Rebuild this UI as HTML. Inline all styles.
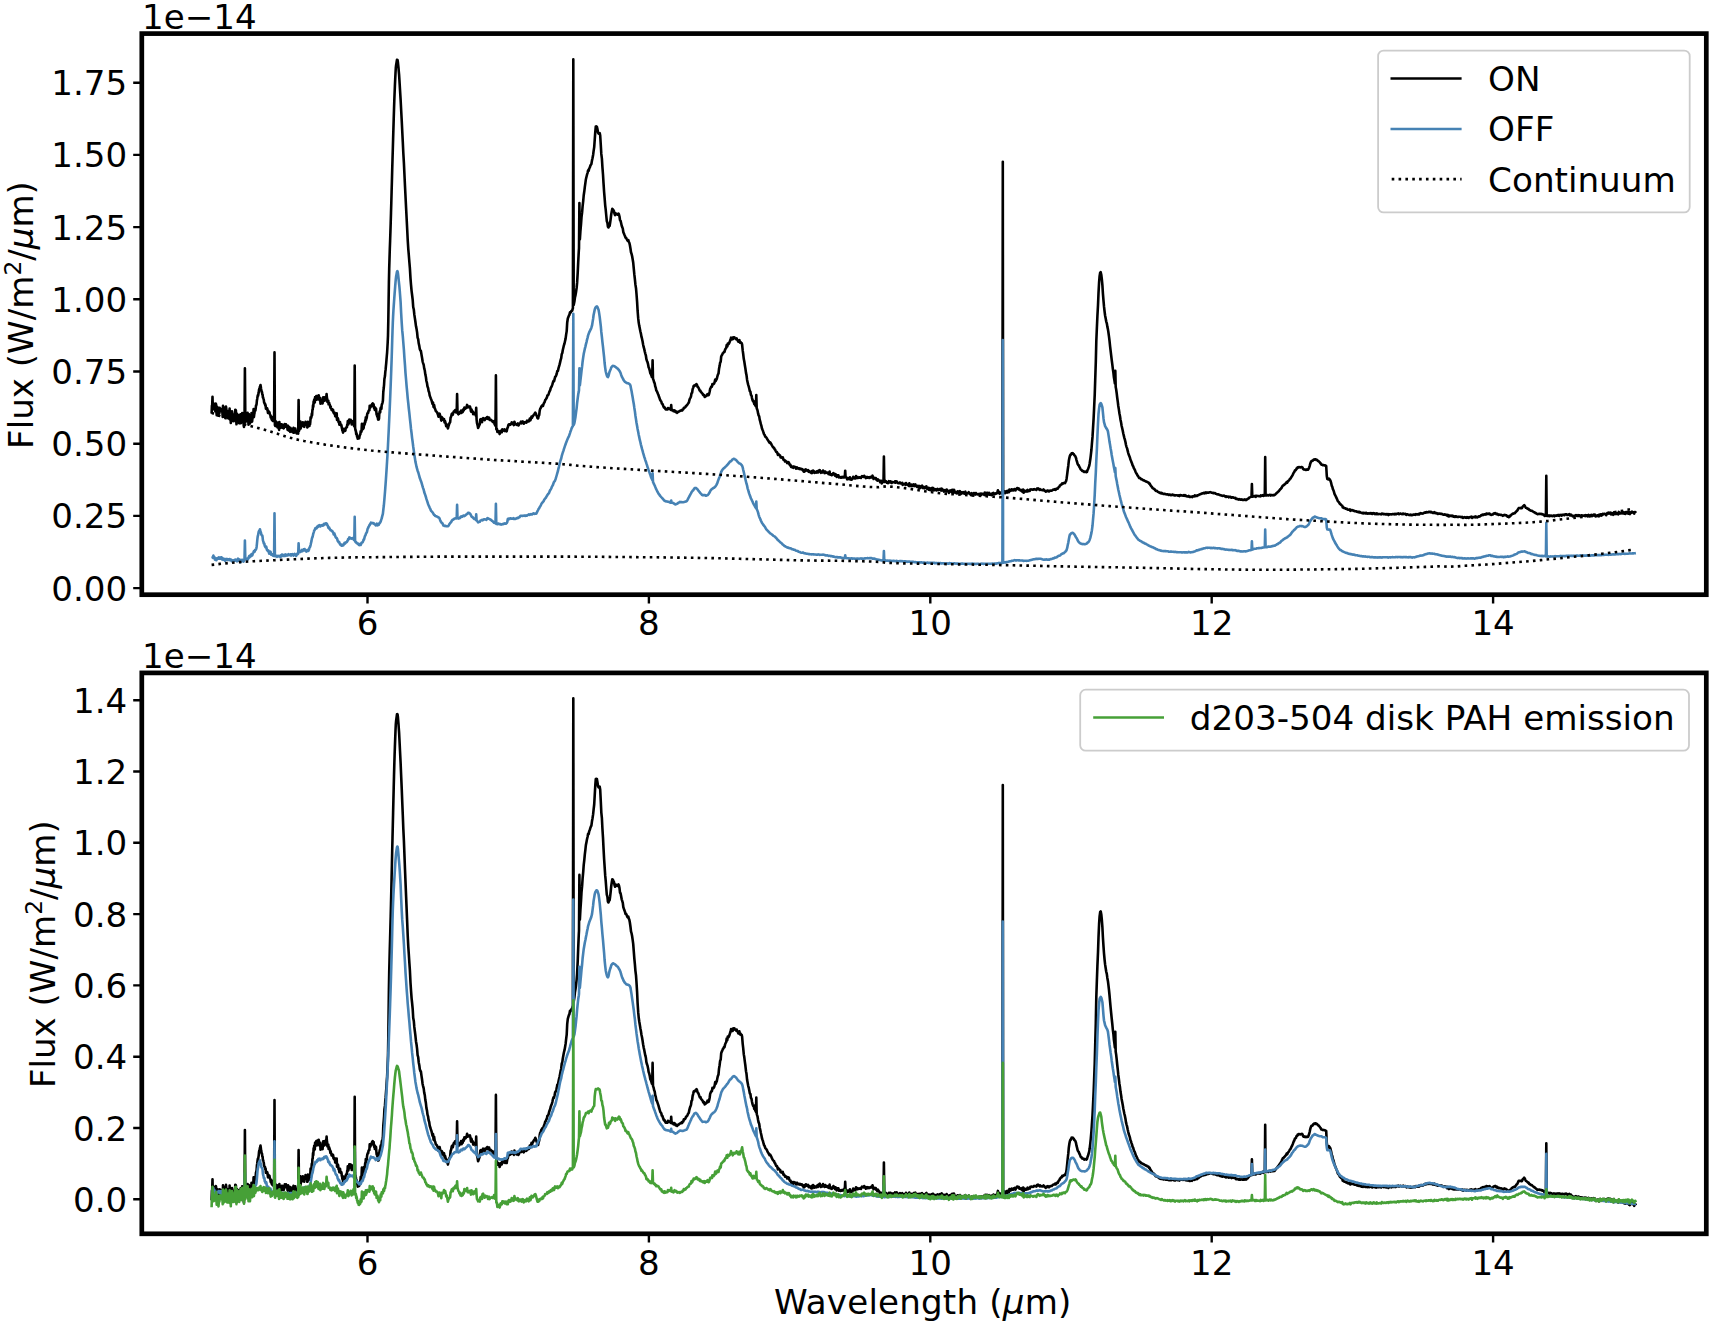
<!DOCTYPE html>
<html lang="en"><head><meta charset="utf-8"><title>Spectra</title>
<style>html,body{margin:0;padding:0;background:#fff}svg{display:block}text{font-family:"DejaVu Sans","Liberation Sans",sans-serif;fill:#000}</style></head><body>
<svg width="1713" height="1323" viewBox="0 0 1713 1323">
<rect width="1713" height="1323" fill="#fff"/>
<defs><clipPath id="c1"><rect x="141.8" y="33.6" width="1564.5" height="561.1"/></clipPath><clipPath id="c2"><rect x="141.8" y="672.9" width="1564.5" height="560.9"/></clipPath></defs>
<g clip-path="url(#c1)"><polyline fill="none" stroke="#000" stroke-width="2.6" stroke-linejoin="round"  points="211.6,413.6 211.9,405.8 212.2,405.1 212.5,396.8 212.8,407.3 213.1,406.2 213.4,405.5 213.7,408.9 214.0,409.5 214.3,403.9 214.6,404.7 214.9,406.4 215.2,411.1 215.5,410.7 215.8,403.6 216.1,404.5 216.4,411.8 216.7,415.2 217.0,409.1 217.3,406.7 217.6,413.7 217.9,408.4 218.2,412.5 218.5,415.8 218.8,412.4 219.1,410.4 219.4,413.1 219.7,407.9 220.0,409.8 220.3,408.4 220.6,410.0 220.9,409.0 221.2,410.3 221.5,409.7 221.8,411.6 222.1,411.6 222.4,412.7 222.7,417.0 223.0,405.9 223.3,416.8 223.6,411.1 223.9,407.4 224.2,411.6 224.5,412.7 224.8,416.6 225.1,408.6 225.4,413.6 225.7,413.3 226.0,406.6 226.3,408.6 226.6,415.5 226.9,416.0 227.2,417.6 227.5,415.6 227.8,415.2 228.1,414.3 228.4,418.5 228.7,410.9 229.0,413.6 229.3,415.8 229.6,408.5 229.9,419.5 230.2,411.7 230.5,414.5 230.8,423.0 231.1,411.9 231.4,413.1 231.7,421.1 232.0,411.3 232.3,413.8 232.6,417.5 232.9,417.4 233.2,418.1 233.5,417.4 233.8,421.2 234.1,420.1 234.4,418.6 234.7,414.0 235.0,414.0 235.3,409.7 235.6,419.5 235.9,410.3 236.2,420.5 236.5,424.3 236.8,413.6 237.1,415.1 237.4,416.0 237.7,421.0 238.0,414.9 238.3,417.7 238.6,416.3 238.9,417.5 239.2,423.3 239.5,415.0 239.8,418.9 240.1,419.8 240.4,422.0 240.7,414.2 241.0,423.1 241.3,420.6 241.6,422.2 241.9,419.3 242.2,413.0 242.5,416.7 242.8,422.0 243.1,419.2 243.4,418.8 243.7,425.6 244.0,427.0 244.3,418.8 244.5,423.6 244.9,368.3 245.3,414.9 245.5,422.0 245.8,417.8 246.1,420.8 246.4,420.5 246.7,418.3 247.0,421.0 247.3,419.0 247.6,412.8 247.9,419.1 248.2,418.9 248.5,424.8 248.8,414.0 249.1,418.0 249.4,416.3 249.7,417.2 250.0,423.5 250.3,418.7 250.6,415.5 250.9,417.5 251.2,419.5 251.5,413.0 251.8,415.4 252.1,421.7 252.4,418.9 252.7,415.4 253.0,413.5 253.3,414.3 253.6,409.0 253.9,417.1 254.2,414.5 254.5,413.3 254.8,409.0 255.1,409.5 255.4,410.5 255.7,408.4 256.0,405.6 256.3,405.2 256.6,403.9 256.9,400.5 257.2,398.9 257.5,396.9 257.8,395.2 258.1,395.7 258.4,394.1 258.7,392.6 259.0,389.9 259.3,388.8 259.6,388.4 259.9,386.8 260.2,386.4 260.5,385.1 260.8,386.8 261.1,389.0 261.4,390.3 261.7,392.0 262.0,392.0 262.3,394.3 262.6,394.6 262.9,397.5 263.2,397.7 263.5,398.9 263.8,399.9 264.1,402.4 264.4,403.0 264.7,403.9 265.0,403.5 265.3,405.7 265.6,405.0 265.9,408.7 266.2,407.8 266.5,408.8 266.8,409.2 267.1,408.3 267.4,409.1 267.7,411.0 268.0,413.0 268.3,410.9 268.6,411.8 268.9,413.0 269.2,411.8 269.5,412.3 269.8,414.1 270.1,414.9 270.4,415.1 270.7,417.5 271.0,416.3 271.3,417.4 271.6,419.2 271.9,419.8 272.2,417.1 272.5,418.9 272.8,421.0 273.1,419.0 273.4,419.9 273.7,420.0 274.0,420.3 274.1,420.5 274.5,352.4 274.9,425.0 275.2,425.9 275.5,424.1 275.8,421.3 276.1,424.8 276.4,424.8 276.7,426.4 277.0,425.8 277.3,422.9 277.6,427.5 277.9,422.7 278.2,425.5 278.5,427.5 278.8,427.6 279.1,429.9 279.4,422.1 279.7,427.4 280.0,428.1 280.3,426.0 280.6,427.8 280.9,424.3 281.2,427.7 281.5,427.4 281.8,424.4 282.1,424.9 282.4,425.8 282.7,424.8 283.0,428.0 283.3,426.3 283.6,428.4 283.9,428.1 284.2,426.0 284.5,425.5 284.8,424.0 285.1,424.3 285.4,424.4 285.7,426.6 286.0,424.4 286.3,426.3 286.6,426.7 286.9,425.5 287.2,426.3 287.5,429.5 287.8,430.0 288.1,425.7 288.4,427.0 288.7,426.9 289.0,427.3 289.3,430.8 289.6,429.4 289.9,430.7 290.2,431.8 290.5,427.9 290.8,428.5 291.1,429.1 291.4,431.1 291.7,429.2 292.0,430.7 292.3,431.9 292.6,432.1 292.9,431.0 293.2,428.9 293.5,427.7 293.8,432.8 294.1,431.8 294.4,429.4 294.7,430.4 295.0,430.7 295.3,428.6 295.6,432.2 295.9,430.5 296.2,431.5 296.5,433.4 296.8,432.0 297.1,433.1 297.4,432.9 297.7,432.1 298.0,431.8 298.2,433.6 298.6,400.0 299.0,431.0 299.2,427.6 299.5,429.7 299.8,427.9 300.1,425.6 300.4,421.6 300.7,428.4 301.0,423.2 301.3,423.2 301.6,425.0 301.9,424.9 302.2,425.2 302.5,424.3 302.8,422.2 303.1,426.2 303.4,423.2 303.7,425.1 304.0,425.7 304.3,426.8 304.6,424.4 304.9,424.3 305.2,424.4 305.5,421.7 305.8,423.5 306.1,423.1 306.4,422.9 306.7,425.0 307.0,424.2 307.3,427.4 307.6,427.2 307.9,421.7 308.2,425.0 308.5,423.1 308.8,425.7 309.1,425.0 309.4,426.0 309.7,424.5 310.0,424.5 310.3,421.9 310.6,417.3 310.9,418.3 311.2,417.7 311.5,416.6 311.8,413.6 312.1,415.2 312.4,409.8 312.7,409.7 313.0,405.2 313.3,407.0 313.6,401.5 313.9,403.4 314.2,399.5 314.5,401.4 314.8,402.5 315.1,397.0 315.4,397.6 315.7,398.9 316.0,398.0 316.3,396.0 316.6,399.6 316.9,397.8 317.2,399.5 317.5,397.9 317.8,395.7 318.1,396.6 318.4,399.3 318.7,395.3 319.0,396.9 319.3,398.9 319.6,400.1 319.9,400.6 320.2,398.1 320.5,403.8 320.8,401.3 321.1,402.1 321.4,402.4 321.7,402.2 322.0,401.1 322.3,401.7 322.6,403.5 322.9,399.3 323.2,397.3 323.5,400.7 323.8,399.9 324.1,399.9 324.4,400.8 324.7,397.4 325.0,398.5 325.3,399.1 325.6,400.2 325.9,400.1 326.2,398.0 326.6,394.0 327.0,398.5 327.1,398.1 327.4,402.0 327.7,400.5 328.0,401.0 328.3,400.7 328.6,404.3 328.9,403.3 329.2,403.0 329.5,404.9 329.8,404.7 330.1,406.2 330.4,407.8 330.7,406.5 331.0,408.1 331.3,408.6 331.6,410.0 331.9,409.8 332.2,409.6 332.5,409.3 332.8,411.0 333.1,409.8 333.4,412.5 333.7,412.2 334.0,413.4 334.3,412.5 334.6,412.7 334.9,413.1 335.2,416.2 335.5,415.1 335.8,415.6 336.1,414.2 336.4,417.0 336.7,413.3 337.0,420.0 337.3,418.6 337.6,419.5 337.9,418.3 338.2,419.3 338.5,422.1 338.8,421.7 339.1,423.1 339.4,424.7 339.7,424.6 340.0,422.0 340.3,423.9 340.6,424.4 340.9,425.5 341.2,424.8 341.5,425.6 341.8,427.9 342.1,428.8 342.4,430.7 342.7,430.1 343.0,432.6 343.3,428.8 343.6,429.4 343.9,431.3 344.2,430.4 344.5,429.2 344.8,430.9 345.1,430.8 345.4,430.6 345.7,428.0 346.0,428.0 346.3,427.7 346.6,426.9 346.9,427.3 347.2,424.7 347.5,424.9 347.8,421.0 348.1,423.9 348.4,424.4 348.7,421.9 349.0,422.9 349.3,419.6 349.6,421.2 349.9,419.7 350.2,422.0 350.5,422.2 350.8,419.9 351.1,420.6 351.4,420.9 351.7,424.5 352.0,421.5 352.3,421.7 352.6,422.0 352.9,422.0 353.2,421.6 353.5,420.8 353.8,422.4 354.1,426.2 354.3,425.9 354.7,365.5 355.1,427.3 355.3,429.3 355.6,430.7 355.9,431.1 356.2,434.1 356.5,433.3 356.8,434.6 357.1,436.7 357.4,436.8 357.7,438.7 358.0,437.6 358.3,437.6 358.6,438.5 358.9,437.8 359.2,438.2 359.5,436.5 359.8,435.1 360.1,434.7 360.4,434.1 360.7,431.2 361.0,431.7 361.3,430.8 361.5,431.7 361.9,423.7 362.3,429.7 362.5,427.5 362.8,428.4 363.1,429.1 363.4,426.9 363.7,427.9 364.0,423.5 364.3,425.1 364.6,424.4 364.9,423.1 365.2,420.4 365.5,421.9 365.8,417.3 366.1,420.0 366.4,418.2 366.7,418.0 367.0,415.5 367.3,413.6 367.6,413.4 367.9,412.5 368.2,412.8 368.5,410.9 368.8,410.8 369.1,410.1 369.4,410.3 369.7,405.7 370.0,406.9 370.3,407.7 370.6,407.2 370.9,405.4 371.2,405.3 371.5,405.2 371.8,405.1 372.1,404.1 372.4,403.9 372.7,403.4 373.0,404.4 373.3,406.6 373.6,404.3 373.9,406.8 374.2,408.4 374.5,406.9 374.8,409.9 375.1,407.6 375.4,410.3 375.7,408.9 376.0,408.5 376.3,411.5 376.6,414.7 376.9,413.5 377.2,416.3 377.5,416.1 377.8,417.4 378.1,419.7 378.4,419.3 378.7,419.5 379.0,418.6 379.3,413.7 379.6,412.0 379.9,411.1 380.2,412.4 380.5,408.6 380.8,407.6 381.1,407.8 381.4,408.8 381.7,405.0 382.0,404.3 382.3,403.3 382.6,402.3 382.9,400.8 383.3,392.0 383.7,388.3 383.8,387.5 384.1,384.3 384.4,379.0 384.7,377.4 385.0,375.8 385.3,371.9 385.6,369.7 385.9,366.4 386.2,363.3 386.5,359.6 386.8,356.0 387.1,352.7 387.4,347.5 387.7,342.3 388.0,335.6 388.3,320.9 388.6,301.7 388.9,282.5 389.2,268.6 389.5,258.9 389.8,249.2 390.1,241.0 390.4,232.2 390.7,223.0 391.0,212.9 391.3,202.7 391.6,191.9 391.9,181.4 392.2,170.1 392.5,159.8 392.8,149.7 393.1,139.4 393.4,129.2 393.7,119.4 394.0,109.7 394.3,100.7 394.6,93.0 394.9,85.9 395.2,79.4 395.5,73.2 395.8,68.0 396.1,65.2 396.4,63.4 396.7,61.5 397.0,59.8 397.3,59.7 397.6,60.2 397.9,62.1 398.2,65.1 398.5,67.9 398.8,71.6 399.1,74.9 399.4,79.7 399.7,84.7 400.0,89.7 400.6,99.3 401.1,109.0 401.7,120.1 402.2,130.3 402.8,142.1 403.3,152.8 403.9,162.9 404.4,173.5 405.0,186.2 405.5,196.3 406.1,208.1 406.6,217.9 407.2,229.5 407.7,239.7 408.3,249.2 408.8,255.0 409.4,262.5 409.9,268.4 410.5,278.4 411.0,284.6 411.6,291.1 412.1,295.0 412.7,299.9 413.2,307.0 413.8,309.5 414.3,314.4 414.9,318.4 415.4,321.7 416.0,326.3 416.5,328.6 417.1,332.4 417.6,337.6 418.2,339.2 418.7,343.3 419.3,345.9 419.8,349.1 420.4,350.6 420.9,351.0 421.5,354.6 422.0,357.4 422.6,361.3 423.1,363.1 423.7,364.9 424.2,368.4 424.8,370.5 425.3,374.3 425.9,377.0 426.4,381.0 427.0,383.2 427.5,386.5 428.1,388.0 428.6,391.1 429.2,392.6 429.7,395.5 430.3,397.1 430.8,398.5 431.4,399.9 431.9,401.6 432.5,403.8 433.0,402.5 433.6,407.2 434.1,404.9 434.7,408.2 435.2,409.1 435.8,411.1 436.3,411.5 436.9,412.1 437.4,413.0 438.0,414.7 438.5,416.8 439.1,415.5 439.6,413.7 440.2,415.9 440.7,417.2 441.3,420.6 441.8,417.1 442.4,418.0 442.9,419.5 443.5,419.9 444.0,419.1 444.6,422.4 445.1,421.3 445.7,423.5 446.2,426.2 446.8,424.5 447.3,426.2 447.9,428.5 448.4,426.4 449.0,424.5 449.5,423.1 450.1,422.3 450.6,417.7 451.2,416.5 451.7,414.1 452.3,413.4 452.8,414.7 453.4,412.5 453.9,411.3 454.5,411.6 455.0,410.3 455.6,409.9 456.1,412.5 456.7,412.4 457.1,394.1 457.5,412.3 457.8,413.2 458.3,414.3 458.9,413.5 459.4,413.6 460.0,411.8 460.5,412.6 461.1,410.5 461.6,412.9 462.2,411.1 462.7,412.0 463.3,409.3 463.8,410.4 464.4,407.5 464.9,408.2 465.5,408.6 466.0,407.9 466.6,406.9 467.1,404.9 467.7,407.4 468.2,406.5 468.8,406.8 469.3,407.1 469.9,406.4 470.4,408.2 471.0,411.6 471.5,409.4 472.1,411.5 472.6,411.3 473.2,414.2 473.7,413.3 474.3,412.8 474.8,414.0 475.4,414.4 475.8,415.5 476.2,407.8 476.6,419.6 477.0,423.2 477.6,425.3 478.1,427.9 478.7,426.6 479.2,425.4 479.8,424.2 480.3,419.5 480.9,419.2 481.4,421.1 482.0,422.2 482.5,419.0 483.1,418.1 483.6,419.4 484.2,419.2 484.7,420.1 485.3,418.3 485.8,418.9 486.4,418.6 486.9,417.3 487.5,417.1 488.0,418.9 488.6,418.9 489.1,417.7 489.7,420.0 490.2,419.7 490.8,419.7 491.3,420.3 491.9,420.6 492.4,421.5 493.0,422.2 493.5,422.2 494.1,421.2 494.6,424.3 495.2,425.1 495.5,425.8 495.9,375.4 496.3,429.3 496.8,428.5 497.4,432.0 497.9,431.3 498.5,431.0 499.0,431.3 499.6,434.1 500.1,432.9 500.7,430.9 501.2,431.8 501.8,432.2 502.3,429.4 502.9,429.7 503.4,430.7 504.0,430.1 504.5,429.3 505.1,431.1 505.6,430.0 506.2,430.1 506.7,431.3 507.3,428.2 507.8,427.5 508.4,424.9 508.9,424.2 509.5,424.3 510.0,424.8 510.6,424.5 511.1,424.2 511.7,422.4 512.2,422.7 512.8,423.5 513.3,424.4 513.9,425.1 514.4,421.7 515.0,423.9 515.5,423.9 516.1,424.4 516.6,424.8 517.2,423.9 517.7,423.5 518.3,425.5 518.8,425.0 519.4,423.6 519.9,423.5 520.5,422.6 521.0,421.6 521.6,423.3 522.1,421.9 522.7,421.4 523.2,421.8 523.8,423.7 524.3,422.6 524.9,422.3 525.4,422.1 526.0,422.7 526.5,422.5 527.1,420.7 527.6,421.5 528.2,421.0 528.7,421.4 529.3,420.7 529.8,418.6 530.4,420.3 530.9,418.9 531.5,416.5 532.0,417.9 532.6,416.3 533.1,415.8 533.7,414.8 534.2,414.4 534.8,413.6 535.3,412.6 535.9,413.6 536.4,415.2 537.0,416.5 537.5,418.2 538.1,418.5 538.6,416.3 539.2,415.0 539.7,410.6 540.3,408.5 540.8,407.9 541.4,406.3 541.9,406.5 542.5,405.1 543.0,405.9 543.6,403.9 544.1,402.9 544.7,401.8 545.2,400.0 545.8,399.5 546.3,398.5 546.9,397.5 547.4,395.4 548.0,395.2 548.5,394.5 549.1,392.5 549.6,391.3 550.2,390.1 550.7,388.2 551.3,387.0 551.8,386.1 552.4,384.4 552.9,382.5 553.5,380.9 554.0,381.3 554.6,379.2 555.1,377.0 555.7,376.4 556.2,375.2 556.8,373.5 557.3,371.0 557.9,371.0 558.4,368.7 559.0,366.5 559.5,364.9 560.1,362.4 560.6,360.1 561.2,358.2 561.7,354.3 562.3,353.0 562.8,350.0 563.4,347.5 563.9,345.3 564.5,343.5 565.0,341.3 565.6,338.6 566.1,334.9 566.7,331.1 567.2,322.7 567.8,318.5 568.3,317.2 568.9,315.6 569.4,314.9 570.0,312.2 570.5,312.6 571.1,311.7 571.6,310.7 572.2,310.8 572.7,308.6 572.9,308.2 573.3,59.4 573.7,305.1 573.8,304.6 574.4,301.6 574.9,297.8 575.5,295.1 576.0,292.2 576.6,288.0 577.1,282.9 577.7,272.9 578.2,262.3 578.8,251.0 579.0,248.1 579.4,203.0 579.8,239.5 579.9,239.0 580.4,231.4 581.0,224.3 581.5,217.4 582.1,212.4 582.6,206.3 583.2,201.1 583.7,195.5 584.3,191.3 584.8,187.1 585.4,182.9 585.9,179.2 586.5,176.8 587.0,174.7 587.6,172.8 588.1,170.3 588.7,170.7 589.2,168.4 589.8,167.5 590.3,165.9 590.9,164.7 591.4,164.0 592.0,160.4 592.5,158.3 593.1,155.0 593.6,151.2 594.2,147.1 594.7,140.1 595.3,131.6 595.8,126.5 596.4,126.4 596.9,126.8 597.5,129.4 598.0,132.6 598.6,133.6 599.1,133.4 599.7,133.1 600.2,135.5 600.8,145.1 601.3,153.9 601.9,158.7 602.4,166.9 603.0,174.5 603.5,182.9 604.1,191.9 604.6,197.9 605.2,205.3 605.7,209.7 606.3,216.0 606.8,221.0 607.4,222.7 607.9,226.7 608.5,227.5 609.0,225.9 609.6,225.9 610.1,223.1 610.7,218.7 611.2,214.5 611.8,211.2 612.3,208.8 612.9,209.4 613.4,210.3 614.0,211.2 614.5,213.8 615.1,215.1 615.6,213.3 616.2,213.6 616.7,214.1 617.3,214.6 617.8,214.3 618.4,213.5 618.9,214.3 619.5,216.5 620.0,220.2 620.6,220.9 621.1,223.0 621.7,225.7 622.2,227.0 622.8,228.6 623.3,232.0 623.9,233.6 624.4,234.8 625.0,236.1 625.5,237.7 626.1,237.7 626.6,238.8 627.2,240.0 627.7,240.8 628.3,240.1 628.8,241.7 629.4,243.0 629.9,245.2 630.5,248.8 631.0,252.3 631.6,254.0 632.1,256.1 632.7,259.5 633.2,262.5 633.8,268.9 634.3,274.2 634.9,279.3 635.4,284.4 636.0,288.2 636.5,294.0 637.1,301.9 637.6,310.7 638.2,318.2 638.7,322.6 639.3,326.1 639.8,328.5 640.4,331.5 640.9,333.6 641.5,336.9 642.0,338.7 642.6,341.6 643.1,344.4 643.7,347.2 644.2,348.9 644.8,351.6 645.3,353.6 645.9,355.7 646.4,359.2 647.0,361.0 647.5,362.1 648.1,364.4 648.6,367.2 649.2,368.6 649.7,370.3 650.3,373.3 650.8,374.0 651.4,375.4 651.9,377.0 652.2,377.2 652.6,360.2 653.0,378.8 653.6,380.2 654.1,382.2 654.7,383.4 655.2,386.3 655.8,387.9 656.3,390.5 656.9,391.3 657.4,392.5 658.0,394.0 658.5,395.1 659.1,397.1 659.6,398.3 660.2,400.1 660.7,400.8 661.3,401.5 661.8,403.5 662.4,403.8 662.9,405.0 663.5,406.6 664.0,407.5 664.6,407.3 665.1,408.3 665.7,409.5 666.2,409.5 666.8,409.3 667.3,409.5 667.9,408.0 668.4,409.0 669.0,408.4 669.5,408.9 670.1,409.1 670.6,409.6 670.8,409.8 671.2,405.0 671.6,410.1 671.7,410.1 672.3,410.1 672.8,410.0 673.4,411.2 673.9,411.0 674.5,410.3 675.0,411.5 675.6,412.1 676.1,411.5 676.7,412.2 677.2,412.8 677.8,411.8 678.3,411.8 678.9,411.6 679.4,411.0 680.0,411.0 680.5,410.6 681.1,410.7 681.6,410.1 682.2,410.5 682.7,409.5 683.3,409.4 683.8,407.8 684.4,407.8 684.9,407.5 685.5,407.0 686.0,405.8 686.6,405.5 687.1,405.0 687.7,404.1 688.2,403.3 688.8,402.7 689.3,400.5 689.9,398.7 690.4,397.8 691.0,396.4 691.5,393.3 692.1,392.7 692.6,389.4 693.2,387.6 693.7,385.8 694.3,385.5 694.8,385.8 695.4,385.3 695.9,384.5 696.5,384.1 697.0,384.9 697.6,386.8 698.1,387.1 698.7,388.1 699.2,389.4 699.8,390.7 700.3,390.5 700.9,391.9 701.4,392.6 702.0,393.1 702.5,393.6 703.1,394.9 703.6,395.4 704.2,395.0 704.7,396.9 705.3,396.4 705.8,396.2 706.4,395.8 706.9,395.6 707.5,394.1 708.0,395.1 708.6,395.1 709.1,394.0 709.7,391.5 710.2,388.6 710.8,387.6 711.3,386.6 711.9,386.7 712.4,384.1 713.0,384.5 713.5,384.2 714.1,383.6 714.6,382.3 715.2,379.5 715.7,381.0 716.3,379.7 716.8,378.9 717.4,376.3 717.9,374.7 718.5,373.5 719.0,369.1 719.6,366.1 720.1,362.8 720.7,361.6 721.2,356.5 721.8,355.2 722.3,354.5 722.9,353.1 723.4,352.9 724.0,351.8 724.5,351.8 725.1,349.6 725.6,348.7 726.2,347.9 726.7,345.0 727.3,346.5 727.8,343.5 728.4,344.2 728.9,343.6 729.5,342.4 730.0,341.0 730.6,339.6 731.1,337.7 731.7,339.4 732.2,338.1 732.8,339.2 733.3,337.2 733.9,337.9 734.4,337.3 735.0,338.5 735.5,338.5 736.1,339.2 736.6,338.4 737.2,339.7 737.7,340.4 738.3,341.7 738.8,341.1 739.4,340.1 739.9,342.6 740.5,341.9 741.0,343.0 741.6,343.0 742.1,344.5 742.7,350.4 743.2,354.0 743.8,359.1 744.3,361.5 744.9,365.5 745.4,368.5 746.0,372.9 746.5,375.1 747.1,379.9 747.6,382.3 748.2,384.9 748.7,386.4 749.3,388.8 749.8,391.1 750.4,391.7 750.9,394.9 751.5,395.6 752.0,398.1 752.6,400.3 753.1,401.4 753.7,401.1 754.2,404.0 754.8,404.3 755.3,405.4 755.9,406.5 756.3,395.1 756.7,408.1 757.0,409.1 757.5,410.3 758.1,413.4 758.6,415.3 759.2,416.4 759.7,419.6 760.3,421.7 760.8,423.9 761.4,425.9 761.9,428.2 762.5,429.8 763.0,431.0 763.6,433.0 764.1,434.3 764.7,435.0 765.2,436.5 765.8,437.1 766.3,437.5 766.9,438.4 767.4,439.4 768.0,440.4 768.5,441.0 769.1,442.0 769.6,442.8 770.2,442.4 770.7,443.0 771.3,444.2 771.8,445.2 772.4,446.2 772.9,446.9 773.5,447.7 774.0,447.8 774.6,449.3 775.1,449.6 775.7,451.0 776.2,452.0 776.8,451.9 777.3,452.8 777.9,454.9 778.4,454.0 779.0,454.8 779.5,455.1 780.1,455.5 780.6,457.4 781.2,457.1 781.7,457.6 782.3,458.0 782.8,457.3 783.4,459.8 783.9,459.5 784.5,460.2 785.0,461.4 785.6,460.9 786.1,461.5 786.7,462.0 787.2,463.1 787.8,462.0 788.3,463.0 788.9,462.5 789.4,464.3 790.0,465.1 790.5,464.9 791.1,466.8 791.6,466.5 792.2,467.4 792.7,466.5 793.3,467.8 793.8,466.5 794.4,467.3 794.9,467.3 795.5,467.1 796.0,468.6 796.6,468.5 797.1,467.4 797.7,468.4 798.2,468.2 798.8,468.5 799.3,469.0 799.9,468.4 800.4,469.1 801.0,469.3 801.5,468.9 802.1,469.2 802.6,470.3 803.2,469.9 803.7,471.6 804.3,471.7 804.8,469.9 805.4,470.8 805.9,469.4 806.5,470.5 807.0,470.5 807.6,470.8 808.1,470.0 808.7,471.8 809.2,471.9 809.8,471.3 810.3,471.9 810.9,472.6 811.4,473.1 812.0,471.0 812.5,473.0 813.1,470.6 813.6,471.2 814.2,471.5 814.7,472.8 815.3,472.1 815.8,472.0 816.4,472.6 816.9,471.6 817.5,471.1 818.0,472.5 818.6,471.2 819.1,470.4 819.7,470.0 820.2,471.5 820.8,472.8 821.3,472.0 821.9,471.5 822.4,472.5 823.0,470.5 823.5,472.1 824.1,471.5 824.6,473.1 825.2,471.5 825.7,472.9 826.3,472.6 826.8,472.6 827.4,473.2 827.9,472.7 828.5,474.1 829.0,472.9 829.6,471.5 830.1,474.6 830.7,474.7 831.2,474.3 831.8,475.2 832.3,474.8 832.9,473.8 833.4,473.0 834.0,474.0 834.5,474.8 835.1,475.6 835.6,474.2 836.2,474.8 836.7,476.9 837.3,475.2 837.8,475.3 838.4,475.2 838.9,477.4 839.5,476.8 840.0,476.9 840.6,477.6 841.1,477.2 841.7,477.6 842.2,476.9 842.8,477.4 843.3,477.3 843.9,477.5 844.4,476.1 844.8,476.8 845.2,470.7 845.6,477.2 846.1,477.1 846.6,477.7 847.2,479.3 847.7,478.7 848.3,478.1 848.8,478.3 849.4,479.2 849.9,477.2 850.5,478.5 851.0,479.6 851.6,479.7 852.1,479.0 852.7,478.7 853.2,476.8 853.8,477.7 854.3,478.2 854.9,478.5 855.4,478.4 856.0,476.1 856.5,477.4 857.1,478.0 857.6,477.0 858.2,477.3 858.7,477.8 859.3,477.5 859.8,477.3 860.4,477.7 860.9,478.0 861.5,476.8 862.0,476.2 862.6,476.5 863.1,476.6 863.7,477.0 864.2,475.8 864.8,476.4 865.3,476.8 865.9,478.1 866.4,477.4 867.0,476.9 867.5,477.7 868.1,477.2 868.6,477.2 869.2,477.9 869.7,477.3 870.3,477.1 870.8,477.6 871.4,476.7 871.9,477.3 872.5,475.7 873.0,477.3 873.6,479.0 874.1,477.8 874.7,478.3 875.2,478.2 875.8,478.0 876.3,479.6 876.9,479.5 877.4,480.6 878.0,479.4 878.5,480.4 879.1,480.4 879.6,480.6 880.2,482.2 880.7,480.8 881.3,480.8 881.8,483.5 882.4,481.4 882.9,481.4 883.5,481.8 883.9,456.5 884.3,481.4 884.6,481.9 885.1,480.7 885.7,481.3 886.2,481.2 886.8,482.7 887.3,482.2 887.9,483.2 888.4,483.1 889.0,481.2 889.5,482.2 890.1,481.4 890.6,481.3 891.2,482.8 891.7,483.0 892.3,482.0 892.8,482.2 893.4,482.2 893.9,482.3 894.5,482.4 895.0,481.3 895.6,482.7 896.1,481.8 896.7,481.4 897.2,482.4 897.8,482.8 898.3,483.3 898.9,483.1 899.4,483.1 900.0,482.4 900.5,483.4 901.1,483.4 901.6,483.5 902.2,482.8 902.7,484.9 903.3,484.2 903.8,484.3 904.4,483.9 904.9,483.7 905.5,484.8 906.0,483.1 906.6,483.9 907.1,484.1 907.7,484.9 908.2,484.3 908.8,485.8 909.3,483.3 909.9,486.1 910.4,485.2 911.0,485.8 911.5,484.7 912.1,486.1 912.6,485.1 913.2,485.7 913.7,484.4 914.3,486.1 914.8,485.9 915.4,484.4 915.9,485.9 916.5,485.9 917.0,486.9 917.6,485.8 918.1,486.6 918.7,487.6 919.2,485.9 919.8,488.2 920.3,487.0 920.9,486.8 921.4,485.9 922.0,485.7 922.5,488.0 923.1,486.9 923.6,486.9 924.2,488.3 924.7,488.1 925.3,487.8 925.8,486.6 926.4,486.3 926.9,488.7 927.5,488.0 928.0,487.9 928.6,489.7 929.1,487.9 929.7,488.6 930.2,490.2 930.8,489.0 931.3,488.2 931.9,488.0 932.4,489.8 933.0,487.9 933.5,489.6 934.1,490.3 934.6,489.0 935.2,489.9 935.7,489.3 936.3,490.5 936.8,489.7 937.4,488.9 937.9,489.9 938.5,489.8 939.0,489.3 939.6,489.6 940.1,488.9 940.7,489.3 941.2,490.6 941.8,488.7 942.3,490.4 942.9,490.3 943.4,489.9 944.0,491.6 944.5,491.1 945.1,490.1 945.6,490.8 946.2,491.5 946.7,489.6 947.3,491.1 947.8,490.8 948.4,491.4 948.9,492.9 949.5,490.7 950.0,491.0 950.6,490.4 951.1,491.7 951.7,492.1 952.2,489.7 952.8,492.9 953.3,493.1 953.9,489.7 954.4,490.7 955.0,492.4 955.5,492.2 956.1,493.1 956.6,492.0 957.2,493.4 957.7,491.3 958.3,492.8 958.8,492.2 959.4,492.2 959.9,491.2 960.5,492.4 961.0,493.9 961.6,492.3 962.1,492.7 962.7,493.1 963.2,492.2 963.8,493.3 964.3,493.6 964.9,493.0 965.4,491.7 966.0,494.5 966.5,493.4 967.1,493.3 967.6,493.2 968.2,493.0 968.7,492.2 969.3,493.5 969.8,493.7 970.4,494.4 970.9,495.0 971.5,493.2 972.0,495.1 972.6,493.9 973.1,494.3 973.7,493.1 974.2,494.2 974.8,493.2 975.3,494.6 975.9,493.0 976.4,494.1 977.0,493.8 977.5,494.4 978.1,494.4 978.6,494.3 979.2,493.8 979.7,494.9 980.3,494.7 980.8,493.6 981.4,494.8 981.9,493.7 982.5,494.3 983.0,494.1 983.6,494.1 984.1,494.8 984.7,492.7 985.2,495.2 985.8,492.7 986.3,495.1 986.9,494.5 987.4,492.8 988.0,494.3 988.5,493.7 989.1,492.9 989.6,494.8 990.2,494.7 990.7,494.1 991.3,495.1 991.8,493.8 992.4,493.4 992.9,494.6 993.5,492.9 994.0,494.1 994.6,494.3 995.1,493.5 995.7,493.4 996.2,493.6 996.8,493.4 997.3,492.6 997.9,490.2 998.4,492.6 999.0,491.8 999.5,493.7 1000.1,492.5 1000.6,493.0 1001.2,493.3 1001.7,493.4 1002.3,491.7 1002.4,492.2 1002.8,161.7 1003.1,493.4 1003.4,492.9 1003.9,492.6 1004.5,491.1 1005.0,493.3 1005.6,492.0 1006.1,492.3 1006.7,491.0 1007.2,492.6 1007.8,492.1 1008.3,490.7 1008.9,492.2 1009.4,489.6 1010.0,491.0 1010.5,490.7 1011.1,490.6 1011.6,489.3 1012.2,489.5 1012.7,490.5 1013.3,490.4 1013.8,489.5 1014.4,489.2 1014.9,489.0 1015.5,490.4 1016.0,489.3 1016.6,489.0 1017.1,488.1 1017.7,488.3 1018.2,489.0 1018.8,488.5 1019.3,489.9 1019.9,490.2 1020.4,489.9 1021.0,490.5 1021.5,491.0 1022.1,489.9 1022.6,491.8 1023.2,489.5 1023.7,492.8 1024.3,490.4 1024.8,491.4 1025.4,491.1 1025.9,491.5 1026.5,490.7 1027.0,491.4 1027.6,489.9 1028.1,491.3 1028.7,490.5 1029.2,490.7 1029.8,490.9 1030.3,489.4 1030.9,489.6 1031.4,489.4 1032.0,489.6 1032.5,489.6 1033.1,489.8 1033.6,489.4 1034.2,489.1 1034.7,489.3 1035.3,489.5 1035.8,489.4 1036.4,489.9 1036.9,488.6 1037.5,489.0 1038.0,488.3 1038.6,488.8 1039.1,489.5 1039.7,489.9 1040.2,489.2 1040.8,489.8 1041.3,489.8 1041.9,490.1 1042.4,490.2 1043.0,490.1 1043.5,489.5 1044.1,490.0 1044.6,490.8 1045.2,490.8 1045.7,491.7 1046.3,491.0 1046.8,491.3 1047.4,490.6 1047.9,490.5 1048.5,491.0 1049.0,491.5 1049.6,491.0 1050.1,490.6 1050.7,490.8 1051.2,490.8 1051.8,490.6 1052.3,490.3 1052.9,489.8 1053.4,489.6 1054.0,489.7 1054.5,489.6 1055.1,489.1 1055.6,489.9 1056.2,489.3 1056.7,488.6 1057.3,488.6 1057.8,488.7 1058.4,487.5 1058.9,486.9 1059.5,486.6 1060.0,485.3 1060.6,485.0 1061.1,484.5 1061.7,484.5 1062.2,483.4 1062.8,483.7 1063.3,483.3 1063.9,483.1 1064.4,482.8 1065.0,483.1 1065.5,482.0 1066.1,481.1 1066.6,478.7 1067.2,474.2 1067.7,470.0 1068.3,465.7 1068.8,461.1 1069.4,457.8 1069.9,455.9 1070.5,454.6 1071.0,454.7 1071.6,453.3 1072.1,453.5 1072.7,453.2 1073.2,453.8 1073.8,454.2 1074.3,455.3 1074.9,455.6 1075.4,456.4 1076.0,457.9 1076.5,460.1 1077.1,462.0 1077.6,463.8 1078.2,465.0 1078.7,465.2 1079.3,466.7 1079.8,467.4 1080.4,468.8 1080.9,469.7 1081.5,469.7 1082.0,470.8 1082.6,471.1 1083.1,471.1 1083.7,471.2 1084.2,472.0 1084.8,471.7 1085.3,471.6 1085.9,472.0 1086.4,472.2 1087.0,471.8 1087.5,470.2 1088.1,469.0 1088.6,467.6 1089.2,465.9 1089.7,463.3 1090.3,459.3 1090.8,455.3 1091.4,450.0 1091.9,443.8 1092.5,436.9 1093.0,428.6 1093.6,418.7 1094.1,408.3 1094.7,395.4 1095.2,380.3 1095.8,362.0 1096.3,341.5 1096.9,327.2 1097.4,316.3 1098.0,305.3 1098.5,293.2 1099.1,282.0 1099.6,276.2 1100.2,272.5 1100.7,272.2 1101.3,274.8 1101.8,278.9 1102.4,285.1 1102.9,293.3 1103.5,300.7 1104.0,306.4 1104.6,311.7 1105.1,315.5 1105.7,318.6 1106.2,321.3 1106.8,323.3 1107.3,326.4 1107.9,329.1 1108.4,332.3 1109.0,336.6 1109.5,340.6 1110.1,346.3 1110.6,350.7 1111.2,355.7 1111.7,359.8 1112.3,364.3 1112.8,368.6 1113.4,372.5 1113.9,377.3 1114.5,380.8 1114.9,383.6 1115.3,370.8 1115.7,387.1 1116.1,389.0 1116.7,393.3 1117.2,397.5 1117.8,401.9 1118.3,406.0 1118.9,409.6 1119.4,413.2 1120.0,416.2 1120.5,419.8 1121.1,422.6 1121.6,425.8 1122.2,428.3 1122.7,430.5 1123.3,433.5 1123.8,435.6 1124.4,438.1 1124.9,439.7 1125.5,442.2 1126.0,445.0 1126.6,447.1 1127.1,448.4 1127.7,450.9 1128.2,452.8 1128.8,454.8 1129.3,456.0 1129.9,457.5 1130.4,459.5 1131.0,460.8 1131.5,462.3 1132.1,463.6 1132.6,465.4 1133.2,466.2 1133.7,467.8 1134.3,468.9 1134.8,469.8 1135.4,471.4 1135.9,472.6 1136.5,473.5 1137.0,474.4 1137.6,475.6 1138.1,476.1 1138.7,477.2 1139.2,478.0 1139.8,477.8 1140.3,478.1 1140.9,479.1 1141.4,479.0 1142.0,479.4 1142.5,479.9 1143.1,480.0 1143.6,480.4 1144.2,480.4 1144.7,480.8 1145.3,481.1 1145.8,481.5 1146.4,481.5 1146.9,481.9 1147.5,482.2 1148.0,482.5 1148.6,482.6 1149.1,483.5 1149.7,483.6 1150.2,484.8 1150.8,485.6 1151.3,486.4 1151.9,486.8 1152.4,487.9 1153.0,488.3 1153.5,488.4 1154.1,489.1 1154.6,489.3 1155.2,490.1 1155.7,490.8 1156.3,491.0 1156.8,490.9 1157.4,491.3 1157.9,491.8 1158.5,492.1 1159.0,492.5 1159.6,492.5 1160.1,493.0 1160.7,492.8 1161.2,493.4 1161.8,492.9 1162.3,493.3 1162.9,493.6 1163.4,494.0 1164.0,494.0 1164.5,493.8 1165.1,493.8 1165.6,494.3 1166.2,494.3 1166.7,494.4 1167.3,494.5 1167.8,494.3 1168.4,494.8 1168.9,495.0 1169.5,494.6 1170.0,494.6 1170.6,495.2 1171.1,495.2 1171.7,494.8 1172.2,494.8 1172.8,494.6 1173.3,495.2 1173.9,495.2 1174.4,495.1 1175.0,495.7 1175.5,495.2 1176.1,495.2 1176.6,495.3 1177.2,495.2 1177.7,495.6 1178.3,495.3 1178.8,495.4 1179.4,496.0 1179.9,495.3 1180.5,495.1 1181.0,495.5 1181.6,495.3 1182.1,495.4 1182.7,495.6 1183.2,495.8 1183.8,495.2 1184.3,495.6 1184.9,495.2 1185.4,496.0 1186.0,495.6 1186.5,496.1 1187.1,496.5 1187.6,496.5 1188.2,496.4 1188.7,495.9 1189.3,497.0 1189.8,496.5 1190.4,496.9 1190.9,496.6 1191.5,496.7 1192.0,497.1 1192.6,496.2 1193.1,496.2 1193.7,496.3 1194.2,496.5 1194.8,495.4 1195.3,496.2 1195.9,495.6 1196.4,495.7 1197.0,496.0 1197.5,495.4 1198.1,495.3 1198.6,495.2 1199.2,494.6 1199.7,494.5 1200.3,494.2 1200.8,494.1 1201.4,493.7 1201.9,493.5 1202.5,493.3 1203.0,493.5 1203.6,492.8 1204.1,493.1 1204.7,493.4 1205.2,492.6 1205.8,492.4 1206.3,493.0 1206.9,492.5 1207.4,492.5 1208.0,492.8 1208.5,492.7 1209.1,492.4 1209.6,492.4 1210.2,492.1 1210.7,492.3 1211.3,492.5 1211.8,492.7 1212.4,492.7 1212.9,493.1 1213.5,492.8 1214.0,493.2 1214.6,493.2 1215.1,493.1 1215.7,493.7 1216.2,493.9 1216.8,494.2 1217.3,494.3 1217.9,494.4 1218.4,494.3 1219.0,494.6 1219.5,494.9 1220.1,495.1 1220.6,495.3 1221.2,495.4 1221.7,495.6 1222.3,495.9 1222.8,495.8 1223.4,495.7 1223.9,495.6 1224.5,496.1 1225.0,496.4 1225.6,496.3 1226.1,496.9 1226.7,496.4 1227.2,496.6 1227.8,496.8 1228.3,496.6 1228.9,497.3 1229.4,496.9 1230.0,496.9 1230.5,496.8 1231.1,497.6 1231.6,497.7 1232.2,497.2 1232.7,497.2 1233.3,497.6 1233.8,497.8 1234.4,497.8 1234.9,498.1 1235.5,497.9 1236.0,498.9 1236.6,498.7 1237.1,499.1 1237.7,498.9 1238.2,499.3 1238.8,499.6 1239.3,499.1 1239.9,499.4 1240.4,499.7 1241.0,499.7 1241.5,499.4 1242.1,499.6 1242.6,499.9 1243.2,499.9 1243.7,499.7 1244.3,499.9 1244.8,499.3 1245.4,499.9 1245.9,500.1 1246.5,499.9 1247.0,499.3 1247.6,499.1 1248.1,498.7 1248.7,498.3 1249.2,497.7 1249.8,497.2 1250.3,497.2 1250.9,496.9 1251.4,496.5 1251.5,496.7 1251.9,484.0 1252.3,496.7 1252.5,496.5 1253.1,496.6 1253.6,496.5 1254.2,496.1 1254.7,496.5 1255.3,495.9 1255.8,496.8 1256.4,495.9 1256.9,495.9 1257.5,496.0 1258.0,496.0 1258.6,496.0 1259.1,496.2 1259.7,496.2 1260.2,496.4 1260.8,495.4 1261.3,495.9 1261.9,495.8 1262.4,495.4 1263.0,495.0 1263.5,495.9 1264.1,495.6 1264.6,494.8 1264.8,495.1 1265.2,457.1 1265.6,495.4 1265.7,495.4 1266.3,495.3 1266.8,495.5 1267.4,495.1 1267.9,495.2 1268.5,495.5 1269.0,495.0 1269.6,494.9 1270.1,494.8 1270.7,495.5 1271.2,495.0 1271.8,495.2 1272.3,495.1 1272.9,495.4 1273.4,495.3 1274.0,494.9 1274.5,495.2 1275.1,494.6 1275.6,494.2 1276.2,493.5 1276.7,493.0 1277.3,492.5 1277.8,492.0 1278.4,491.5 1278.9,491.0 1279.5,490.2 1280.0,489.6 1280.6,489.1 1281.1,488.4 1281.7,487.6 1282.2,486.5 1282.8,485.6 1283.3,485.5 1283.9,485.0 1284.4,484.5 1285.0,484.2 1285.5,483.5 1286.1,483.2 1286.6,482.1 1287.2,482.6 1287.7,481.6 1288.3,480.9 1288.8,480.6 1289.4,479.7 1289.9,478.9 1290.5,478.6 1291.0,477.7 1291.6,476.7 1292.1,476.0 1292.7,474.9 1293.2,473.8 1293.8,472.5 1294.3,471.9 1294.9,470.5 1295.4,470.3 1296.0,469.9 1296.5,468.6 1297.1,468.4 1297.6,467.4 1298.2,467.6 1298.7,467.0 1299.3,467.0 1299.8,467.3 1300.4,467.5 1300.9,467.2 1301.5,467.0 1302.0,467.0 1302.6,467.7 1303.1,469.0 1303.7,469.4 1304.2,469.3 1304.8,469.6 1305.3,469.5 1305.9,470.0 1306.4,469.8 1307.0,469.4 1307.5,469.8 1308.1,469.7 1308.6,468.8 1309.2,467.4 1309.7,465.8 1310.3,463.5 1310.8,462.2 1311.4,461.2 1311.9,460.9 1312.5,460.9 1313.0,460.3 1313.6,459.6 1314.1,459.4 1314.7,459.7 1315.2,459.2 1315.8,459.2 1316.3,459.9 1316.9,459.9 1317.4,460.2 1318.0,461.0 1318.5,461.0 1319.1,461.7 1319.6,462.1 1320.2,463.0 1320.7,463.5 1321.3,464.5 1321.8,464.7 1322.4,464.8 1322.9,465.2 1323.5,465.1 1324.0,465.3 1324.6,465.4 1325.1,465.4 1325.7,465.8 1326.2,466.0 1326.8,476.1 1327.3,478.9 1327.9,478.7 1328.4,479.5 1329.0,478.5 1329.5,479.1 1330.1,480.0 1330.6,481.1 1331.2,483.2 1331.7,485.6 1332.3,486.8 1332.8,488.9 1333.4,490.2 1333.9,491.7 1334.5,493.8 1335.0,494.8 1335.6,496.0 1336.1,497.1 1336.7,498.4 1337.2,499.5 1337.8,501.1 1338.3,501.6 1338.9,502.2 1339.4,503.0 1340.0,504.0 1340.5,504.2 1341.1,504.9 1341.6,505.3 1342.2,505.6 1342.7,507.3 1343.3,507.0 1343.8,508.0 1344.4,508.1 1344.9,508.3 1345.5,508.2 1346.0,508.8 1346.6,509.0 1347.1,508.9 1347.7,509.6 1348.2,509.8 1348.8,509.8 1349.3,509.8 1349.9,509.4 1350.4,510.8 1351.0,510.4 1351.5,510.0 1352.1,510.1 1352.6,510.4 1353.2,510.4 1353.7,510.9 1354.3,510.8 1354.8,511.2 1355.4,511.2 1355.9,511.4 1356.5,511.3 1357.0,511.8 1357.6,512.0 1358.1,511.8 1358.7,511.7 1359.2,512.3 1359.8,511.9 1360.3,512.3 1360.9,512.7 1361.4,513.0 1362.0,512.7 1362.5,512.9 1363.1,513.3 1363.6,512.7 1364.2,512.9 1364.7,513.2 1365.3,513.5 1365.8,512.9 1366.4,512.9 1366.9,513.6 1367.5,513.7 1368.0,513.2 1368.6,513.4 1369.1,513.7 1369.7,513.4 1370.2,513.0 1370.8,513.6 1371.3,513.8 1371.9,513.2 1372.4,514.0 1373.0,513.5 1373.5,513.1 1374.1,513.7 1374.6,513.3 1375.2,514.1 1375.7,513.9 1376.3,514.2 1376.8,513.3 1377.4,513.8 1377.9,514.2 1378.5,514.1 1379.0,514.0 1379.6,514.0 1380.1,514.1 1380.7,514.2 1381.2,514.4 1381.8,513.5 1382.3,513.7 1382.9,513.8 1383.4,514.1 1384.0,514.2 1384.5,514.0 1385.1,514.1 1385.6,514.4 1386.2,514.5 1386.7,514.0 1387.3,514.1 1387.8,514.3 1388.4,515.0 1388.9,514.1 1389.5,514.4 1390.0,514.3 1390.6,514.2 1391.1,514.5 1391.7,514.3 1392.2,514.1 1392.8,514.3 1393.3,514.3 1393.9,514.0 1394.4,513.9 1395.0,514.4 1395.5,513.9 1396.1,514.3 1396.6,514.0 1397.2,513.7 1397.7,513.6 1398.3,513.4 1398.8,514.1 1399.4,514.1 1399.9,513.7 1400.5,513.5 1401.0,513.7 1401.6,513.9 1402.1,514.2 1402.7,513.7 1403.2,513.5 1403.8,514.1 1404.3,514.0 1404.9,514.0 1405.4,513.8 1406.0,514.6 1406.5,514.9 1407.1,514.3 1407.6,514.3 1408.2,514.6 1408.7,514.8 1409.3,515.1 1409.8,515.0 1410.4,514.6 1410.9,515.1 1411.5,515.2 1412.0,514.9 1412.6,515.1 1413.1,514.6 1413.7,514.8 1414.2,514.5 1414.8,514.7 1415.3,514.9 1415.9,514.0 1416.4,514.4 1417.0,514.5 1417.5,514.2 1418.1,514.5 1418.6,513.9 1419.2,514.4 1419.7,513.7 1420.3,513.2 1420.8,513.5 1421.4,513.2 1421.9,513.6 1422.5,513.6 1423.0,513.5 1423.6,513.2 1424.1,512.8 1424.7,512.6 1425.2,512.3 1425.8,512.7 1426.3,512.1 1426.9,512.3 1427.4,512.3 1428.0,512.4 1428.5,511.8 1429.1,511.8 1429.6,511.8 1430.2,512.4 1430.7,511.8 1431.3,512.0 1431.8,512.4 1432.4,512.6 1432.9,513.0 1433.5,512.5 1434.0,512.9 1434.6,512.2 1435.1,513.0 1435.7,513.2 1436.2,513.3 1436.8,513.0 1437.3,513.7 1437.9,513.9 1438.4,513.5 1439.0,513.6 1439.5,513.6 1440.1,513.7 1440.6,513.9 1441.2,513.7 1441.7,513.8 1442.3,514.2 1442.8,514.2 1443.4,514.8 1443.9,514.6 1444.5,514.5 1445.0,514.3 1445.6,514.9 1446.1,514.8 1446.7,514.7 1447.2,515.8 1447.8,514.8 1448.3,515.9 1448.9,516.4 1449.4,515.6 1450.0,515.5 1450.5,515.9 1451.1,515.6 1451.6,516.0 1452.2,516.2 1452.7,515.7 1453.3,516.7 1453.8,516.3 1454.4,516.5 1454.9,516.9 1455.5,516.2 1456.0,516.3 1456.6,516.8 1457.1,516.9 1457.7,516.8 1458.2,516.9 1458.8,516.9 1459.3,516.7 1459.9,516.7 1460.4,516.9 1461.0,517.2 1461.5,517.3 1462.1,516.9 1462.6,517.8 1463.2,518.0 1463.7,517.4 1464.3,517.1 1464.8,517.3 1465.4,517.6 1465.9,517.3 1466.5,517.9 1467.0,517.2 1467.6,517.6 1468.1,517.4 1468.7,517.9 1469.2,517.3 1469.8,517.3 1470.3,516.9 1470.9,517.1 1471.4,516.7 1472.0,518.0 1472.5,517.1 1473.1,517.0 1473.6,517.0 1474.2,517.1 1474.7,517.1 1475.3,516.4 1475.8,517.3 1476.4,516.9 1476.9,516.9 1477.5,517.4 1478.0,516.9 1478.6,516.5 1479.1,516.3 1479.7,516.6 1480.2,516.1 1480.8,515.8 1481.3,515.1 1481.9,515.3 1482.4,514.8 1483.0,514.5 1483.5,515.0 1484.1,514.5 1484.6,514.2 1485.2,514.5 1485.7,514.6 1486.3,513.5 1486.8,514.1 1487.4,513.8 1487.9,513.6 1488.5,514.0 1489.0,513.8 1489.6,513.5 1490.1,514.5 1490.7,514.6 1491.2,514.9 1491.8,514.5 1492.3,514.6 1492.9,514.4 1493.4,513.7 1494.0,513.4 1494.5,513.6 1495.1,513.1 1495.6,513.2 1496.2,514.2 1496.7,513.9 1497.3,513.8 1497.8,514.5 1498.4,514.9 1498.9,514.6 1499.5,514.6 1500.0,514.8 1500.6,514.9 1501.1,514.9 1501.7,515.0 1502.2,515.3 1502.8,515.9 1503.3,515.3 1503.9,515.2 1504.4,514.8 1505.0,515.1 1505.5,515.0 1506.1,515.5 1506.6,515.4 1507.2,516.3 1507.7,516.8 1508.3,516.6 1508.8,517.2 1509.4,515.9 1509.9,516.3 1510.5,515.6 1511.0,515.3 1511.6,514.4 1512.1,514.2 1512.7,513.8 1513.2,513.3 1513.8,513.6 1514.3,513.2 1514.9,513.1 1515.4,512.3 1516.0,511.9 1516.5,511.1 1517.1,510.9 1517.6,510.0 1518.2,508.9 1518.7,508.1 1519.3,508.0 1519.8,508.1 1520.4,508.1 1520.9,507.9 1521.5,508.3 1522.0,508.1 1522.6,506.7 1523.1,506.3 1523.7,505.7 1524.2,505.2 1524.8,505.9 1525.3,506.8 1525.9,507.8 1526.4,507.8 1527.0,508.3 1527.5,508.7 1528.1,508.9 1528.6,508.9 1529.2,509.9 1529.7,509.9 1530.3,510.4 1530.8,510.7 1531.4,510.7 1531.9,510.8 1532.5,511.2 1533.0,511.6 1533.6,511.9 1534.1,512.3 1534.7,512.3 1535.2,512.9 1535.8,513.1 1536.3,513.5 1536.9,513.7 1537.4,514.2 1538.0,514.1 1538.5,514.0 1539.1,513.8 1539.6,513.8 1540.2,514.0 1540.7,513.9 1541.3,514.0 1541.8,513.9 1542.4,514.5 1542.9,514.3 1543.5,514.7 1544.0,514.8 1544.6,516.0 1545.1,515.3 1545.7,515.7 1545.9,515.4 1546.3,475.7 1546.7,515.7 1546.8,515.8 1547.3,515.5 1547.9,516.0 1548.4,515.6 1549.0,515.4 1549.5,516.2 1550.1,515.9 1550.6,515.5 1551.2,515.9 1551.7,515.6 1552.3,516.2 1552.8,515.9 1553.4,516.0 1553.9,515.5 1554.5,516.3 1555.0,515.6 1555.6,515.8 1556.1,515.6 1556.7,515.7 1557.2,515.1 1557.8,515.6 1558.3,515.6 1558.9,515.0 1559.4,515.8 1560.0,515.0 1560.5,515.0 1561.1,514.9 1561.6,515.6 1562.2,514.8 1562.7,514.8 1563.3,515.0 1563.8,514.8 1564.4,515.2 1564.9,514.5 1565.5,514.3 1566.0,514.2 1566.6,514.2 1567.1,514.9 1567.7,514.9 1568.2,514.6 1568.8,514.8 1569.3,514.1 1569.9,515.5 1570.4,515.5 1571.0,514.5 1571.5,515.3 1572.1,515.6 1572.6,516.3 1573.2,515.8 1573.7,516.2 1574.3,516.4 1574.8,516.0 1575.4,515.3 1575.9,515.1 1576.5,515.6 1577.0,516.0 1577.6,515.9 1578.1,515.1 1578.7,516.0 1579.2,515.3 1579.8,515.5 1580.3,516.2 1580.9,515.8 1581.4,515.4 1582.0,515.3 1582.5,515.7 1583.1,515.8 1583.6,515.6 1584.2,515.3 1584.7,515.9 1585.3,516.1 1585.8,515.1 1586.4,516.0 1586.9,515.3 1587.5,515.5 1588.0,516.1 1588.6,514.9 1589.1,515.5 1589.7,516.4 1590.2,516.3 1590.8,515.2 1591.3,514.9 1591.9,516.2 1592.4,515.6 1593.0,515.6 1593.5,514.6 1594.1,515.4 1594.6,514.5 1595.2,515.2 1595.7,516.4 1596.3,516.0 1596.8,516.2 1597.4,515.3 1597.9,515.5 1598.5,515.0 1599.0,516.4 1599.6,514.8 1600.1,514.3 1600.7,514.8 1601.2,515.7 1601.8,514.6 1602.3,515.0 1602.9,513.9 1603.4,514.3 1604.0,513.7 1604.5,513.7 1605.1,514.1 1605.6,514.5 1606.2,515.2 1606.7,514.2 1607.3,513.0 1607.8,512.9 1608.4,512.6 1608.9,513.5 1609.5,512.8 1610.0,513.3 1610.6,512.6 1611.1,514.4 1611.7,513.1 1612.2,513.8 1612.8,513.1 1613.3,514.8 1613.9,512.3 1614.4,513.6 1615.0,514.2 1615.5,513.2 1616.1,513.8 1616.6,513.1 1617.2,513.9 1617.7,513.1 1618.3,514.3 1618.8,511.9 1619.4,513.6 1619.9,512.7 1620.5,512.7 1621.0,513.4 1621.6,512.5 1622.1,512.5 1622.7,513.4 1623.2,512.1 1623.8,512.8 1624.3,513.7 1624.9,512.3 1625.4,513.9 1626.0,512.1 1626.5,513.1 1627.1,513.0 1627.6,511.9 1628.2,513.6 1628.7,511.8 1629.3,514.0 1629.8,514.1 1630.4,512.4 1630.9,512.9 1631.5,512.7 1632.0,511.7 1632.6,512.1 1633.1,512.7 1633.7,512.6 1634.2,513.6 1634.8,512.1 1635.3,512.0 1635.9,513.0"/>
<polyline fill="none" stroke="#4682b4" stroke-width="2.6" stroke-linejoin="round"  points="211.6,558.0 211.9,557.9 212.2,557.6 212.5,557.5 212.8,557.3 213.1,556.5 213.4,555.6 213.7,557.3 214.0,558.0 214.3,556.9 214.6,557.6 214.9,559.5 215.2,559.8 215.5,558.9 215.8,558.4 216.1,559.2 216.4,560.2 216.7,559.4 217.0,558.3 217.3,558.2 217.6,558.8 217.9,558.7 218.2,558.1 218.5,557.9 218.8,557.4 219.1,557.6 219.4,558.6 219.7,558.1 220.0,557.5 220.3,558.8 220.6,558.8 220.9,558.5 221.2,558.4 221.5,557.2 221.8,558.0 222.1,559.5 222.4,559.4 222.7,559.1 223.0,559.8 223.3,559.7 223.6,558.5 223.9,558.9 224.2,559.9 224.5,560.0 224.8,560.1 225.1,560.8 225.4,559.8 225.7,559.0 226.0,559.3 226.3,559.7 226.6,559.0 226.9,559.3 227.2,559.5 227.5,559.2 227.8,559.8 228.1,559.4 228.4,559.9 228.7,559.5 229.0,559.6 229.3,560.1 229.6,559.1 229.9,559.8 230.2,559.9 230.5,559.8 230.8,560.2 231.1,559.7 231.4,560.7 231.7,561.1 232.0,560.2 232.3,560.6 232.6,560.5 232.9,560.9 233.2,560.8 233.5,560.3 233.8,560.3 234.1,560.4 234.4,560.3 234.7,559.9 235.0,560.7 235.3,560.1 235.6,559.6 235.9,560.5 236.2,560.4 236.5,560.0 236.8,560.6 237.1,561.3 237.4,560.1 237.7,559.2 238.0,558.7 238.3,559.1 238.6,560.8 238.9,560.4 239.2,559.4 239.5,560.1 239.8,560.5 240.1,561.3 240.4,562.3 240.7,560.3 241.0,559.9 241.3,561.2 241.6,561.2 241.9,560.9 242.2,559.8 242.5,559.8 242.8,560.3 243.1,561.1 243.4,561.7 243.7,561.3 244.0,560.4 244.3,559.7 244.5,559.9 244.9,540.5 245.3,559.1 245.5,558.8 245.8,559.0 246.1,559.2 246.4,559.1 246.7,559.6 247.0,559.3 247.3,558.5 247.6,558.8 247.9,559.4 248.2,558.5 248.5,558.3 248.8,556.9 249.1,556.2 249.4,557.5 249.7,557.1 250.0,555.7 250.3,555.4 250.6,556.4 250.9,556.2 251.2,554.7 251.5,554.2 251.8,555.3 252.1,555.5 252.4,555.0 252.7,553.9 253.0,553.2 253.3,552.8 253.6,552.0 253.9,551.2 254.2,550.9 254.5,551.7 254.8,551.6 255.1,549.9 255.4,549.9 255.7,549.9 256.0,549.4 256.3,548.6 256.6,546.9 256.9,544.2 257.2,541.0 257.5,538.1 257.8,536.0 258.1,535.3 258.4,533.4 258.7,531.8 259.0,531.1 259.3,530.6 259.6,530.4 259.9,529.3 260.2,530.1 260.5,531.9 260.8,532.1 261.1,533.4 261.4,534.8 261.7,535.1 262.0,535.5 262.3,535.5 262.6,537.3 262.9,540.1 263.2,541.2 263.5,542.0 263.8,543.5 264.1,543.4 264.4,543.6 264.7,545.9 265.0,546.2 265.3,546.8 265.6,547.4 265.9,546.8 266.2,546.7 266.5,547.8 266.8,549.6 267.1,550.1 267.4,550.3 267.7,550.9 268.0,551.1 268.3,550.4 268.6,550.9 268.9,552.3 269.2,553.7 269.5,553.6 269.8,552.6 270.1,552.3 270.4,551.7 270.7,552.2 271.0,553.9 271.3,554.7 271.6,554.2 271.9,554.1 272.2,554.4 272.5,555.2 272.8,555.5 273.1,555.2 273.4,555.2 273.7,555.6 274.0,556.0 274.1,556.0 274.5,513.2 274.9,555.2 275.2,555.5 275.5,556.3 275.8,556.3 276.1,556.2 276.4,555.8 276.7,556.5 277.0,556.8 277.3,556.3 277.6,556.4 277.9,555.8 278.2,556.3 278.5,556.1 278.8,555.8 279.1,556.2 279.4,556.2 279.7,555.9 280.0,556.3 280.3,557.2 280.6,557.0 280.9,556.2 281.2,555.2 281.5,556.2 281.8,555.9 282.1,554.5 282.4,555.4 282.7,556.0 283.0,555.3 283.3,555.2 283.6,555.1 283.9,555.1 284.2,555.8 284.5,555.5 284.8,555.7 285.1,555.8 285.4,554.4 285.7,554.5 286.0,555.6 286.3,555.6 286.6,555.3 286.9,555.2 287.2,555.1 287.5,554.9 287.8,555.4 288.1,554.9 288.4,554.2 288.7,554.5 289.0,555.0 289.3,555.1 289.6,554.8 289.9,554.9 290.2,555.0 290.5,554.3 290.8,554.7 291.1,555.6 291.4,555.5 291.7,554.3 292.0,554.3 292.3,554.6 292.6,554.1 292.9,554.5 293.2,555.1 293.5,555.6 293.8,554.9 294.1,554.7 294.4,554.5 294.7,553.9 295.0,554.4 295.3,555.1 295.6,554.8 295.9,555.2 296.2,555.9 296.5,555.0 296.8,554.3 297.1,554.5 297.4,553.4 297.7,553.3 298.0,554.0 298.2,553.6 298.6,543.3 299.0,551.9 299.2,552.0 299.5,551.6 299.8,551.0 300.1,551.0 300.4,551.2 300.7,551.8 301.0,551.4 301.3,550.8 301.6,550.3 301.9,549.9 302.2,550.5 302.5,551.1 302.8,550.9 303.1,550.3 303.4,549.9 303.7,549.3 304.0,549.6 304.3,549.7 304.6,549.0 304.9,549.6 305.2,550.6 305.5,550.5 305.8,550.4 306.1,551.5 306.4,551.6 306.7,551.1 307.0,550.4 307.3,550.0 307.6,549.9 307.9,550.2 308.2,550.9 308.5,550.8 308.8,550.1 309.1,549.1 309.4,548.0 309.7,547.2 310.0,547.1 310.3,546.2 310.6,545.0 310.9,543.6 311.2,542.2 311.5,540.9 311.8,539.1 312.1,537.9 312.4,537.4 312.7,536.4 313.0,535.0 313.3,533.5 313.6,532.7 313.9,531.8 314.2,530.6 314.5,530.2 314.8,529.9 315.1,528.9 315.4,528.1 315.7,528.2 316.0,528.0 316.3,528.1 316.6,528.3 316.9,527.5 317.2,526.6 317.5,526.7 317.8,527.0 318.1,526.1 318.4,525.6 318.7,525.9 319.0,526.3 319.3,525.5 319.6,525.2 319.9,525.8 320.2,526.5 320.5,526.4 320.8,525.6 321.1,525.4 321.4,525.4 321.7,525.5 322.0,525.2 322.3,525.1 322.6,525.7 322.9,525.3 323.2,524.7 323.5,525.3 323.8,524.7 324.1,523.9 324.4,523.7 324.7,523.8 325.0,524.3 325.3,524.0 325.6,523.5 325.9,523.2 326.2,523.2 326.6,523.6 327.0,524.1 327.1,524.3 327.4,525.4 327.7,525.6 328.0,526.3 328.3,527.7 328.6,527.9 328.9,527.3 329.2,527.5 329.5,528.9 329.8,528.9 330.1,529.5 330.4,530.1 330.7,530.0 331.0,530.3 331.3,530.3 331.6,530.9 331.9,530.9 332.2,531.0 332.5,531.5 332.8,532.1 333.1,532.3 333.4,533.1 333.7,534.4 334.0,533.8 334.3,533.3 334.6,534.1 334.9,535.1 335.2,536.1 335.5,536.8 335.8,537.4 336.1,537.8 336.4,537.7 336.7,538.0 337.0,538.7 337.3,539.3 337.6,540.6 337.9,541.2 338.2,541.3 338.5,542.2 338.8,542.1 339.1,541.9 339.4,542.6 339.7,543.6 340.0,544.0 340.3,544.6 340.6,544.8 340.9,544.4 341.2,544.8 341.5,545.7 341.8,545.8 342.1,545.7 342.4,545.2 342.7,544.9 343.0,545.0 343.3,545.3 343.6,544.8 343.9,543.9 344.2,543.6 344.5,542.9 344.8,543.2 345.1,543.5 345.4,542.7 345.7,542.6 346.0,542.6 346.3,542.0 346.6,542.2 346.9,542.0 347.2,541.2 347.5,541.0 347.8,540.2 348.1,539.1 348.4,539.1 348.7,539.4 349.0,538.2 349.3,537.4 349.6,537.6 349.9,537.6 350.2,538.3 350.5,538.5 350.8,538.1 351.1,538.3 351.4,538.6 351.7,538.6 352.0,538.5 352.3,538.2 352.6,538.1 352.9,538.4 353.2,538.5 353.5,539.3 353.8,539.7 354.1,539.6 354.3,540.1 354.7,516.8 355.1,541.4 355.3,541.1 355.6,541.9 355.9,542.5 356.2,542.2 356.5,542.8 356.8,543.2 357.1,543.2 357.4,543.3 357.7,543.3 358.0,544.0 358.3,543.7 358.6,543.8 358.9,545.0 359.2,545.1 359.5,544.9 359.8,544.4 360.1,544.3 360.4,544.7 360.7,544.9 361.0,544.5 361.3,543.2 361.5,542.8 361.9,542.5 362.3,542.5 362.5,542.5 362.8,541.9 363.1,541.2 363.4,540.1 363.7,539.4 364.0,539.5 364.3,538.6 364.6,537.2 364.9,536.3 365.2,535.6 365.5,535.3 365.8,534.1 366.1,533.3 366.4,532.8 366.7,532.5 367.0,531.8 367.3,530.3 367.6,529.0 367.9,528.3 368.2,527.9 368.5,526.8 368.8,526.5 369.1,526.0 369.4,525.0 369.7,525.0 370.0,524.5 370.3,523.9 370.6,523.5 370.9,522.7 371.2,523.1 371.5,523.3 371.8,523.1 372.1,523.3 372.4,523.1 372.7,523.2 373.0,523.2 373.3,523.1 373.6,523.6 373.9,523.4 374.2,523.5 374.5,524.1 374.8,524.3 375.1,524.4 375.4,524.9 375.7,525.4 376.0,524.8 376.3,524.8 376.6,524.4 376.9,523.7 377.2,524.4 377.5,525.3 377.8,525.0 378.1,524.7 378.4,524.6 378.7,524.8 379.0,524.5 379.3,523.3 379.6,522.8 379.9,522.8 380.2,522.6 380.5,521.8 380.8,521.2 381.1,520.2 381.4,519.1 381.7,518.4 382.0,517.1 382.3,515.9 382.6,514.8 382.9,513.6 383.3,510.0 383.7,506.7 383.8,506.0 384.1,502.7 384.4,499.1 384.7,495.5 385.0,491.8 385.3,487.8 385.6,483.8 385.9,479.7 386.2,475.2 386.5,470.6 386.8,465.8 387.1,461.0 387.4,456.2 387.7,450.9 388.0,445.0 388.3,439.0 388.6,432.8 388.9,426.6 389.2,420.0 389.5,413.2 389.8,406.6 390.1,399.5 390.4,392.0 390.7,384.8 391.0,377.0 391.3,368.6 391.6,360.3 391.9,350.8 392.2,340.8 392.5,331.2 392.8,322.9 393.1,316.4 393.4,311.0 393.7,306.3 394.0,302.1 394.3,298.0 394.6,293.9 394.9,290.0 395.2,286.0 395.5,282.3 395.8,279.1 396.1,276.6 396.4,275.0 396.7,273.3 397.0,271.7 397.3,271.2 397.6,271.5 397.9,272.9 398.2,275.4 398.5,278.2 398.8,281.1 399.1,283.8 399.4,286.7 399.7,290.1 400.0,294.0 400.6,301.9 401.1,312.3 401.7,322.6 402.2,330.2 402.8,336.2 403.3,342.5 403.9,349.9 404.4,357.6 405.0,365.4 405.5,373.1 406.1,380.0 406.6,386.2 407.2,392.3 407.7,398.1 408.3,403.5 408.8,408.5 409.4,413.6 409.9,418.7 410.5,423.9 411.0,428.9 411.6,433.5 412.1,438.1 412.7,442.3 413.2,446.5 413.8,450.6 414.3,454.5 414.9,458.3 415.4,461.6 416.0,464.3 416.5,466.7 417.1,468.9 417.6,470.7 418.2,472.2 418.7,474.0 419.3,476.1 419.8,478.1 420.4,479.6 420.9,481.1 421.5,482.6 422.0,484.3 422.6,486.5 423.1,488.1 423.7,489.7 424.2,492.0 424.8,493.8 425.3,495.1 425.9,497.0 426.4,498.9 427.0,500.6 427.5,502.2 428.1,504.0 428.6,505.3 429.2,506.6 429.7,507.8 430.3,508.9 430.8,510.3 431.4,511.2 431.9,511.7 432.5,512.3 433.0,513.0 433.6,514.2 434.1,514.8 434.7,515.2 435.2,515.8 435.8,516.2 436.3,516.3 436.9,516.5 437.4,516.8 438.0,517.2 438.5,517.6 439.1,517.8 439.6,518.6 440.2,520.2 440.7,521.4 441.3,522.2 441.8,523.0 442.4,523.2 442.9,524.4 443.5,525.6 444.0,525.7 444.6,525.9 445.1,525.7 445.7,525.8 446.2,526.3 446.8,526.3 447.3,526.3 447.9,526.3 448.4,525.9 449.0,524.9 449.5,524.0 450.1,523.2 450.6,522.6 451.2,522.0 451.7,520.9 452.3,520.2 452.8,519.6 453.4,519.6 453.9,519.1 454.5,518.5 455.0,518.4 455.6,518.4 456.1,518.4 456.7,518.2 457.1,504.8 457.5,518.2 457.8,518.2 458.3,518.6 458.9,518.4 459.4,518.2 460.0,518.0 460.5,516.9 461.1,516.3 461.6,516.9 462.2,516.8 462.7,516.2 463.3,515.5 463.8,515.5 464.4,516.1 464.9,515.7 465.5,515.2 466.0,514.8 466.6,514.2 467.1,514.1 467.7,513.3 468.2,512.7 468.8,512.7 469.3,513.2 469.9,513.6 470.4,514.2 471.0,515.3 471.5,516.5 472.1,517.0 472.6,517.1 473.2,517.8 473.7,518.4 474.3,518.9 474.8,518.5 475.4,519.2 475.8,519.9 476.2,514.3 476.6,520.6 477.0,520.7 477.6,521.5 478.1,522.4 478.7,522.1 479.2,521.8 479.8,521.8 480.3,520.9 480.9,520.2 481.4,520.2 482.0,519.9 482.5,520.3 483.1,519.9 483.6,519.4 484.2,519.2 484.7,519.3 485.3,519.5 485.8,519.5 486.4,519.8 486.9,518.9 487.5,518.0 488.0,518.3 488.6,518.8 489.1,518.8 489.7,519.1 490.2,519.6 490.8,519.6 491.3,520.1 491.9,520.8 492.4,521.0 493.0,521.6 493.5,522.2 494.1,522.8 494.6,522.9 495.2,522.7 495.5,523.2 495.9,503.7 496.3,524.0 496.8,524.0 497.4,524.1 497.9,523.8 498.5,523.5 499.0,524.0 499.6,524.3 500.1,524.1 500.7,524.3 501.2,524.6 501.8,524.4 502.3,524.1 502.9,524.3 503.4,524.1 504.0,523.7 504.5,523.4 505.1,523.6 505.6,523.8 506.2,523.5 506.7,523.1 507.3,522.0 507.8,519.0 508.4,518.7 508.9,519.2 509.5,519.0 510.0,518.5 510.6,518.2 511.1,518.6 511.7,518.8 512.2,518.8 512.8,518.7 513.3,518.2 513.9,519.0 514.4,519.0 515.0,518.5 515.5,518.9 516.1,518.6 516.6,518.3 517.2,518.1 517.7,518.2 518.3,517.8 518.8,517.2 519.4,517.3 519.9,516.7 520.5,515.8 521.0,515.8 521.6,515.8 522.1,515.9 522.7,516.0 523.2,515.7 523.8,515.6 524.3,515.5 524.9,515.8 525.4,516.0 526.0,515.3 526.5,515.6 527.1,515.6 527.6,515.1 528.2,514.8 528.7,514.3 529.3,514.8 529.8,514.9 530.4,514.3 530.9,514.1 531.5,514.5 532.0,514.5 532.6,514.0 533.1,513.5 533.7,513.4 534.2,513.9 534.8,513.8 535.3,513.5 535.9,513.8 536.4,513.6 537.0,512.2 537.5,511.2 538.1,510.0 538.6,508.9 539.2,508.3 539.7,507.1 540.3,506.2 540.8,505.3 541.4,503.9 541.9,503.1 542.5,502.5 543.0,501.9 543.6,501.2 544.1,500.0 544.7,499.1 545.2,498.4 545.8,497.8 546.3,496.8 546.9,495.8 547.4,495.2 548.0,494.2 548.5,493.6 549.1,492.8 549.6,491.3 550.2,490.1 550.7,489.4 551.3,488.4 551.8,486.8 552.4,485.8 552.9,485.0 553.5,483.3 554.0,481.9 554.6,481.3 555.1,480.3 555.7,478.7 556.2,477.0 556.8,475.0 557.3,473.2 557.9,471.2 558.4,468.8 559.0,466.6 559.5,464.2 560.1,461.9 560.6,460.2 561.2,458.5 561.7,456.2 562.3,454.2 562.8,452.5 563.4,450.9 563.9,449.2 564.5,447.4 565.0,445.8 565.6,444.3 566.1,442.7 566.7,441.2 567.2,439.9 567.8,438.5 568.3,437.4 568.9,436.3 569.4,434.8 570.0,433.1 570.5,431.4 571.1,429.9 571.6,428.4 572.2,427.1 572.7,426.4 572.9,426.1 573.3,313.8 573.7,424.9 573.8,424.8 574.4,423.1 574.9,420.3 575.5,416.7 576.0,412.9 576.6,408.3 577.1,403.1 577.7,398.3 578.2,394.6 578.8,391.6 579.0,390.2 579.4,368.3 579.8,385.5 579.9,385.1 580.4,380.6 581.0,375.6 581.5,371.0 582.1,366.4 582.6,361.7 583.2,357.4 583.7,354.1 584.3,351.3 584.8,348.9 585.4,346.6 585.9,344.4 586.5,342.1 587.0,339.8 587.6,337.6 588.1,335.4 588.7,333.8 589.2,332.4 589.8,331.1 590.3,330.1 590.9,328.9 591.4,327.7 592.0,325.7 592.5,322.6 593.1,318.9 593.6,315.0 594.2,312.2 594.7,309.7 595.3,308.0 595.8,307.2 596.4,306.5 596.9,306.4 597.5,307.1 598.0,308.4 598.6,310.0 599.1,312.9 599.7,316.9 600.2,321.1 600.8,326.1 601.3,331.9 601.9,337.0 602.4,341.9 603.0,346.9 603.5,351.7 604.1,357.2 604.6,363.0 605.2,367.8 605.7,371.3 606.3,373.7 606.8,375.4 607.4,376.7 607.9,377.1 608.5,376.0 609.0,373.9 609.6,371.7 610.1,370.5 610.7,369.2 611.2,367.6 611.8,366.7 612.3,366.3 612.9,365.8 613.4,365.9 614.0,366.1 614.5,366.3 615.1,366.7 615.6,367.1 616.2,367.6 616.7,368.0 617.3,368.3 617.8,368.7 618.4,369.4 618.9,370.2 619.5,370.9 620.0,371.7 620.6,373.0 621.1,374.7 621.7,376.2 622.2,377.4 622.8,378.4 623.3,379.5 623.9,380.5 624.4,381.1 625.0,381.8 625.5,382.1 626.1,382.7 626.6,383.0 627.2,383.1 627.7,383.2 628.3,383.3 628.8,383.6 629.4,384.0 629.9,384.4 630.5,385.7 631.0,388.4 631.6,391.3 632.1,394.3 632.7,397.6 633.2,400.7 633.8,404.0 634.3,407.7 634.9,411.4 635.4,415.5 636.0,419.4 636.5,422.7 637.1,426.1 637.6,429.0 638.2,431.9 638.7,434.8 639.3,437.4 639.8,439.9 640.4,442.3 640.9,444.6 641.5,446.9 642.0,448.9 642.6,450.9 643.1,452.9 643.7,454.9 644.2,456.7 644.8,458.4 645.3,460.1 645.9,461.7 646.4,463.4 647.0,465.2 647.5,466.8 648.1,468.6 648.6,470.2 649.2,471.7 649.7,473.2 650.3,474.7 650.8,476.4 651.4,477.9 651.9,479.1 652.2,479.9 652.6,473.4 653.0,481.9 653.6,483.2 654.1,484.4 654.7,485.5 655.2,486.8 655.8,488.2 656.3,489.4 656.9,490.5 657.4,491.7 658.0,492.7 658.5,493.6 659.1,494.3 659.6,495.1 660.2,495.9 660.7,496.5 661.3,497.2 661.8,497.7 662.4,498.2 662.9,498.9 663.5,499.7 664.0,500.2 664.6,500.9 665.1,501.1 665.7,501.1 666.2,501.5 666.8,501.5 667.3,501.6 667.9,501.8 668.4,501.7 669.0,501.9 669.5,502.2 670.1,502.5 670.6,502.7 670.8,502.6 671.2,500.5 671.6,502.6 671.7,502.6 672.3,502.8 672.8,502.9 673.4,503.1 673.9,503.5 674.5,504.0 675.0,504.3 675.6,504.4 676.1,504.1 676.7,503.9 677.2,503.7 677.8,503.3 678.3,502.8 678.9,502.6 679.4,502.3 680.0,501.9 680.5,502.1 681.1,502.2 681.6,502.1 682.2,502.3 682.7,502.3 683.3,502.2 683.8,502.1 684.4,501.9 684.9,501.8 685.5,501.5 686.0,501.4 686.6,501.2 687.1,500.6 687.7,499.6 688.2,498.4 688.8,497.5 689.3,496.4 689.9,495.3 690.4,494.4 691.0,493.4 691.5,492.3 692.1,491.4 692.6,490.7 693.2,490.3 693.7,489.5 694.3,488.5 694.8,488.1 695.4,488.0 695.9,487.9 696.5,488.4 697.0,488.8 697.6,489.4 698.1,490.3 698.7,490.9 699.2,491.6 699.8,492.3 700.3,493.1 700.9,493.7 701.4,494.2 702.0,494.9 702.5,495.2 703.1,495.2 703.6,495.1 704.2,495.1 704.7,495.1 705.3,495.3 705.8,495.7 706.4,495.6 706.9,495.2 707.5,495.2 708.0,494.8 708.6,494.0 709.1,493.2 709.7,492.3 710.2,491.2 710.8,490.2 711.3,489.6 711.9,489.0 712.4,488.7 713.0,488.3 713.5,487.8 714.1,487.7 714.6,487.3 715.2,486.7 715.7,486.0 716.3,485.1 716.8,484.1 717.4,482.9 717.9,481.2 718.5,479.6 719.0,478.3 719.6,476.9 720.1,475.3 720.7,473.6 721.2,471.9 721.8,470.8 722.3,470.0 722.9,469.1 723.4,468.6 724.0,468.2 724.5,467.8 725.1,467.2 725.6,466.7 726.2,466.1 726.7,465.5 727.3,465.0 727.8,464.4 728.4,463.7 728.9,463.1 729.5,462.2 730.0,461.6 730.6,461.4 731.1,461.0 731.7,460.5 732.2,459.8 732.8,459.3 733.3,459.0 733.9,458.8 734.4,458.9 735.0,459.3 735.5,459.6 736.1,460.0 736.6,460.7 737.2,461.3 737.7,462.0 738.3,462.5 738.8,462.9 739.4,463.4 739.9,463.5 740.5,463.9 741.0,464.5 741.6,465.0 742.1,465.8 742.7,467.4 743.2,469.8 743.8,472.1 744.3,474.5 744.9,477.1 745.4,479.2 746.0,481.7 746.5,483.7 747.1,485.7 747.6,488.3 748.2,490.2 748.7,492.0 749.3,493.9 749.8,495.2 750.4,496.8 750.9,498.4 751.5,499.4 752.0,500.6 752.6,501.7 753.1,503.1 753.7,504.2 754.2,505.0 754.8,506.1 755.3,507.1 755.9,508.0 756.3,501.6 756.7,509.1 757.0,509.6 757.5,510.9 758.1,512.6 758.6,514.6 759.2,516.6 759.7,517.9 760.3,519.0 760.8,520.5 761.4,521.6 761.9,522.7 762.5,523.6 763.0,524.4 763.6,525.2 764.1,525.8 764.7,526.5 765.2,527.5 765.8,528.4 766.3,529.3 766.9,529.9 767.4,530.5 768.0,531.0 768.5,531.7 769.1,532.3 769.6,532.7 770.2,533.3 770.7,533.6 771.3,533.9 771.8,534.5 772.4,534.9 772.9,535.4 773.5,535.8 774.0,536.1 774.6,536.4 775.1,537.0 775.7,537.5 776.2,538.0 776.8,538.7 777.3,539.4 777.9,540.1 778.4,540.5 779.0,540.8 779.5,541.5 780.1,542.2 780.6,542.5 781.2,542.9 781.7,543.4 782.3,544.0 782.8,544.6 783.4,544.9 783.9,545.5 784.5,546.0 785.0,546.2 785.6,546.5 786.1,546.8 786.7,547.1 787.2,547.5 787.8,547.6 788.3,547.6 788.9,548.0 789.4,548.2 790.0,548.3 790.5,548.3 791.1,548.5 791.6,549.0 792.2,549.2 792.7,549.2 793.3,549.5 793.8,549.7 794.4,549.7 794.9,549.9 795.5,550.3 796.0,550.6 796.6,550.7 797.1,550.9 797.7,551.1 798.2,551.5 798.8,551.8 799.3,551.9 799.9,552.1 800.4,552.4 801.0,552.7 801.5,552.8 802.1,552.7 802.6,552.5 803.2,552.6 803.7,553.0 804.3,553.2 804.8,553.4 805.4,553.4 805.9,553.6 806.5,553.8 807.0,553.7 807.6,553.7 808.1,553.9 808.7,554.1 809.2,554.1 809.8,554.3 810.3,554.3 810.9,554.3 811.4,554.4 812.0,554.3 812.5,554.3 813.1,554.4 813.6,554.4 814.2,554.4 814.7,554.5 815.3,554.5 815.8,554.5 816.4,554.7 816.9,554.7 817.5,554.5 818.0,554.6 818.6,554.4 819.1,554.6 819.7,554.9 820.2,554.8 820.8,554.8 821.3,554.8 821.9,554.7 822.4,554.7 823.0,554.6 823.5,554.7 824.1,554.8 824.6,554.9 825.2,555.3 825.7,555.4 826.3,555.5 826.8,555.4 827.4,555.3 827.9,555.6 828.5,555.9 829.0,555.8 829.6,555.7 830.1,556.0 830.7,556.1 831.2,556.0 831.8,556.2 832.3,556.2 832.9,556.5 833.4,556.8 834.0,556.6 834.5,556.8 835.1,557.1 835.6,557.2 836.2,557.2 836.7,557.0 837.3,557.0 837.8,557.4 838.4,557.5 838.9,557.3 839.5,557.4 840.0,557.4 840.6,557.4 841.1,557.7 841.7,557.7 842.2,558.0 842.8,558.0 843.3,558.0 843.9,558.2 844.4,558.3 844.8,558.3 845.2,555.3 845.6,558.0 846.1,557.9 846.6,558.1 847.2,558.2 847.7,558.3 848.3,558.3 848.8,558.3 849.4,558.5 849.9,558.5 850.5,558.6 851.0,558.4 851.6,558.3 852.1,558.6 852.7,558.7 853.2,558.5 853.8,558.5 854.3,558.6 854.9,558.6 855.4,558.7 856.0,558.9 856.5,558.9 857.1,558.6 857.6,558.5 858.2,558.7 858.7,558.9 859.3,558.7 859.8,558.6 860.4,558.4 860.9,558.5 861.5,558.7 862.0,558.5 862.6,558.6 863.1,558.7 863.7,558.7 864.2,558.5 864.8,558.4 865.3,558.4 865.9,558.3 866.4,558.3 867.0,558.2 867.5,558.1 868.1,558.3 868.6,558.3 869.2,558.2 869.7,558.1 870.3,558.1 870.8,558.1 871.4,558.0 871.9,558.4 872.5,558.7 873.0,558.8 873.6,558.6 874.1,558.6 874.7,558.8 875.2,559.0 875.8,559.1 876.3,559.3 876.9,559.5 877.4,559.5 878.0,559.6 878.5,559.8 879.1,559.8 879.6,559.9 880.2,560.2 880.7,560.3 881.3,560.4 881.8,560.5 882.4,560.4 882.9,560.5 883.5,560.6 883.9,551.1 884.3,560.8 884.6,561.0 885.1,560.9 885.7,560.4 886.2,560.6 886.8,560.8 887.3,560.6 887.9,560.8 888.4,560.9 889.0,560.6 889.5,560.7 890.1,561.0 890.6,560.8 891.2,560.9 891.7,561.0 892.3,560.9 892.8,561.0 893.4,560.9 893.9,560.9 894.5,561.0 895.0,561.1 895.6,561.2 896.1,561.0 896.7,560.9 897.2,561.2 897.8,561.4 898.3,561.3 898.9,561.3 899.4,561.3 900.0,561.1 900.5,561.0 901.1,561.2 901.6,561.3 902.2,561.1 902.7,561.3 903.3,561.5 903.8,561.4 904.4,561.3 904.9,561.3 905.5,561.4 906.0,561.6 906.6,561.6 907.1,561.6 907.7,561.9 908.2,561.7 908.8,561.5 909.3,561.5 909.9,561.7 910.4,561.8 911.0,561.7 911.5,561.7 912.1,561.8 912.6,562.0 913.2,561.9 913.7,561.9 914.3,562.1 914.8,562.2 915.4,562.1 915.9,562.2 916.5,562.4 917.0,562.4 917.6,562.3 918.1,562.3 918.7,562.3 919.2,562.3 919.8,562.4 920.3,562.5 920.9,562.4 921.4,562.4 922.0,562.5 922.5,562.6 923.1,562.7 923.6,562.5 924.2,562.5 924.7,562.6 925.3,562.7 925.8,562.9 926.4,562.8 926.9,562.7 927.5,562.6 928.0,562.7 928.6,563.0 929.1,562.9 929.7,562.8 930.2,562.8 930.8,562.9 931.3,562.9 931.9,562.9 932.4,562.9 933.0,562.8 933.5,562.7 934.1,562.8 934.6,563.3 935.2,563.1 935.7,563.0 936.3,563.2 936.8,563.1 937.4,563.3 937.9,563.2 938.5,563.1 939.0,563.2 939.6,563.2 940.1,563.1 940.7,563.1 941.2,563.4 941.8,563.4 942.3,563.2 942.9,563.3 943.4,563.5 944.0,563.4 944.5,563.5 945.1,563.4 945.6,563.5 946.2,563.6 946.7,563.4 947.3,563.4 947.8,563.5 948.4,563.8 948.9,563.6 949.5,563.1 950.0,563.2 950.6,563.4 951.1,563.4 951.7,563.4 952.2,563.5 952.8,563.6 953.3,563.5 953.9,563.4 954.4,563.4 955.0,563.4 955.5,563.5 956.1,563.6 956.6,563.5 957.2,563.6 957.7,563.6 958.3,563.5 958.8,563.9 959.4,563.8 959.9,563.7 960.5,563.8 961.0,563.6 961.6,563.7 962.1,563.6 962.7,563.6 963.2,563.7 963.8,563.7 964.3,563.9 964.9,563.8 965.4,563.7 966.0,563.8 966.5,563.7 967.1,563.7 967.6,563.9 968.2,563.8 968.7,563.7 969.3,563.8 969.8,563.9 970.4,563.9 970.9,563.8 971.5,563.7 972.0,563.6 972.6,563.5 973.1,563.7 973.7,564.0 974.2,564.0 974.8,563.8 975.3,563.9 975.9,564.0 976.4,563.9 977.0,563.8 977.5,563.7 978.1,563.7 978.6,564.0 979.2,564.1 979.7,564.0 980.3,564.0 980.8,563.8 981.4,563.7 981.9,563.6 982.5,563.7 983.0,563.8 983.6,563.9 984.1,563.8 984.7,563.8 985.2,563.7 985.8,563.7 986.3,563.8 986.9,563.9 987.4,563.9 988.0,563.7 988.5,563.8 989.1,563.7 989.6,563.8 990.2,563.8 990.7,563.7 991.3,563.8 991.8,563.8 992.4,563.6 992.9,563.7 993.5,563.7 994.0,563.6 994.6,563.6 995.1,563.6 995.7,563.5 996.2,563.7 996.8,563.5 997.3,563.3 997.9,563.3 998.4,563.1 999.0,562.9 999.5,563.1 1000.1,563.2 1000.6,563.1 1001.2,563.2 1001.7,563.0 1002.3,562.9 1002.4,562.9 1002.8,340.1 1003.1,562.7 1003.4,562.6 1003.9,562.7 1004.5,562.4 1005.0,562.4 1005.6,562.4 1006.1,562.0 1006.7,562.1 1007.2,562.0 1007.8,561.9 1008.3,561.8 1008.9,561.6 1009.4,561.5 1010.0,561.3 1010.5,561.3 1011.1,561.2 1011.6,560.9 1012.2,560.8 1012.7,560.7 1013.3,560.6 1013.8,560.4 1014.4,560.1 1014.9,560.3 1015.5,560.4 1016.0,560.3 1016.6,560.4 1017.1,560.3 1017.7,560.2 1018.2,560.2 1018.8,560.4 1019.3,560.4 1019.9,560.4 1020.4,560.5 1021.0,560.5 1021.5,560.5 1022.1,560.5 1022.6,560.6 1023.2,560.9 1023.7,560.9 1024.3,560.8 1024.8,560.7 1025.4,560.7 1025.9,560.8 1026.5,560.9 1027.0,560.7 1027.6,560.7 1028.1,560.7 1028.7,560.6 1029.2,560.5 1029.8,560.3 1030.3,560.3 1030.9,560.1 1031.4,559.8 1032.0,559.8 1032.5,559.6 1033.1,559.4 1033.6,559.2 1034.2,559.2 1034.7,559.3 1035.3,559.1 1035.8,559.0 1036.4,558.7 1036.9,558.8 1037.5,559.0 1038.0,558.9 1038.6,558.8 1039.1,558.8 1039.7,558.7 1040.2,558.7 1040.8,558.8 1041.3,558.9 1041.9,559.2 1042.4,559.3 1043.0,559.6 1043.5,559.7 1044.1,559.6 1044.6,559.5 1045.2,559.7 1045.7,559.6 1046.3,559.3 1046.8,559.4 1047.4,559.8 1047.9,559.7 1048.5,559.5 1049.0,559.7 1049.6,559.6 1050.1,559.2 1050.7,559.1 1051.2,559.1 1051.8,558.9 1052.3,558.7 1052.9,558.4 1053.4,558.4 1054.0,558.2 1054.5,557.8 1055.1,557.6 1055.6,557.6 1056.2,557.4 1056.7,557.3 1057.3,556.7 1057.8,556.3 1058.4,556.0 1058.9,555.7 1059.5,555.8 1060.0,555.4 1060.6,554.9 1061.1,554.4 1061.7,554.0 1062.2,553.8 1062.8,553.5 1063.3,553.2 1063.9,553.1 1064.4,552.5 1065.0,552.0 1065.5,551.5 1066.1,550.9 1066.6,550.0 1067.2,547.9 1067.7,545.3 1068.3,542.6 1068.8,539.8 1069.4,536.4 1069.9,534.6 1070.5,534.2 1071.0,533.5 1071.6,533.0 1072.1,532.9 1072.7,532.9 1073.2,533.2 1073.8,533.7 1074.3,534.3 1074.9,535.2 1075.4,536.3 1076.0,537.2 1076.5,537.9 1077.1,539.0 1077.6,540.2 1078.2,541.3 1078.7,541.9 1079.3,542.5 1079.8,543.1 1080.4,543.4 1080.9,543.7 1081.5,543.8 1082.0,544.0 1082.6,544.1 1083.1,544.0 1083.7,544.0 1084.2,544.2 1084.8,544.3 1085.3,544.0 1085.9,543.9 1086.4,543.7 1087.0,543.3 1087.5,542.7 1088.1,542.3 1088.6,541.8 1089.2,540.8 1089.7,539.7 1090.3,537.9 1090.8,535.6 1091.4,533.1 1091.9,530.2 1092.5,525.8 1093.0,519.9 1093.6,513.2 1094.1,505.5 1094.7,495.2 1095.2,483.8 1095.8,472.6 1096.3,460.8 1096.9,448.8 1097.4,436.1 1098.0,423.2 1098.5,414.2 1099.1,408.4 1099.6,404.9 1100.2,403.7 1100.7,403.1 1101.3,403.8 1101.8,405.3 1102.4,407.4 1102.9,412.3 1103.5,418.4 1104.0,422.2 1104.6,424.2 1105.1,426.1 1105.7,427.2 1106.2,428.1 1106.8,428.9 1107.3,429.7 1107.9,431.3 1108.4,434.4 1109.0,438.1 1109.5,441.8 1110.1,445.1 1110.6,448.3 1111.2,451.5 1111.7,455.0 1112.3,458.2 1112.8,461.1 1113.4,464.0 1113.9,467.1 1114.5,469.9 1114.9,472.3 1115.3,468.1 1115.7,476.3 1116.1,478.1 1116.7,480.9 1117.2,484.0 1117.8,486.9 1118.3,489.7 1118.9,492.2 1119.4,494.8 1120.0,497.2 1120.5,499.4 1121.1,501.6 1121.6,503.6 1122.2,505.6 1122.7,507.4 1123.3,509.2 1123.8,511.2 1124.4,512.7 1124.9,514.0 1125.5,515.6 1126.0,517.0 1126.6,518.3 1127.1,519.4 1127.7,520.7 1128.2,521.9 1128.8,523.0 1129.3,524.3 1129.9,525.7 1130.4,526.9 1131.0,528.1 1131.5,529.0 1132.1,530.0 1132.6,531.2 1133.2,532.2 1133.7,533.1 1134.3,534.2 1134.8,535.0 1135.4,535.7 1135.9,536.4 1136.5,537.3 1137.0,538.0 1137.6,538.6 1138.1,539.4 1138.7,539.8 1139.2,540.1 1139.8,540.7 1140.3,540.9 1140.9,541.2 1141.4,541.6 1142.0,541.8 1142.5,542.3 1143.1,542.6 1143.6,542.6 1144.2,543.0 1144.7,543.5 1145.3,543.6 1145.8,543.8 1146.4,544.2 1146.9,544.5 1147.5,544.7 1148.0,545.2 1148.6,545.5 1149.1,545.7 1149.7,546.0 1150.2,546.2 1150.8,546.4 1151.3,546.8 1151.9,547.0 1152.4,547.2 1153.0,547.3 1153.5,547.6 1154.1,548.0 1154.6,548.2 1155.2,548.3 1155.7,548.8 1156.3,549.2 1156.8,549.2 1157.4,549.5 1157.9,549.7 1158.5,549.9 1159.0,550.1 1159.6,550.2 1160.1,550.5 1160.7,550.6 1161.2,550.6 1161.8,550.9 1162.3,551.0 1162.9,551.0 1163.4,551.1 1164.0,551.0 1164.5,551.1 1165.1,551.0 1165.6,551.0 1166.2,551.3 1166.7,551.2 1167.3,551.2 1167.8,551.3 1168.4,551.5 1168.9,551.7 1169.5,551.8 1170.0,551.7 1170.6,551.5 1171.1,551.5 1171.7,551.8 1172.2,551.7 1172.8,551.8 1173.3,551.8 1173.9,551.9 1174.4,552.0 1175.0,551.9 1175.5,551.9 1176.1,552.1 1176.6,552.2 1177.2,552.1 1177.7,552.3 1178.3,552.3 1178.8,552.2 1179.4,552.3 1179.9,552.3 1180.5,552.3 1181.0,552.3 1181.6,552.4 1182.1,552.5 1182.7,552.4 1183.2,552.3 1183.8,552.3 1184.3,552.4 1184.9,552.5 1185.4,552.3 1186.0,552.3 1186.5,552.5 1187.1,552.4 1187.6,552.5 1188.2,552.2 1188.7,551.9 1189.3,552.1 1189.8,552.3 1190.4,552.4 1190.9,552.3 1191.5,552.3 1192.0,552.1 1192.6,552.0 1193.1,551.9 1193.7,551.7 1194.2,551.5 1194.8,551.4 1195.3,551.2 1195.9,550.8 1196.4,550.4 1197.0,550.3 1197.5,550.4 1198.1,550.2 1198.6,549.9 1199.2,549.9 1199.7,549.6 1200.3,549.4 1200.8,549.3 1201.4,549.1 1201.9,549.1 1202.5,548.8 1203.0,548.6 1203.6,548.5 1204.1,548.3 1204.7,548.3 1205.2,548.2 1205.8,547.9 1206.3,547.7 1206.9,547.8 1207.4,547.9 1208.0,547.8 1208.5,547.8 1209.1,547.7 1209.6,547.8 1210.2,547.9 1210.7,548.1 1211.3,548.1 1211.8,547.9 1212.4,548.1 1212.9,547.9 1213.5,547.7 1214.0,548.0 1214.6,548.1 1215.1,548.1 1215.7,548.1 1216.2,548.3 1216.8,548.3 1217.3,548.4 1217.9,548.4 1218.4,548.2 1219.0,548.3 1219.5,548.4 1220.1,548.4 1220.6,548.5 1221.2,548.9 1221.7,548.9 1222.3,548.8 1222.8,548.9 1223.4,549.1 1223.9,549.1 1224.5,549.2 1225.0,549.6 1225.6,549.6 1226.1,549.5 1226.7,549.5 1227.2,549.7 1227.8,549.8 1228.3,549.7 1228.9,550.0 1229.4,550.0 1230.0,549.9 1230.5,550.0 1231.1,549.9 1231.6,549.8 1232.2,550.0 1232.7,550.3 1233.3,550.1 1233.8,550.3 1234.4,550.3 1234.9,550.1 1235.5,550.2 1236.0,550.4 1236.6,550.8 1237.1,550.9 1237.7,550.9 1238.2,550.9 1238.8,550.9 1239.3,551.0 1239.9,551.3 1240.4,551.4 1241.0,551.3 1241.5,551.5 1242.1,551.5 1242.6,551.5 1243.2,551.4 1243.7,551.3 1244.3,551.2 1244.8,551.3 1245.4,551.5 1245.9,551.3 1246.5,551.2 1247.0,551.1 1247.6,550.9 1248.1,550.7 1248.7,550.5 1249.2,550.3 1249.8,550.3 1250.3,550.2 1250.9,550.0 1251.4,550.0 1251.5,550.0 1251.9,541.2 1252.3,549.5 1252.5,549.4 1253.1,549.2 1253.6,549.2 1254.2,548.9 1254.7,548.7 1255.3,548.7 1255.8,548.7 1256.4,548.5 1256.9,548.3 1257.5,548.2 1258.0,548.2 1258.6,548.1 1259.1,548.1 1259.7,548.0 1260.2,548.0 1260.8,548.0 1261.3,547.9 1261.9,547.7 1262.4,547.6 1263.0,547.5 1263.5,547.5 1264.1,547.4 1264.6,547.2 1264.8,547.2 1265.2,529.5 1265.6,547.1 1265.7,547.1 1266.3,547.2 1266.8,547.2 1267.4,547.0 1267.9,546.8 1268.5,546.6 1269.0,546.6 1269.6,546.7 1270.1,546.7 1270.7,546.5 1271.2,546.5 1271.8,546.4 1272.3,546.1 1272.9,545.9 1273.4,545.9 1274.0,545.8 1274.5,545.8 1275.1,545.5 1275.6,545.1 1276.2,544.8 1276.7,544.3 1277.3,544.2 1277.8,544.0 1278.4,543.4 1278.9,543.1 1279.5,542.9 1280.0,542.6 1280.6,542.0 1281.1,541.3 1281.7,540.8 1282.2,540.4 1282.8,539.9 1283.3,539.5 1283.9,539.2 1284.4,538.8 1285.0,538.4 1285.5,538.1 1286.1,537.9 1286.6,537.6 1287.2,537.3 1287.7,536.7 1288.3,536.3 1288.8,535.9 1289.4,535.5 1289.9,535.0 1290.5,534.5 1291.0,533.7 1291.6,532.9 1292.1,532.1 1292.7,531.6 1293.2,531.1 1293.8,530.2 1294.3,529.8 1294.9,529.4 1295.4,528.8 1296.0,528.1 1296.5,527.6 1297.1,527.1 1297.6,526.8 1298.2,526.5 1298.7,526.4 1299.3,526.2 1299.8,526.0 1300.4,526.0 1300.9,526.1 1301.5,526.1 1302.0,526.1 1302.6,526.2 1303.1,526.4 1303.7,526.7 1304.2,526.9 1304.8,527.0 1305.3,527.0 1305.9,526.8 1306.4,526.4 1307.0,526.1 1307.5,525.6 1308.1,525.1 1308.6,524.5 1309.2,523.4 1309.7,522.1 1310.3,521.0 1310.8,520.2 1311.4,519.4 1311.9,518.8 1312.5,518.0 1313.0,517.5 1313.6,517.4 1314.1,517.0 1314.7,516.6 1315.2,516.7 1315.8,517.1 1316.3,517.2 1316.9,517.4 1317.4,517.7 1318.0,517.8 1318.5,517.9 1319.1,518.2 1319.6,518.3 1320.2,518.3 1320.7,518.2 1321.3,518.3 1321.8,518.5 1322.4,518.9 1322.9,519.1 1323.5,519.0 1324.0,519.1 1324.6,519.1 1325.1,519.1 1325.7,519.3 1326.2,519.5 1326.8,527.6 1327.3,529.4 1327.9,529.5 1328.4,529.6 1329.0,529.5 1329.5,529.5 1330.1,529.7 1330.6,531.1 1331.2,533.1 1331.7,534.9 1332.3,536.7 1332.8,538.1 1333.4,539.3 1333.9,540.4 1334.5,541.4 1335.0,542.5 1335.6,543.5 1336.1,544.3 1336.7,545.2 1337.2,546.1 1337.8,547.1 1338.3,547.9 1338.9,548.4 1339.4,549.2 1340.0,549.8 1340.5,550.1 1341.1,550.3 1341.6,550.7 1342.2,551.2 1342.7,551.5 1343.3,551.5 1343.8,551.8 1344.4,552.1 1344.9,552.4 1345.5,552.7 1346.0,552.9 1346.6,552.9 1347.1,553.0 1347.7,553.3 1348.2,553.6 1348.8,553.8 1349.3,553.9 1349.9,553.9 1350.4,554.1 1351.0,554.1 1351.5,554.2 1352.1,554.4 1352.6,554.6 1353.2,554.6 1353.7,554.6 1354.3,554.8 1354.8,555.0 1355.4,555.1 1355.9,555.2 1356.5,555.3 1357.0,555.3 1357.6,555.4 1358.1,555.7 1358.7,555.8 1359.2,555.8 1359.8,555.9 1360.3,556.0 1360.9,556.1 1361.4,556.0 1362.0,556.2 1362.5,556.5 1363.1,556.5 1363.6,556.3 1364.2,556.5 1364.7,556.6 1365.3,556.4 1365.8,556.7 1366.4,556.8 1366.9,556.8 1367.5,556.9 1368.0,556.8 1368.6,556.8 1369.1,556.8 1369.7,557.0 1370.2,557.2 1370.8,557.2 1371.3,557.1 1371.9,557.2 1372.4,557.1 1373.0,557.2 1373.5,557.4 1374.1,557.4 1374.6,557.4 1375.2,557.4 1375.7,557.3 1376.3,557.5 1376.8,557.5 1377.4,557.4 1377.9,557.6 1378.5,557.4 1379.0,557.4 1379.6,557.4 1380.1,557.4 1380.7,557.4 1381.2,557.4 1381.8,557.6 1382.3,557.3 1382.9,557.2 1383.4,557.3 1384.0,557.3 1384.5,557.3 1385.1,557.3 1385.6,557.3 1386.2,557.3 1386.7,557.2 1387.3,557.3 1387.8,557.5 1388.4,557.6 1388.9,557.2 1389.5,557.2 1390.0,557.4 1390.6,557.4 1391.1,557.3 1391.7,557.3 1392.2,557.1 1392.8,557.1 1393.3,557.3 1393.9,557.2 1394.4,557.2 1395.0,557.2 1395.5,557.1 1396.1,557.0 1396.6,557.0 1397.2,557.1 1397.7,557.1 1398.3,557.0 1398.8,557.0 1399.4,557.0 1399.9,557.1 1400.5,557.1 1401.0,557.0 1401.6,557.2 1402.1,557.4 1402.7,557.1 1403.2,557.1 1403.8,557.1 1404.3,557.0 1404.9,557.1 1405.4,557.1 1406.0,557.1 1406.5,557.1 1407.1,557.2 1407.6,557.3 1408.2,557.4 1408.7,557.1 1409.3,557.1 1409.8,557.3 1410.4,557.1 1410.9,557.1 1411.5,557.4 1412.0,557.6 1412.6,557.5 1413.1,557.2 1413.7,557.2 1414.2,557.4 1414.8,557.3 1415.3,557.1 1415.9,556.9 1416.4,556.6 1417.0,556.5 1417.5,556.4 1418.1,556.3 1418.6,556.2 1419.2,556.0 1419.7,555.7 1420.3,555.6 1420.8,555.6 1421.4,555.5 1421.9,555.6 1422.5,555.4 1423.0,555.2 1423.6,555.1 1424.1,554.8 1424.7,554.6 1425.2,554.3 1425.8,554.2 1426.3,554.0 1426.9,553.9 1427.4,553.8 1428.0,553.6 1428.5,553.5 1429.1,553.4 1429.6,553.3 1430.2,553.5 1430.7,553.6 1431.3,553.6 1431.8,553.5 1432.4,553.6 1432.9,553.7 1433.5,553.7 1434.0,553.8 1434.6,553.9 1435.1,554.2 1435.7,554.3 1436.2,554.3 1436.8,554.3 1437.3,554.5 1437.9,554.6 1438.4,554.7 1439.0,555.0 1439.5,555.1 1440.1,555.2 1440.6,555.4 1441.2,555.5 1441.7,555.7 1442.3,555.7 1442.8,555.9 1443.4,556.0 1443.9,556.0 1444.5,556.1 1445.0,556.3 1445.6,556.4 1446.1,556.6 1446.7,556.6 1447.2,556.5 1447.8,556.6 1448.3,556.6 1448.9,556.8 1449.4,556.7 1450.0,556.5 1450.5,556.6 1451.1,556.9 1451.6,557.0 1452.2,556.9 1452.7,556.9 1453.3,557.1 1453.8,557.2 1454.4,557.1 1454.9,557.2 1455.5,557.5 1456.0,557.6 1456.6,557.7 1457.1,557.9 1457.7,558.1 1458.2,558.0 1458.8,557.9 1459.3,558.1 1459.9,558.1 1460.4,558.0 1461.0,558.1 1461.5,558.1 1462.1,558.1 1462.6,558.5 1463.2,558.5 1463.7,558.4 1464.3,558.4 1464.8,558.3 1465.4,558.5 1465.9,558.6 1466.5,558.5 1467.0,558.4 1467.6,558.4 1468.1,558.5 1468.7,558.4 1469.2,558.5 1469.8,558.5 1470.3,558.4 1470.9,558.4 1471.4,558.3 1472.0,558.4 1472.5,558.4 1473.1,558.4 1473.6,558.4 1474.2,558.6 1474.7,558.6 1475.3,558.5 1475.8,558.2 1476.4,558.0 1476.9,558.2 1477.5,558.0 1478.0,557.9 1478.6,557.8 1479.1,557.8 1479.7,557.7 1480.2,557.5 1480.8,557.6 1481.3,557.5 1481.9,557.1 1482.4,557.0 1483.0,556.9 1483.5,556.6 1484.1,556.5 1484.6,556.5 1485.2,556.2 1485.7,556.1 1486.3,556.0 1486.8,555.8 1487.4,555.8 1487.9,555.8 1488.5,555.5 1489.0,555.3 1489.6,555.3 1490.1,555.3 1490.7,555.5 1491.2,556.0 1491.8,556.0 1492.3,555.8 1492.9,556.0 1493.4,556.3 1494.0,556.4 1494.5,556.4 1495.1,556.6 1495.6,556.6 1496.2,556.6 1496.7,556.9 1497.3,557.0 1497.8,556.9 1498.4,557.0 1498.9,557.0 1499.5,557.0 1500.0,556.9 1500.6,556.8 1501.1,556.8 1501.7,556.9 1502.2,556.9 1502.8,556.9 1503.3,557.1 1503.9,557.2 1504.4,556.9 1505.0,556.8 1505.5,557.0 1506.1,556.8 1506.6,556.8 1507.2,556.7 1507.7,556.4 1508.3,556.6 1508.8,556.6 1509.4,556.5 1509.9,556.5 1510.5,556.3 1511.0,556.1 1511.6,555.9 1512.1,555.8 1512.7,555.6 1513.2,555.4 1513.8,555.1 1514.3,554.6 1514.9,554.5 1515.4,554.4 1516.0,554.1 1516.5,553.9 1517.1,553.6 1517.6,553.1 1518.2,552.6 1518.7,552.4 1519.3,552.3 1519.8,552.1 1520.4,552.0 1520.9,551.7 1521.5,551.6 1522.0,551.7 1522.6,551.5 1523.1,551.5 1523.7,551.5 1524.2,551.4 1524.8,551.4 1525.3,551.7 1525.9,551.9 1526.4,552.0 1527.0,552.3 1527.5,552.6 1528.1,553.0 1528.6,553.0 1529.2,553.0 1529.7,553.2 1530.3,553.3 1530.8,553.7 1531.4,554.1 1531.9,554.0 1532.5,554.0 1533.0,554.3 1533.6,554.6 1534.1,554.7 1534.7,554.8 1535.2,555.0 1535.8,555.0 1536.3,555.1 1536.9,555.3 1537.4,555.4 1538.0,555.6 1538.5,555.7 1539.1,555.7 1539.6,555.8 1540.2,556.0 1540.7,556.0 1541.3,555.9 1541.8,556.1 1542.4,556.1 1542.9,555.9 1543.5,556.1 1544.0,556.1 1544.6,555.9 1545.1,556.1 1545.7,556.3 1545.9,556.4 1546.3,522.7 1546.7,556.5 1546.8,556.5 1547.3,556.6 1547.9,556.6 1548.4,556.4 1549.0,556.6 1549.5,556.7 1550.1,556.6 1550.6,556.4 1551.2,556.5 1551.7,556.5 1552.3,556.5 1552.8,556.4 1553.4,556.5 1553.9,556.5 1554.5,556.3 1555.0,556.1 1555.6,556.2 1556.1,556.3 1556.7,556.4 1557.2,556.2 1557.8,556.2 1558.3,556.3 1558.9,556.2 1559.4,556.2 1560.0,556.1 1560.5,555.9 1561.1,556.1 1561.6,556.1 1562.2,556.0 1562.7,556.1 1563.3,556.0 1563.8,556.0 1564.4,556.1 1564.9,556.2 1565.5,556.1 1566.0,555.9 1566.6,555.9 1567.1,555.8 1567.7,555.8 1568.2,555.9 1568.8,555.8 1569.3,555.9 1569.9,555.9 1570.4,555.8 1571.0,555.8 1571.5,555.9 1572.1,555.8 1572.6,555.7 1573.2,555.9 1573.7,555.9 1574.3,555.7 1574.8,555.8 1575.4,555.9 1575.9,555.8 1576.5,555.6 1577.0,555.6 1577.6,555.6 1578.1,555.7 1578.7,555.8 1579.2,555.7 1579.8,555.5 1580.3,555.4 1580.9,555.7 1581.4,555.8 1582.0,555.6 1582.5,555.4 1583.1,555.4 1583.6,555.5 1584.2,555.6 1584.7,555.6 1585.3,555.6 1585.8,555.7 1586.4,555.6 1586.9,555.4 1587.5,555.4 1588.0,555.5 1588.6,555.7 1589.1,555.7 1589.7,555.5 1590.2,555.6 1590.8,555.6 1591.3,555.4 1591.9,555.4 1592.4,555.4 1593.0,555.4 1593.5,555.3 1594.1,555.4 1594.6,555.4 1595.2,555.3 1595.7,555.3 1596.3,555.2 1596.8,555.1 1597.4,555.1 1597.9,555.1 1598.5,555.1 1599.0,555.1 1599.6,555.1 1600.1,555.1 1600.7,555.1 1601.2,555.1 1601.8,555.0 1602.3,554.9 1602.9,554.9 1603.4,554.9 1604.0,554.9 1604.5,554.8 1605.1,554.8 1605.6,554.8 1606.2,554.8 1606.7,554.7 1607.3,554.7 1607.8,554.8 1608.4,554.9 1608.9,554.7 1609.5,554.6 1610.0,554.5 1610.6,554.6 1611.1,554.6 1611.7,554.5 1612.2,554.5 1612.8,554.4 1613.3,554.3 1613.9,554.4 1614.4,554.5 1615.0,554.5 1615.5,554.3 1616.1,554.1 1616.6,554.1 1617.2,554.2 1617.7,554.1 1618.3,554.1 1618.8,554.1 1619.4,554.0 1619.9,553.9 1620.5,554.1 1621.0,554.1 1621.6,553.9 1622.1,553.8 1622.7,553.7 1623.2,553.6 1623.8,553.6 1624.3,553.8 1624.9,553.9 1625.4,553.8 1626.0,553.8 1626.5,553.8 1627.1,553.7 1627.6,553.8 1628.2,553.7 1628.7,553.6 1629.3,553.4 1629.8,553.4 1630.4,553.5 1630.9,553.5 1631.5,553.5 1632.0,553.5 1632.6,553.4 1633.1,553.4 1633.7,553.4 1634.2,553.2 1634.8,553.3 1635.3,553.2 1635.9,553.1"/>
<polyline fill="none" stroke="#000" stroke-width="2.6" stroke-linejoin="round" stroke-dasharray="2.6 4.25" points="211.6,412.7 215.8,414.4 220.0,416.0 224.2,417.6 228.4,419.1 232.6,420.6 236.8,422.0 241.0,423.3 245.2,424.6 249.4,425.7 253.6,426.8 257.8,427.9 262.0,429.0 266.2,430.2 270.4,431.5 274.6,432.9 278.8,434.2 283.0,435.6 287.2,436.9 291.4,438.1 295.6,439.2 299.8,440.1 304.0,441.0 308.2,441.8 312.4,442.5 316.6,443.2 320.8,443.9 325.0,444.6 329.2,445.2 333.4,445.8 337.6,446.4 341.8,447.0 346.0,447.6 350.2,448.1 354.4,448.6 358.6,449.1 362.8,449.6 367.0,450.0 371.2,450.5 375.4,450.9 379.6,451.3 383.8,451.7 388.0,452.1 392.2,452.4 396.4,452.8 401.1,453.1 408.8,453.7 416.5,454.3 424.2,454.8 431.9,455.4 439.6,456.0 447.3,456.6 455.0,457.1 462.7,457.7 470.4,458.3 478.1,458.8 485.8,459.4 493.5,459.9 501.2,460.4 508.9,460.8 516.6,461.3 524.3,461.8 532.0,462.2 539.7,462.6 547.4,463.1 555.1,463.6 562.8,464.2 570.5,464.9 578.2,465.7 585.9,466.3 593.6,466.9 601.3,467.4 609.0,468.0 616.7,468.5 624.4,468.9 632.1,469.4 639.8,469.9 647.5,470.4 655.2,470.8 662.9,471.3 670.6,471.7 678.3,472.2 686.0,472.6 693.7,473.1 701.4,473.6 709.1,474.1 716.8,474.6 724.5,475.1 732.2,475.7 739.9,476.2 747.6,476.8 755.3,477.4 763.0,478.0 770.7,478.6 778.4,479.2 786.1,479.8 793.8,480.5 801.5,481.1 809.2,481.8 816.9,482.4 824.6,483.1 832.3,483.7 840.0,484.3 847.7,485.1 855.4,485.8 863.1,486.5 870.8,487.0 878.5,487.2 886.2,486.3 893.9,486.9 901.6,487.7 909.3,488.8 917.0,490.0 924.7,491.2 932.4,492.3 940.1,493.2 947.8,493.9 955.5,494.4 963.2,494.9 970.9,495.4 978.6,495.8 986.3,496.3 994.0,496.8 1001.7,497.3 1009.4,497.9 1017.1,498.5 1024.8,499.1 1032.5,499.8 1040.2,500.5 1047.9,501.1 1055.6,501.8 1063.3,502.5 1071.0,503.1 1078.7,503.7 1086.4,504.3 1094.1,504.9 1101.8,505.5 1109.5,506.1 1117.2,506.7 1124.9,507.3 1132.6,507.8 1140.3,508.4 1148.0,509.0 1155.7,509.5 1163.4,510.0 1171.1,510.6 1178.8,511.1 1186.5,511.6 1194.2,512.2 1201.9,512.7 1209.6,513.3 1217.3,513.9 1225.0,514.5 1232.7,515.0 1240.4,515.6 1248.1,516.2 1255.8,516.8 1263.5,517.4 1271.2,518.0 1278.9,518.5 1286.6,519.1 1294.3,519.6 1302.0,520.0 1309.7,520.5 1317.4,520.9 1325.1,521.4 1332.8,521.8 1340.5,522.2 1348.2,522.7 1355.9,523.0 1363.6,523.4 1371.3,523.7 1379.0,523.9 1386.7,524.1 1394.4,524.3 1402.1,524.5 1409.8,524.6 1417.5,524.7 1425.2,524.8 1432.9,524.8 1440.6,524.9 1448.3,524.8 1456.0,524.8 1463.7,524.9 1471.4,524.8 1479.1,524.6 1486.8,524.3 1494.5,524.0 1502.2,523.7 1509.9,523.4 1517.6,523.1 1525.3,522.7 1533.0,522.2 1540.7,521.6 1548.4,520.9 1556.1,520.0 1563.8,519.1 1571.5,518.2 1579.2,517.3 1586.9,516.3 1594.6,515.3 1602.3,514.2 1610.0,513.0 1617.7,511.7 1625.4,510.3 1633.1,508.6"/>
<polyline fill="none" stroke="#000" stroke-width="2.6" stroke-linejoin="round" stroke-dasharray="2.6 4.25" points="211.6,564.9 215.8,564.4 220.0,563.9 224.2,563.5 228.4,563.1 232.6,562.7 236.8,562.3 241.0,562.0 245.2,561.7 249.4,561.5 253.6,561.2 257.8,561.0 262.0,560.8 266.2,560.6 270.4,560.4 274.6,560.2 278.8,560.0 283.0,559.8 287.2,559.6 291.4,559.4 295.6,559.2 299.8,559.0 304.0,558.8 308.2,558.6 312.4,558.5 316.6,558.3 320.8,558.2 325.0,558.0 329.2,557.9 333.4,557.8 337.6,557.7 341.8,557.6 346.0,557.5 350.2,557.4 354.4,557.4 358.6,557.3 362.8,557.3 367.0,557.2 371.2,557.2 375.4,557.2 379.6,557.1 383.8,557.1 388.0,557.1 392.2,557.0 396.4,557.0 401.1,556.9 408.8,556.9 416.5,556.8 424.2,556.7 431.9,556.7 439.6,556.6 447.3,556.6 455.0,556.6 462.7,556.6 470.4,556.6 478.1,556.6 485.8,556.6 493.5,556.6 501.2,556.6 508.9,556.6 516.6,556.6 524.3,556.6 532.0,556.6 539.7,556.6 547.4,556.6 555.1,556.6 562.8,556.6 570.5,556.6 578.2,556.7 585.9,556.7 593.6,556.8 601.3,556.8 609.0,556.9 616.7,557.0 624.4,557.0 632.1,557.1 639.8,557.2 647.5,557.3 655.2,557.3 662.9,557.4 670.6,557.5 678.3,557.6 686.0,557.7 693.7,557.8 701.4,558.0 709.1,558.1 716.8,558.2 724.5,558.4 732.2,558.6 739.9,558.8 747.6,559.0 755.3,559.2 763.0,559.4 770.7,559.6 778.4,559.8 786.1,560.0 793.8,560.2 801.5,560.4 809.2,560.5 816.9,560.6 824.6,560.6 832.3,560.7 840.0,560.8 847.7,560.9 855.4,561.1 863.1,561.3 870.8,561.5 878.5,561.9 886.2,562.7 893.9,563.1 901.6,563.3 909.3,563.5 917.0,563.6 924.7,563.7 932.4,563.8 940.1,564.0 947.8,564.1 955.5,564.3 963.2,564.4 970.9,564.5 978.6,564.7 986.3,564.8 994.0,564.9 1001.7,565.1 1009.4,565.2 1017.1,565.4 1024.8,565.6 1032.5,565.7 1040.2,565.9 1047.9,566.1 1055.6,566.3 1063.3,566.4 1071.0,566.6 1078.7,566.7 1086.4,566.8 1094.1,567.0 1101.8,567.1 1109.5,567.2 1117.2,567.3 1124.9,567.5 1132.6,567.6 1140.3,567.7 1148.0,567.9 1155.7,568.1 1163.4,568.2 1171.1,568.4 1178.8,568.6 1186.5,568.8 1194.2,569.0 1201.9,569.1 1209.6,569.2 1217.3,569.3 1225.0,569.5 1232.7,569.5 1240.4,569.6 1248.1,569.7 1255.8,569.7 1263.5,569.7 1271.2,569.7 1278.9,569.7 1286.6,569.7 1294.3,569.6 1302.0,569.5 1309.7,569.5 1317.4,569.4 1325.1,569.3 1332.8,569.2 1340.5,569.1 1348.2,569.0 1355.9,568.9 1363.6,568.7 1371.3,568.5 1379.0,568.3 1386.7,568.1 1394.4,567.9 1402.1,567.7 1409.8,567.4 1417.5,567.1 1425.2,566.9 1432.9,566.6 1440.6,566.2 1448.3,566.7 1456.0,566.5 1463.7,565.8 1471.4,565.4 1479.1,564.9 1486.8,564.5 1494.5,564.0 1502.2,563.3 1509.9,562.7 1517.6,562.1 1525.3,561.5 1533.0,560.9 1540.7,560.1 1548.4,559.3 1556.1,558.6 1563.8,557.8 1571.5,557.0 1579.2,556.3 1586.9,555.5 1594.6,554.6 1602.3,553.7 1610.0,552.8 1617.7,551.9 1625.4,550.8 1633.1,549.7"/></g>
<g clip-path="url(#c2)"><polyline fill="none" stroke="#000" stroke-width="2.6" stroke-linejoin="round"  points="211.6,1200.4 211.9,1190.6 212.2,1189.7 212.5,1179.3 212.8,1192.0 213.1,1190.5 213.4,1189.5 213.7,1193.6 214.0,1194.2 214.3,1187.1 214.6,1187.9 214.9,1189.9 215.2,1195.5 215.5,1194.9 215.8,1186.0 216.1,1186.9 216.4,1195.8 216.7,1199.8 217.0,1192.2 217.3,1189.1 217.6,1197.6 217.9,1190.9 218.2,1195.9 218.5,1199.8 218.8,1195.4 219.1,1192.8 219.4,1195.9 219.7,1189.4 220.0,1191.7 220.3,1189.8 220.6,1191.6 220.9,1190.3 221.2,1191.7 221.5,1190.8 221.8,1193.0 222.1,1192.9 222.4,1194.0 222.7,1199.3 223.0,1185.4 223.3,1198.8 223.6,1191.6 223.9,1186.9 224.2,1191.9 224.5,1193.2 224.8,1197.8 225.1,1187.8 225.4,1193.8 225.7,1193.3 226.0,1184.9 226.3,1187.3 226.6,1195.6 226.9,1196.1 227.2,1198.0 227.5,1195.4 227.8,1194.7 228.1,1193.5 228.4,1198.6 228.7,1189.0 229.0,1192.3 229.3,1194.8 229.6,1185.6 229.9,1199.1 230.2,1189.3 230.5,1192.7 230.8,1203.1 231.1,1189.2 231.4,1190.6 231.7,1200.3 232.0,1188.1 232.3,1191.1 232.6,1195.5 232.9,1195.3 233.2,1196.0 233.5,1195.0 233.8,1199.5 234.1,1198.0 234.4,1196.2 234.7,1190.3 235.0,1190.2 235.3,1184.8 235.6,1196.8 235.9,1185.3 236.2,1197.8 236.5,1202.3 236.8,1189.0 237.1,1190.7 237.4,1191.7 237.7,1197.8 238.0,1190.0 238.3,1193.4 238.6,1191.7 238.9,1192.9 239.2,1200.0 239.5,1189.7 239.8,1194.4 240.1,1195.3 240.4,1197.9 240.7,1188.2 241.0,1199.0 241.3,1195.8 241.6,1197.8 241.9,1194.0 242.2,1186.2 242.5,1190.5 242.8,1197.1 243.1,1193.4 243.4,1192.9 243.7,1201.1 244.0,1202.8 244.3,1192.5 244.5,1198.4 244.9,1130.0 245.3,1187.3 245.5,1196.0 245.8,1190.7 246.1,1194.4 246.4,1193.9 246.7,1191.0 247.0,1194.3 247.3,1191.8 247.6,1184.0 247.9,1191.7 248.2,1191.4 248.5,1198.5 248.8,1185.0 249.1,1189.9 249.4,1187.7 249.7,1188.7 250.0,1196.4 250.3,1190.4 250.6,1186.3 250.9,1188.7 251.2,1191.1 251.5,1182.9 251.8,1185.8 252.1,1193.5 252.4,1190.0 252.7,1185.5 253.0,1183.1 253.3,1184.0 253.6,1177.3 253.9,1187.2 254.2,1184.0 254.5,1182.3 254.8,1177.0 255.1,1177.5 255.4,1178.7 255.7,1175.9 256.0,1172.4 256.3,1171.7 256.6,1170.1 256.9,1165.8 257.2,1163.7 257.5,1161.2 257.8,1158.9 258.1,1159.5 258.4,1157.4 258.7,1155.5 259.0,1152.0 259.3,1150.6 259.6,1150.0 259.9,1147.9 260.2,1147.3 260.5,1145.6 260.8,1147.6 261.1,1150.3 261.4,1151.7 261.7,1153.7 262.0,1153.6 262.3,1156.3 262.6,1156.6 262.9,1160.1 263.2,1160.2 263.5,1161.6 263.8,1162.8 264.1,1165.7 264.4,1166.4 264.7,1167.4 265.0,1166.8 265.3,1169.4 265.6,1168.4 265.9,1172.8 266.2,1171.7 266.5,1172.8 266.8,1173.1 267.1,1171.9 267.4,1172.8 267.7,1175.0 268.0,1177.4 268.3,1174.7 268.6,1175.7 268.9,1177.0 269.2,1175.5 269.5,1175.9 269.8,1178.0 270.1,1178.9 270.4,1179.0 270.7,1181.9 271.0,1180.3 271.3,1181.5 271.6,1183.6 271.9,1184.3 272.2,1180.8 272.5,1182.9 272.8,1185.4 273.1,1182.8 273.4,1183.8 273.7,1183.8 274.0,1184.1 274.1,1184.3 274.5,1100.0 274.9,1189.5 275.2,1190.5 275.5,1188.1 275.8,1184.6 276.1,1188.8 276.4,1188.6 276.7,1190.5 277.0,1189.7 277.3,1185.9 277.6,1191.4 277.9,1185.4 278.2,1188.8 278.5,1191.1 278.8,1191.1 279.1,1193.9 279.4,1184.1 279.7,1190.5 280.0,1191.2 280.3,1188.5 280.6,1190.7 280.9,1186.2 281.2,1190.3 281.5,1189.8 281.8,1185.9 282.1,1186.5 282.4,1187.4 282.7,1186.1 283.0,1190.0 283.3,1187.7 283.6,1190.2 283.9,1189.7 284.2,1186.9 284.5,1186.2 284.8,1184.3 285.1,1184.6 285.4,1184.5 285.7,1187.2 286.0,1184.3 286.3,1186.6 286.6,1186.9 286.9,1185.4 287.2,1186.2 287.5,1190.1 287.8,1190.6 288.1,1185.2 288.4,1186.7 288.7,1186.4 289.0,1186.8 289.3,1191.1 289.6,1189.3 289.9,1190.7 290.2,1192.0 290.5,1187.0 290.8,1187.7 291.1,1188.3 291.4,1190.7 291.7,1188.2 292.0,1190.0 292.3,1191.3 292.6,1191.5 292.9,1190.0 293.2,1187.4 293.5,1185.8 293.8,1191.9 294.1,1190.6 294.4,1187.6 294.7,1188.7 295.0,1189.0 295.3,1186.4 295.6,1190.7 295.9,1188.5 296.2,1189.6 296.5,1191.9 296.8,1190.0 297.1,1191.4 297.4,1191.1 297.7,1190.0 298.0,1189.5 298.2,1191.7 298.6,1150.1 299.0,1188.3 299.2,1184.0 299.5,1186.5 299.8,1184.2 300.1,1181.3 300.4,1176.3 300.7,1184.6 301.0,1178.1 301.3,1178.0 301.6,1180.2 301.9,1179.9 302.2,1180.3 302.5,1179.1 302.8,1176.4 303.1,1181.3 303.4,1177.6 303.7,1179.8 304.0,1180.5 304.3,1181.7 304.6,1178.7 304.9,1178.4 305.2,1178.5 305.5,1175.1 305.8,1177.3 306.1,1176.7 306.4,1176.4 306.7,1179.0 307.0,1177.9 307.3,1181.8 307.6,1181.5 307.9,1174.6 308.2,1178.6 308.5,1176.2 308.8,1179.3 309.1,1178.4 309.4,1179.6 309.7,1177.6 310.0,1177.5 310.3,1174.3 310.6,1168.6 310.9,1169.8 311.2,1169.0 311.5,1167.5 311.8,1163.7 312.1,1165.7 312.4,1158.9 312.7,1158.7 313.0,1153.1 313.3,1155.2 313.6,1148.4 313.9,1150.6 314.2,1145.8 314.5,1148.1 314.8,1149.4 315.1,1142.5 315.4,1143.3 315.7,1144.8 316.0,1143.6 316.3,1141.1 316.6,1145.5 316.9,1143.2 317.2,1145.2 317.5,1143.2 317.8,1140.3 318.1,1141.4 318.4,1144.6 318.7,1139.7 319.0,1141.6 319.3,1144.0 319.6,1145.5 319.9,1146.0 320.2,1142.8 320.5,1149.8 320.8,1146.7 321.1,1147.6 321.4,1148.0 321.7,1147.7 322.0,1146.2 322.3,1146.9 322.6,1149.1 322.9,1143.9 323.2,1141.3 323.5,1145.4 323.8,1144.4 324.1,1144.3 324.4,1145.4 324.7,1141.1 325.0,1142.5 325.3,1143.1 325.6,1144.4 325.9,1144.3 326.2,1141.6 326.6,1136.6 327.0,1142.1 327.1,1141.5 327.4,1146.3 327.7,1144.4 328.0,1144.9 328.3,1144.5 328.6,1148.9 328.9,1147.6 329.2,1147.2 329.5,1149.5 329.8,1149.2 330.1,1151.0 330.4,1153.0 330.7,1151.2 331.0,1153.1 331.3,1153.7 331.6,1155.4 331.9,1155.1 332.2,1154.9 332.5,1154.4 332.8,1156.4 333.1,1154.9 333.4,1158.1 333.7,1157.8 334.0,1159.1 334.3,1158.0 334.6,1158.2 334.9,1158.6 335.2,1162.4 335.5,1160.9 335.8,1161.6 336.1,1159.8 336.4,1163.2 336.7,1158.6 337.0,1166.8 337.3,1165.0 337.6,1166.1 337.9,1164.5 338.2,1165.8 338.5,1169.1 338.8,1168.5 339.1,1170.2 339.4,1172.2 339.7,1172.0 340.0,1168.8 340.3,1171.0 340.6,1171.6 340.9,1172.9 341.2,1172.0 341.5,1172.9 341.8,1175.8 342.1,1176.7 342.4,1179.1 342.7,1178.3 343.0,1181.4 343.3,1176.6 343.6,1177.3 343.9,1179.6 344.2,1178.4 344.5,1176.8 344.8,1178.9 345.1,1178.8 345.4,1178.4 345.7,1175.2 346.0,1175.1 346.3,1174.8 346.6,1173.7 346.9,1174.2 347.2,1170.9 347.5,1171.1 347.8,1166.2 348.1,1169.8 348.4,1170.3 348.7,1167.2 349.0,1168.4 349.3,1164.2 349.6,1166.2 349.9,1164.3 350.2,1167.1 350.5,1167.3 350.8,1164.5 351.1,1165.2 351.4,1165.5 351.7,1170.0 352.0,1166.2 352.3,1166.5 352.6,1166.8 352.9,1166.6 353.2,1166.1 353.5,1165.2 353.8,1167.1 354.1,1171.7 354.3,1171.2 354.7,1096.7 355.1,1172.9 355.3,1175.3 355.6,1177.0 355.9,1177.5 356.2,1181.1 356.5,1180.1 356.8,1181.7 357.1,1184.2 357.4,1184.4 357.7,1186.6 358.0,1185.2 358.3,1185.1 358.6,1186.2 358.9,1185.3 359.2,1185.8 359.5,1183.7 359.8,1181.9 360.1,1181.4 360.4,1180.5 360.7,1176.9 361.0,1177.5 361.3,1176.4 361.5,1177.4 361.9,1167.5 362.3,1174.9 362.5,1172.2 362.8,1173.2 363.1,1174.0 363.4,1171.3 363.7,1172.5 364.0,1167.0 364.3,1168.9 364.6,1168.0 364.9,1166.3 365.2,1163.0 365.5,1164.8 365.8,1159.1 366.1,1162.4 366.4,1160.1 366.7,1159.8 367.0,1156.7 367.3,1154.4 367.6,1154.0 367.9,1152.9 368.2,1153.2 368.5,1150.8 368.8,1150.7 369.1,1149.7 369.4,1150.0 369.7,1144.3 370.0,1145.7 370.3,1146.6 370.6,1146.0 370.9,1143.7 371.2,1143.6 371.5,1143.4 371.8,1143.3 372.1,1142.0 372.4,1141.7 372.7,1141.1 373.0,1142.2 373.3,1144.9 373.6,1142.0 373.9,1145.1 374.2,1147.0 374.5,1145.1 374.8,1148.8 375.1,1146.0 375.4,1149.2 375.7,1147.5 376.0,1146.9 376.3,1150.6 376.6,1154.5 376.9,1153.0 377.2,1156.4 377.5,1156.1 377.8,1157.7 378.1,1160.5 378.4,1160.0 378.7,1160.2 379.0,1159.0 379.3,1152.9 379.6,1150.8 379.9,1149.6 380.2,1151.3 380.5,1146.4 380.8,1145.2 381.1,1145.4 381.4,1146.7 381.7,1141.9 382.0,1141.0 382.3,1139.8 382.6,1138.4 382.9,1136.6 383.3,1125.7 383.7,1121.1 383.8,1120.1 384.1,1116.1 384.4,1109.5 384.7,1107.5 385.0,1105.4 385.3,1100.7 385.6,1097.9 385.9,1093.8 386.2,1089.9 386.5,1085.3 386.8,1080.9 387.1,1076.8 387.4,1070.3 387.7,1063.8 388.0,1055.5 388.3,1037.3 388.6,1013.6 388.9,989.9 389.2,972.7 389.5,960.7 389.8,948.6 390.1,938.6 390.4,927.6 390.7,916.2 391.0,903.8 391.3,891.1 391.6,877.8 391.9,864.8 392.2,850.8 392.5,838.1 392.8,825.5 393.1,812.9 393.4,800.2 393.7,788.0 394.0,776.1 394.3,764.9 394.6,755.4 394.9,746.5 395.2,738.6 395.5,730.8 395.8,724.3 396.1,720.9 396.4,718.6 396.7,716.3 397.0,714.2 397.3,714.0 397.6,714.6 397.9,716.9 398.2,720.6 398.5,724.0 398.8,728.5 399.1,732.6 399.4,738.5 399.7,744.6 400.0,750.7 400.6,762.6 401.1,774.5 401.7,788.1 402.2,800.7 402.8,815.2 403.3,828.4 403.9,840.8 404.4,853.7 405.0,869.5 405.5,881.9 406.1,896.4 406.6,908.4 407.2,922.7 407.7,935.2 408.3,946.9 408.8,954.0 409.4,963.3 409.9,970.5 410.5,982.7 411.0,990.3 411.6,998.3 412.1,1003.0 412.7,1009.1 413.2,1017.8 413.8,1020.9 414.3,1026.9 414.9,1031.7 415.4,1035.7 416.0,1041.4 416.5,1044.2 417.1,1048.8 417.6,1055.2 418.2,1057.1 418.7,1062.2 419.3,1065.2 419.8,1069.2 420.4,1071.0 420.9,1071.5 421.5,1075.9 422.0,1079.2 422.6,1084.0 423.1,1086.1 423.7,1088.3 424.2,1092.6 424.8,1095.1 425.3,1099.8 425.9,1103.1 426.4,1107.9 427.0,1110.6 427.5,1114.6 428.1,1116.5 428.6,1120.3 429.2,1122.0 429.7,1125.6 430.3,1127.5 430.8,1129.2 431.4,1130.9 431.9,1132.9 432.5,1135.6 433.0,1133.9 433.6,1139.7 434.1,1136.8 434.7,1140.8 435.2,1141.8 435.8,1144.3 436.3,1144.7 436.9,1145.4 437.4,1146.5 438.0,1148.5 438.5,1151.0 439.1,1149.4 439.6,1147.1 440.2,1149.8 440.7,1151.4 441.3,1155.5 441.8,1151.1 442.4,1152.1 442.9,1153.9 443.5,1154.4 444.0,1153.3 444.6,1157.4 445.1,1156.0 445.7,1158.6 446.2,1161.9 446.8,1159.8 447.3,1161.8 447.9,1164.6 448.4,1162.0 449.0,1159.5 449.5,1157.8 450.1,1156.8 450.6,1151.0 451.2,1149.5 451.7,1146.5 452.3,1145.5 452.8,1147.2 453.4,1144.3 453.9,1142.8 454.5,1143.2 455.0,1141.5 455.6,1140.9 456.1,1144.0 456.7,1144.0 457.1,1121.3 457.5,1143.7 457.8,1144.8 458.3,1146.1 458.9,1145.1 459.4,1145.1 460.0,1142.8 460.5,1143.8 461.1,1141.1 461.6,1144.1 462.2,1141.8 462.7,1142.8 463.3,1139.5 463.8,1140.8 464.4,1137.2 464.9,1138.0 465.5,1138.4 466.0,1137.5 466.6,1136.3 467.1,1133.7 467.7,1136.7 468.2,1135.5 468.8,1135.9 469.3,1136.2 469.9,1135.3 470.4,1137.5 471.0,1141.6 471.5,1138.9 472.1,1141.4 472.6,1141.1 473.2,1144.6 473.7,1143.4 474.3,1142.8 474.8,1144.3 475.4,1144.7 475.8,1146.1 476.2,1136.5 476.6,1151.0 477.0,1155.4 477.6,1158.0 478.1,1161.2 478.7,1159.5 479.2,1158.0 479.8,1156.4 480.3,1150.6 480.9,1150.1 481.4,1152.4 482.0,1153.8 482.5,1149.8 483.1,1148.7 483.6,1150.2 484.2,1149.9 484.7,1151.0 485.3,1148.7 485.8,1149.3 486.4,1149.0 486.9,1147.3 487.5,1147.0 488.0,1149.2 488.6,1149.2 489.1,1147.6 489.7,1150.5 490.2,1150.0 490.8,1149.9 491.3,1150.6 491.9,1150.9 492.4,1152.0 493.0,1152.9 493.5,1152.8 494.1,1151.5 494.6,1155.3 495.2,1156.3 495.5,1157.2 495.9,1094.9 496.3,1161.4 496.8,1160.3 497.4,1164.6 497.9,1163.7 498.5,1163.3 499.0,1163.6 499.6,1167.0 500.1,1165.6 500.7,1163.0 501.2,1164.1 501.8,1164.4 502.3,1161.0 502.9,1161.3 503.4,1162.5 504.0,1161.8 504.5,1160.7 505.1,1162.9 505.6,1161.4 506.2,1161.5 506.7,1163.0 507.3,1159.1 507.8,1158.2 508.4,1154.9 508.9,1154.1 509.5,1154.1 510.0,1154.8 510.6,1154.3 511.1,1153.9 511.7,1151.6 512.2,1152.0 512.8,1152.9 513.3,1153.9 513.9,1154.8 514.4,1150.5 515.0,1153.3 515.5,1153.1 516.1,1153.7 516.6,1154.3 517.2,1153.1 517.7,1152.5 518.3,1155.0 518.8,1154.3 519.4,1152.5 519.9,1152.3 520.5,1151.2 521.0,1149.9 521.6,1152.0 522.1,1150.2 522.7,1149.6 523.2,1150.0 523.8,1152.3 524.3,1150.9 524.9,1150.6 525.4,1150.3 526.0,1151.0 526.5,1150.7 527.1,1148.4 527.6,1149.3 528.2,1148.7 528.7,1149.2 529.3,1148.3 529.8,1145.6 530.4,1147.7 530.9,1145.9 531.5,1142.9 532.0,1144.5 532.6,1142.6 533.1,1141.9 533.7,1140.7 534.2,1140.1 534.8,1139.1 535.3,1137.8 535.9,1139.0 536.4,1141.0 537.0,1142.6 537.5,1144.6 538.1,1144.9 538.6,1142.2 539.2,1140.5 539.7,1135.1 540.3,1132.4 540.8,1131.7 541.4,1129.7 541.9,1129.9 542.5,1128.0 543.0,1129.0 543.6,1126.6 544.1,1125.2 544.7,1123.9 545.2,1121.6 545.8,1121.0 546.3,1119.6 546.9,1118.4 547.4,1115.8 548.0,1115.5 548.5,1114.6 549.1,1112.0 549.6,1110.5 550.2,1109.1 550.7,1106.7 551.3,1105.1 551.8,1104.0 552.4,1101.8 552.9,1099.3 553.5,1097.3 554.0,1097.8 554.6,1095.2 555.1,1092.4 555.7,1091.6 556.2,1090.1 556.8,1087.9 557.3,1084.8 557.9,1084.7 558.4,1081.9 559.0,1079.1 559.5,1077.1 560.1,1074.0 560.6,1071.1 561.2,1068.7 561.7,1063.8 562.3,1062.1 562.8,1058.4 563.4,1055.3 563.9,1052.5 564.5,1050.2 565.0,1047.4 565.6,1043.9 566.1,1039.4 566.7,1034.6 567.2,1024.2 567.8,1018.9 568.3,1017.2 568.9,1015.2 569.4,1014.2 570.0,1010.8 570.5,1011.3 571.1,1010.2 571.6,1008.9 572.2,1008.8 572.7,1006.0 572.9,1005.6 573.3,698.4 573.7,1001.7 573.8,1001.0 574.4,997.3 574.9,992.5 575.5,989.1 576.0,985.5 576.6,980.1 577.1,973.8 577.7,961.5 578.2,948.3 578.8,934.2 579.0,930.7 579.4,874.9 579.8,919.9 579.9,919.3 580.4,909.9 581.0,901.1 581.5,892.5 582.1,886.2 582.6,878.6 583.2,872.2 583.7,865.2 584.3,860.0 584.8,854.7 585.4,849.6 585.9,844.9 586.5,841.9 587.0,839.2 587.6,836.8 588.1,833.7 588.7,834.1 589.2,831.3 589.8,830.0 590.3,828.1 590.9,826.5 591.4,825.6 592.0,821.1 592.5,818.4 593.1,814.4 593.6,809.6 594.2,804.5 594.7,795.8 595.3,785.2 595.8,778.9 596.4,778.7 596.9,779.1 597.5,782.4 598.0,786.2 598.6,787.4 599.1,787.2 599.7,786.7 600.2,789.7 600.8,801.5 601.3,812.3 601.9,818.2 602.4,828.2 603.0,837.6 603.5,847.9 604.1,858.9 604.6,866.3 605.2,875.4 605.7,880.7 606.3,888.5 606.8,894.7 607.4,896.7 607.9,901.5 608.5,902.5 609.0,900.5 609.6,900.4 610.1,896.9 610.7,891.5 611.2,886.3 611.8,882.2 612.3,879.2 612.9,879.9 613.4,880.9 614.0,882.0 614.5,885.1 615.1,886.7 615.6,884.5 616.2,884.8 616.7,885.4 617.3,885.9 617.8,885.5 618.4,884.4 618.9,885.4 619.5,888.1 620.0,892.6 620.6,893.4 621.1,896.0 621.7,899.3 622.2,900.9 622.8,902.8 623.3,907.0 623.9,908.8 624.4,910.3 625.0,911.9 625.5,913.8 626.1,913.8 626.6,915.1 627.2,916.5 627.7,917.4 628.3,916.5 628.8,918.5 629.4,920.0 629.9,922.7 630.5,927.0 631.0,931.3 631.6,933.5 632.1,936.0 632.7,940.1 633.2,943.8 633.8,951.6 634.3,958.1 634.9,964.4 635.4,970.6 636.0,975.3 636.5,982.5 637.1,992.1 637.6,1003.0 638.2,1012.2 638.7,1017.5 639.3,1021.8 639.8,1024.8 640.4,1028.4 640.9,1031.0 641.5,1035.0 642.0,1037.2 642.6,1040.8 643.1,1044.2 643.7,1047.6 644.2,1049.7 644.8,1052.9 645.3,1055.4 645.9,1057.8 646.4,1062.1 647.0,1064.3 647.5,1065.6 648.1,1068.4 648.6,1071.9 649.2,1073.5 649.7,1075.6 650.3,1079.3 650.8,1080.1 651.4,1081.8 651.9,1083.7 652.2,1083.9 652.6,1062.9 653.0,1085.8 653.6,1087.6 654.1,1090.0 654.7,1091.4 655.2,1095.0 655.8,1096.9 656.3,1100.0 656.9,1101.0 657.4,1102.4 658.0,1104.2 658.5,1105.6 659.1,1108.0 659.6,1109.5 660.2,1111.6 660.7,1112.5 661.3,1113.3 661.8,1115.7 662.4,1116.0 662.9,1117.5 663.5,1119.4 664.0,1120.4 664.6,1120.2 665.1,1121.4 665.7,1122.8 666.2,1122.7 666.8,1122.5 667.3,1122.7 667.9,1120.8 668.4,1122.0 669.0,1121.3 669.5,1121.8 670.1,1122.0 670.6,1122.6 670.8,1122.9 671.2,1116.9 671.6,1123.2 671.7,1123.2 672.3,1123.1 672.8,1122.9 673.4,1124.3 673.9,1124.1 674.5,1123.2 675.0,1124.7 675.6,1125.3 676.1,1124.6 676.7,1125.3 677.2,1126.0 677.8,1124.8 678.3,1124.7 678.9,1124.5 679.4,1123.7 680.0,1123.7 680.5,1123.1 681.1,1123.2 681.6,1122.4 682.2,1122.9 682.7,1121.6 683.3,1121.5 683.8,1119.4 684.4,1119.4 684.9,1119.0 685.5,1118.4 686.0,1116.8 686.6,1116.4 687.1,1115.8 687.7,1114.6 688.2,1113.5 688.8,1112.8 689.3,1110.1 689.9,1107.8 690.4,1106.6 691.0,1104.9 691.5,1101.0 692.1,1100.2 692.6,1096.1 693.2,1093.8 693.7,1091.6 694.3,1091.1 694.8,1091.4 695.4,1090.8 695.9,1089.7 696.5,1089.2 697.0,1090.2 697.6,1092.5 698.1,1092.8 698.7,1094.1 699.2,1095.6 699.8,1097.2 700.3,1096.8 700.9,1098.5 701.4,1099.3 702.0,1099.9 702.5,1100.6 703.1,1102.1 703.6,1102.7 704.2,1102.1 704.7,1104.4 705.3,1103.7 705.8,1103.5 706.4,1102.9 706.9,1102.6 707.5,1100.7 708.0,1101.9 708.6,1101.9 709.1,1100.4 709.7,1097.4 710.2,1093.7 710.8,1092.4 711.3,1091.2 711.9,1091.3 712.4,1087.9 713.0,1088.4 713.5,1088.1 714.1,1087.2 714.6,1085.6 715.2,1082.1 715.7,1083.9 716.3,1082.2 716.8,1081.2 717.4,1078.0 717.9,1075.9 718.5,1074.4 719.0,1068.9 719.6,1065.2 720.1,1061.0 720.7,1059.5 721.2,1053.2 721.8,1051.5 722.3,1050.6 722.9,1048.8 723.4,1048.6 724.0,1047.1 724.5,1047.1 725.1,1044.4 725.6,1043.1 726.2,1042.1 726.7,1038.5 727.3,1040.2 727.8,1036.5 728.4,1037.3 728.9,1036.5 729.5,1035.0 730.0,1033.2 730.6,1031.5 731.1,1029.1 731.7,1031.1 732.2,1029.5 732.8,1030.8 733.3,1028.2 733.9,1029.0 734.4,1028.3 735.0,1029.7 735.5,1029.7 736.1,1030.6 736.6,1029.5 737.2,1031.0 737.7,1031.8 738.3,1033.4 738.8,1032.6 739.4,1031.3 739.9,1034.4 740.5,1033.5 741.0,1034.8 741.6,1034.7 742.1,1036.5 742.7,1043.8 743.2,1048.1 743.8,1054.4 744.3,1057.3 744.9,1062.2 745.4,1065.8 746.0,1071.2 746.5,1073.8 747.1,1079.8 747.6,1082.6 748.2,1085.8 748.7,1087.6 749.3,1090.5 749.8,1093.4 750.4,1093.9 750.9,1097.8 751.5,1098.7 752.0,1101.7 752.6,1104.4 753.1,1105.7 753.7,1105.3 754.2,1108.8 754.8,1109.2 755.3,1110.4 755.9,1111.8 756.3,1097.6 756.7,1113.7 757.0,1114.8 757.5,1116.3 758.1,1120.0 758.6,1122.4 759.2,1123.7 759.7,1127.5 760.3,1130.1 760.8,1132.7 761.4,1135.2 761.9,1138.0 762.5,1139.9 763.0,1141.3 763.6,1143.7 764.1,1145.3 764.7,1146.1 765.2,1147.9 765.8,1148.6 766.3,1149.1 766.9,1150.1 767.4,1151.3 768.0,1152.5 768.5,1153.1 769.1,1154.4 769.6,1155.2 770.2,1154.7 770.7,1155.4 771.3,1156.8 771.8,1157.9 772.4,1159.1 772.9,1160.0 773.5,1160.9 774.0,1161.0 774.6,1162.8 775.1,1163.2 775.7,1164.8 776.2,1165.9 776.8,1165.8 777.3,1166.9 777.9,1169.5 778.4,1168.2 779.0,1169.1 779.5,1169.5 780.1,1169.9 780.6,1172.2 781.2,1171.7 781.7,1172.4 782.3,1172.8 782.8,1171.9 783.4,1174.8 783.9,1174.4 784.5,1175.2 785.0,1176.7 785.6,1176.1 786.1,1176.7 786.7,1177.2 787.2,1178.5 787.8,1177.2 788.3,1178.3 788.9,1177.7 789.4,1179.8 790.0,1180.8 790.5,1180.5 791.1,1182.7 791.6,1182.3 792.2,1183.3 792.7,1182.2 793.3,1183.7 793.8,1182.1 794.4,1183.0 794.9,1182.9 795.5,1182.6 796.0,1184.4 796.6,1184.3 797.1,1182.8 797.7,1184.1 798.2,1183.8 798.8,1184.0 799.3,1184.5 799.9,1183.8 800.4,1184.6 801.0,1184.8 801.5,1184.3 802.1,1184.5 802.6,1185.8 803.2,1185.3 803.7,1187.4 804.3,1187.3 804.8,1185.1 805.4,1186.1 805.9,1184.3 806.5,1185.7 807.0,1185.6 807.6,1185.9 808.1,1184.9 808.7,1187.1 809.2,1187.1 809.8,1186.3 810.3,1187.0 810.9,1187.8 811.4,1188.4 812.0,1185.7 812.5,1188.2 813.1,1185.1 813.6,1185.8 814.2,1186.1 814.7,1187.7 815.3,1186.7 815.8,1186.5 816.4,1187.3 816.9,1186.0 817.5,1185.2 818.0,1186.9 818.6,1185.2 819.1,1184.2 819.7,1183.7 820.2,1185.4 820.8,1187.0 821.3,1186.0 821.9,1185.4 822.4,1186.5 823.0,1184.0 823.5,1185.9 824.1,1185.1 824.6,1187.0 825.2,1185.0 825.7,1186.7 826.3,1186.2 826.8,1186.1 827.4,1186.9 827.9,1186.2 828.5,1187.8 829.0,1186.3 829.6,1184.6 830.1,1188.3 830.7,1188.4 831.2,1187.7 831.8,1188.8 832.3,1188.3 832.9,1187.0 833.4,1186.0 834.0,1187.2 834.5,1188.1 835.1,1189.1 835.6,1187.3 836.2,1187.9 836.7,1190.4 837.3,1188.3 837.8,1188.3 838.4,1188.2 838.9,1190.8 839.5,1190.0 840.0,1190.2 840.6,1191.0 841.1,1190.3 841.7,1190.7 842.2,1189.8 842.8,1190.4 843.3,1190.2 843.9,1190.4 844.4,1188.6 844.8,1189.5 845.2,1181.9 845.6,1189.8 846.1,1189.7 846.6,1190.4 847.2,1192.2 847.7,1191.4 848.3,1190.6 848.8,1190.8 849.4,1191.9 849.9,1189.3 850.5,1190.9 851.0,1192.1 851.6,1192.2 852.1,1191.3 852.7,1190.9 853.2,1188.5 853.8,1189.5 854.3,1190.0 854.9,1190.3 855.4,1190.1 856.0,1187.3 856.5,1188.8 857.1,1189.4 857.6,1188.1 858.2,1188.5 858.7,1189.0 859.3,1188.6 859.8,1188.3 860.4,1188.7 860.9,1189.0 861.5,1187.5 862.0,1186.6 862.6,1186.9 863.1,1187.1 863.7,1187.5 864.2,1186.0 864.8,1186.7 865.3,1187.1 865.9,1188.7 866.4,1187.8 867.0,1187.1 867.5,1188.1 868.1,1187.3 868.6,1187.4 869.2,1188.1 869.7,1187.4 870.3,1187.2 870.8,1187.7 871.4,1186.5 871.9,1187.3 872.5,1185.3 873.0,1187.2 873.6,1189.3 874.1,1187.7 874.7,1188.4 875.2,1188.3 875.8,1188.0 876.3,1189.9 876.9,1189.8 877.4,1191.2 878.0,1189.6 878.5,1190.9 879.1,1191.3 879.6,1192.2 880.2,1194.4 880.7,1192.7 881.3,1192.7 881.8,1196.0 882.4,1193.5 882.9,1193.4 883.5,1193.9 883.9,1162.6 884.3,1193.3 884.6,1193.9 885.1,1192.4 885.7,1193.1 886.2,1193.0 886.8,1194.9 887.3,1194.2 887.9,1195.3 888.4,1195.2 889.0,1192.8 889.5,1194.0 890.1,1193.0 890.6,1192.8 891.2,1194.6 891.7,1194.8 892.3,1193.5 892.8,1193.7 893.4,1193.6 893.9,1193.7 894.5,1193.7 895.0,1192.4 895.6,1194.0 896.1,1192.7 896.7,1192.3 897.2,1193.3 897.8,1193.8 898.3,1194.4 898.9,1194.0 899.4,1193.9 900.0,1193.0 900.5,1194.1 901.1,1194.0 901.6,1194.1 902.2,1193.1 902.7,1195.6 903.3,1194.7 903.8,1194.7 904.4,1194.1 904.9,1193.8 905.5,1195.0 906.0,1192.8 906.6,1193.7 907.1,1193.9 907.7,1194.8 908.2,1193.9 908.8,1195.6 909.3,1192.5 909.9,1195.8 910.4,1194.6 911.0,1195.3 911.5,1193.9 912.1,1195.4 912.6,1194.1 913.2,1194.7 913.7,1193.0 914.3,1195.1 914.8,1194.7 915.4,1192.7 915.9,1194.5 916.5,1194.3 917.0,1195.4 917.6,1194.0 918.1,1194.9 918.7,1196.0 919.2,1193.8 919.8,1196.6 920.3,1195.0 920.9,1194.5 921.4,1193.4 922.0,1193.0 922.5,1195.7 923.1,1194.3 923.6,1194.2 924.2,1195.9 924.7,1195.5 925.3,1194.9 925.8,1193.4 926.4,1192.9 926.9,1195.8 927.5,1194.8 928.0,1194.6 928.6,1196.8 929.1,1194.5 929.7,1195.2 930.2,1197.0 930.8,1195.5 931.3,1194.4 931.9,1194.1 932.4,1196.1 933.0,1193.7 933.5,1195.8 934.1,1196.6 934.6,1194.9 935.2,1195.8 935.7,1195.1 936.3,1196.4 936.8,1195.3 937.4,1194.4 937.9,1195.4 938.5,1195.3 939.0,1194.5 939.6,1194.9 940.1,1194.0 940.7,1194.4 941.2,1195.9 941.8,1193.4 942.3,1195.6 942.9,1195.4 943.4,1194.8 944.0,1196.8 944.5,1196.1 945.1,1194.9 945.6,1195.8 946.2,1196.5 946.7,1194.1 947.3,1195.9 947.8,1195.5 948.4,1196.2 948.9,1197.9 949.5,1195.2 950.0,1195.6 950.6,1194.8 951.1,1196.2 951.7,1196.7 952.2,1193.7 952.8,1197.6 953.3,1197.8 953.9,1193.6 954.4,1194.8 955.0,1196.8 955.5,1196.5 956.1,1197.6 956.6,1196.2 957.2,1197.8 957.7,1195.2 958.3,1197.0 958.8,1196.2 959.4,1196.3 959.9,1195.0 960.5,1196.4 961.0,1198.2 961.6,1196.2 962.1,1196.7 962.7,1197.0 963.2,1196.0 963.8,1197.2 964.3,1197.5 964.9,1196.8 965.4,1195.2 966.0,1198.6 966.5,1197.1 967.1,1197.0 967.6,1196.9 968.2,1196.5 968.7,1195.5 969.3,1197.1 969.8,1197.3 970.4,1198.2 970.9,1198.8 971.5,1196.5 972.0,1198.8 972.6,1197.3 973.1,1197.8 973.7,1196.3 974.2,1197.6 974.8,1196.3 975.3,1198.0 975.9,1196.0 976.4,1197.3 977.0,1196.9 977.5,1197.6 978.1,1197.5 978.6,1197.4 979.2,1196.7 979.7,1198.1 980.3,1197.8 980.8,1196.4 981.4,1197.9 981.9,1196.4 982.5,1197.1 983.0,1196.9 983.6,1196.8 984.1,1197.7 984.7,1195.0 985.2,1198.0 985.8,1194.9 986.3,1197.8 986.9,1197.1 987.4,1194.9 988.0,1196.7 988.5,1195.9 989.1,1195.0 989.6,1197.2 990.2,1197.1 990.7,1196.2 991.3,1197.4 991.8,1195.8 992.4,1195.3 992.9,1196.7 993.5,1194.6 994.0,1196.0 994.6,1196.2 995.1,1195.2 995.7,1195.0 996.2,1195.3 996.8,1194.9 997.3,1193.9 997.9,1190.9 998.4,1193.8 999.0,1192.8 999.5,1195.1 1000.1,1193.5 1000.6,1194.1 1001.2,1194.4 1001.7,1194.5 1002.3,1192.4 1002.4,1192.9 1002.8,785.0 1003.1,1194.3 1003.4,1193.8 1003.9,1193.3 1004.5,1191.5 1005.0,1194.1 1005.6,1192.5 1006.1,1192.7 1006.7,1191.0 1007.2,1193.0 1007.8,1192.4 1008.3,1190.6 1008.9,1192.4 1009.4,1189.1 1010.0,1190.8 1010.5,1190.4 1011.1,1190.2 1011.6,1188.6 1012.2,1188.7 1012.7,1189.8 1013.3,1189.8 1013.8,1188.5 1014.4,1188.2 1014.9,1187.8 1015.5,1189.6 1016.0,1188.1 1016.6,1187.7 1017.1,1186.5 1017.7,1186.7 1018.2,1187.5 1018.8,1186.9 1019.3,1188.5 1019.9,1188.8 1020.4,1188.4 1021.0,1189.1 1021.5,1189.6 1022.1,1188.2 1022.6,1190.5 1023.2,1187.6 1023.7,1191.6 1024.3,1188.6 1024.8,1189.8 1025.4,1189.3 1025.9,1189.8 1026.5,1188.7 1027.0,1189.5 1027.6,1187.7 1028.1,1189.2 1028.7,1188.2 1029.2,1188.4 1029.8,1188.6 1030.3,1186.8 1030.9,1187.0 1031.4,1186.6 1032.0,1186.8 1032.5,1186.7 1033.1,1186.9 1033.6,1186.3 1034.2,1185.9 1034.7,1186.1 1035.3,1186.3 1035.8,1186.1 1036.4,1186.7 1036.9,1185.0 1037.5,1185.5 1038.0,1184.6 1038.6,1185.0 1039.1,1185.8 1039.7,1186.3 1040.2,1185.4 1040.8,1186.1 1041.3,1186.0 1041.9,1186.4 1042.4,1186.4 1043.0,1186.2 1043.5,1185.4 1044.1,1185.9 1044.6,1186.9 1045.2,1186.8 1045.7,1187.9 1046.3,1186.9 1046.8,1187.3 1047.4,1186.3 1047.9,1186.1 1048.5,1186.8 1049.0,1187.3 1049.6,1186.6 1050.1,1186.1 1050.7,1186.2 1051.2,1186.1 1051.8,1185.9 1052.3,1185.5 1052.9,1184.8 1053.4,1184.5 1054.0,1184.5 1054.5,1184.4 1055.1,1183.6 1055.6,1184.5 1056.2,1183.8 1056.7,1182.9 1057.3,1182.8 1057.8,1182.9 1058.4,1181.3 1058.9,1180.6 1059.5,1180.1 1060.0,1178.5 1060.6,1178.1 1061.1,1177.3 1061.7,1177.3 1062.2,1175.9 1062.8,1176.2 1063.3,1175.6 1063.9,1175.4 1064.4,1174.9 1065.0,1175.2 1065.5,1173.8 1066.1,1172.6 1066.6,1169.6 1067.2,1164.0 1067.7,1158.8 1068.3,1153.4 1068.8,1147.7 1069.4,1143.5 1069.9,1141.1 1070.5,1139.5 1071.0,1139.6 1071.6,1137.7 1072.1,1137.9 1072.7,1137.5 1073.2,1138.2 1073.8,1138.7 1074.3,1140.0 1074.9,1140.3 1075.4,1141.2 1076.0,1143.0 1076.5,1145.7 1077.1,1147.9 1077.6,1150.1 1078.2,1151.5 1078.7,1151.8 1079.3,1153.5 1079.8,1154.4 1080.4,1156.0 1080.9,1157.1 1081.5,1157.1 1082.0,1158.4 1082.6,1158.6 1083.1,1158.6 1083.7,1158.7 1084.2,1159.6 1084.8,1159.2 1085.3,1159.0 1085.9,1159.4 1086.4,1159.7 1087.0,1159.0 1087.5,1157.0 1088.1,1155.5 1088.6,1153.7 1089.2,1151.6 1089.7,1148.3 1090.3,1143.3 1090.8,1138.3 1091.4,1131.7 1091.9,1124.0 1092.5,1115.4 1093.0,1105.2 1093.6,1092.9 1094.1,1080.0 1094.7,1064.1 1095.2,1045.3 1095.8,1022.7 1096.3,997.4 1096.9,979.7 1097.4,966.1 1098.0,952.4 1098.5,937.6 1099.1,923.7 1099.6,916.4 1100.2,911.8 1100.7,911.3 1101.3,914.5 1101.8,919.5 1102.4,927.2 1102.9,937.2 1103.5,946.3 1104.0,953.3 1104.6,959.8 1105.1,964.4 1105.7,968.2 1106.2,971.5 1106.8,973.9 1107.3,977.7 1107.9,980.9 1108.4,984.9 1109.0,990.0 1109.5,995.0 1110.1,1001.9 1110.6,1007.3 1111.2,1013.5 1111.7,1018.5 1112.3,1024.0 1112.8,1029.3 1113.4,1034.0 1113.9,1039.8 1114.5,1044.1 1114.9,1047.6 1115.3,1031.7 1115.7,1051.8 1116.1,1054.1 1116.7,1059.4 1117.2,1064.5 1117.8,1069.8 1118.3,1074.9 1118.9,1079.3 1119.4,1083.7 1120.0,1087.3 1120.5,1091.8 1121.1,1095.2 1121.6,1099.0 1122.2,1102.0 1122.7,1104.7 1123.3,1108.4 1123.8,1111.0 1124.4,1114.0 1124.9,1115.9 1125.5,1119.0 1126.0,1122.4 1126.6,1124.8 1127.1,1126.4 1127.7,1129.5 1128.2,1131.8 1128.8,1134.2 1129.3,1135.6 1129.9,1137.4 1130.4,1139.9 1131.0,1141.4 1131.5,1143.1 1132.1,1144.7 1132.6,1146.9 1133.2,1147.8 1133.7,1149.8 1134.3,1151.1 1134.8,1152.1 1135.4,1154.0 1135.9,1155.5 1136.5,1156.5 1137.0,1157.6 1137.6,1159.1 1138.1,1159.6 1138.7,1160.9 1139.2,1161.9 1139.8,1161.5 1140.3,1161.9 1140.9,1163.1 1141.4,1162.9 1142.0,1163.4 1142.5,1163.9 1143.1,1163.9 1143.6,1164.5 1144.2,1164.4 1144.7,1164.8 1145.3,1165.2 1145.8,1165.6 1146.4,1165.5 1146.9,1166.0 1147.5,1166.3 1148.0,1166.6 1148.6,1166.8 1149.1,1167.8 1149.7,1167.9 1150.2,1169.3 1150.8,1170.2 1151.3,1171.2 1151.9,1171.6 1152.4,1172.9 1153.0,1173.4 1153.5,1173.4 1154.1,1174.2 1154.6,1174.4 1155.2,1175.4 1155.7,1176.2 1156.3,1176.5 1156.8,1176.3 1157.4,1176.7 1157.9,1177.2 1158.5,1177.5 1159.0,1178.1 1159.6,1178.0 1160.1,1178.6 1160.7,1178.3 1161.2,1178.9 1161.8,1178.3 1162.3,1178.8 1162.9,1179.1 1163.4,1179.5 1164.0,1179.5 1164.5,1179.2 1165.1,1179.2 1165.6,1179.6 1166.2,1179.7 1166.7,1179.7 1167.3,1179.8 1167.8,1179.5 1168.4,1180.1 1168.9,1180.2 1169.5,1179.7 1170.0,1179.7 1170.6,1180.3 1171.1,1180.3 1171.7,1179.7 1172.2,1179.8 1172.8,1179.4 1173.3,1180.1 1173.9,1180.0 1174.4,1180.0 1175.0,1180.6 1175.5,1179.9 1176.1,1179.9 1176.6,1180.0 1177.2,1179.9 1177.7,1180.2 1178.3,1179.8 1178.8,1179.9 1179.4,1180.5 1179.9,1179.7 1180.5,1179.4 1181.0,1179.8 1181.6,1179.6 1182.1,1179.6 1182.7,1179.8 1183.2,1180.0 1183.8,1179.3 1184.3,1179.7 1184.9,1179.1 1185.4,1180.1 1186.0,1179.5 1186.5,1180.1 1187.1,1180.6 1187.6,1180.5 1188.2,1180.4 1188.7,1179.7 1189.3,1181.0 1189.8,1180.4 1190.4,1180.8 1190.9,1180.3 1191.5,1180.4 1192.0,1180.8 1192.6,1179.7 1193.1,1179.7 1193.7,1179.7 1194.2,1179.9 1194.8,1178.6 1195.3,1179.5 1195.9,1178.7 1196.4,1178.8 1197.0,1179.1 1197.5,1178.2 1198.1,1178.2 1198.6,1178.0 1199.2,1177.2 1199.7,1177.0 1200.3,1176.6 1200.8,1176.4 1201.4,1175.9 1201.9,1175.5 1202.5,1175.2 1203.0,1175.4 1203.6,1174.6 1204.1,1174.9 1204.7,1175.1 1205.2,1174.1 1205.8,1173.9 1206.3,1174.5 1206.9,1173.9 1207.4,1173.8 1208.0,1174.1 1208.5,1173.9 1209.1,1173.5 1209.6,1173.6 1210.2,1173.1 1210.7,1173.3 1211.3,1173.4 1211.8,1173.6 1212.4,1173.7 1212.9,1174.1 1213.5,1173.7 1214.0,1174.1 1214.6,1174.1 1215.1,1173.9 1215.7,1174.5 1216.2,1174.7 1216.8,1175.0 1217.3,1175.2 1217.9,1175.2 1218.4,1175.1 1219.0,1175.4 1219.5,1175.7 1220.1,1175.9 1220.6,1176.1 1221.2,1176.1 1221.7,1176.3 1222.3,1176.7 1222.8,1176.4 1223.4,1176.3 1223.9,1176.2 1224.5,1176.7 1225.0,1177.0 1225.6,1176.8 1226.1,1177.5 1226.7,1176.9 1227.2,1177.1 1227.8,1177.3 1228.3,1177.0 1228.9,1177.7 1229.4,1177.2 1230.0,1177.2 1230.5,1177.0 1231.1,1177.9 1231.6,1178.1 1232.2,1177.4 1232.7,1177.3 1233.3,1177.7 1233.8,1177.9 1234.4,1177.8 1234.9,1178.2 1235.5,1177.9 1236.0,1179.1 1236.6,1178.8 1237.1,1179.2 1237.7,1178.9 1238.2,1179.4 1238.8,1179.7 1239.3,1179.0 1239.9,1179.3 1240.4,1179.7 1241.0,1179.5 1241.5,1179.2 1242.1,1179.3 1242.6,1179.7 1243.2,1179.6 1243.7,1179.3 1244.3,1179.6 1244.8,1178.8 1245.4,1179.4 1245.9,1179.6 1246.5,1179.4 1247.0,1178.5 1247.6,1178.3 1248.1,1177.7 1248.7,1177.1 1249.2,1176.4 1249.8,1175.7 1250.3,1175.6 1250.9,1175.2 1251.4,1174.7 1251.5,1174.8 1251.9,1159.2 1252.3,1174.9 1252.5,1174.5 1253.1,1174.6 1253.6,1174.4 1254.2,1173.9 1254.7,1174.4 1255.3,1173.6 1255.8,1174.5 1256.4,1173.4 1256.9,1173.5 1257.5,1173.5 1258.0,1173.4 1258.6,1173.3 1259.1,1173.5 1259.7,1173.5 1260.2,1173.7 1260.8,1172.4 1261.3,1173.0 1261.9,1172.7 1262.4,1172.2 1263.0,1171.7 1263.5,1172.8 1264.1,1172.3 1264.6,1171.3 1264.8,1171.7 1265.2,1124.7 1265.6,1172.0 1265.7,1171.9 1266.3,1171.8 1266.8,1171.9 1267.4,1171.4 1267.9,1171.5 1268.5,1171.8 1269.0,1171.1 1269.6,1171.0 1270.1,1170.8 1270.7,1171.5 1271.2,1170.9 1271.8,1171.1 1272.3,1171.0 1272.9,1171.3 1273.4,1171.1 1274.0,1170.5 1274.5,1170.9 1275.1,1170.1 1275.6,1169.5 1276.2,1168.7 1276.7,1168.0 1277.3,1167.3 1277.8,1166.6 1278.4,1166.0 1278.9,1165.3 1279.5,1164.3 1280.0,1163.5 1280.6,1162.8 1281.1,1161.9 1281.7,1160.8 1282.2,1159.5 1282.8,1158.3 1283.3,1158.1 1283.9,1157.5 1284.4,1156.8 1285.0,1156.4 1285.5,1155.5 1286.1,1155.1 1286.6,1153.7 1287.2,1154.3 1287.7,1153.0 1288.3,1152.1 1288.8,1151.6 1289.4,1150.5 1289.9,1149.5 1290.5,1149.1 1291.0,1147.9 1291.6,1146.5 1292.1,1145.7 1292.7,1144.3 1293.2,1142.9 1293.8,1141.3 1294.3,1140.5 1294.9,1138.7 1295.4,1138.4 1296.0,1137.8 1296.5,1136.2 1297.1,1135.9 1297.6,1134.7 1298.2,1134.9 1298.7,1134.1 1299.3,1134.0 1299.8,1134.3 1300.4,1134.5 1300.9,1134.2 1301.5,1133.9 1302.0,1133.8 1302.6,1134.6 1303.1,1136.2 1303.7,1136.7 1304.2,1136.4 1304.8,1136.9 1305.3,1136.6 1305.9,1137.2 1306.4,1136.9 1307.0,1136.5 1307.5,1136.9 1308.1,1136.7 1308.6,1135.5 1309.2,1133.8 1309.7,1131.8 1310.3,1128.8 1310.8,1127.2 1311.4,1125.9 1311.9,1125.6 1312.5,1125.6 1313.0,1124.7 1313.6,1123.9 1314.1,1123.5 1314.7,1123.9 1315.2,1123.3 1315.8,1123.2 1316.3,1124.0 1316.9,1123.9 1317.4,1124.4 1318.0,1125.3 1318.5,1125.2 1319.1,1126.1 1319.6,1126.6 1320.2,1127.5 1320.7,1128.1 1321.3,1129.4 1321.8,1129.5 1322.4,1129.7 1322.9,1130.1 1323.5,1129.9 1324.0,1130.1 1324.6,1130.3 1325.1,1130.3 1325.7,1130.7 1326.2,1130.9 1326.8,1143.3 1327.3,1146.8 1327.9,1146.4 1328.4,1147.4 1329.0,1146.2 1329.5,1146.9 1330.1,1147.8 1330.6,1149.2 1331.2,1151.7 1331.7,1154.7 1332.3,1156.1 1332.8,1158.7 1333.4,1160.2 1333.9,1162.0 1334.5,1164.6 1335.0,1165.8 1335.6,1167.3 1336.1,1168.6 1336.7,1170.1 1337.2,1171.4 1337.8,1173.4 1338.3,1174.0 1338.9,1174.6 1339.4,1175.6 1340.0,1176.8 1340.5,1177.1 1341.1,1177.9 1341.6,1178.3 1342.2,1178.6 1342.7,1180.7 1343.3,1180.4 1343.8,1181.5 1344.4,1181.5 1344.9,1181.8 1345.5,1181.7 1346.0,1182.3 1346.6,1182.6 1347.1,1182.4 1347.7,1183.2 1348.2,1183.5 1348.8,1183.4 1349.3,1183.4 1349.9,1182.9 1350.4,1184.5 1351.0,1184.0 1351.5,1183.4 1352.1,1183.6 1352.6,1183.9 1353.2,1183.9 1353.7,1184.4 1354.3,1184.3 1354.8,1184.7 1355.4,1184.7 1355.9,1184.9 1356.5,1184.8 1357.0,1185.4 1357.6,1185.6 1358.1,1185.3 1358.7,1185.2 1359.2,1185.9 1359.8,1185.4 1360.3,1185.8 1360.9,1186.3 1361.4,1186.6 1362.0,1186.2 1362.5,1186.4 1363.1,1186.8 1363.6,1186.1 1364.2,1186.3 1364.7,1186.6 1365.3,1187.0 1365.8,1186.2 1366.4,1186.2 1366.9,1187.0 1367.5,1187.1 1368.0,1186.5 1368.6,1186.8 1369.1,1187.1 1369.7,1186.7 1370.2,1186.1 1370.8,1186.9 1371.3,1187.1 1371.9,1186.4 1372.4,1187.3 1373.0,1186.7 1373.5,1186.2 1374.1,1186.9 1374.6,1186.3 1375.2,1187.3 1375.7,1187.0 1376.3,1187.5 1376.8,1186.3 1377.4,1186.9 1377.9,1187.3 1378.5,1187.3 1379.0,1187.1 1379.6,1187.0 1380.1,1187.1 1380.7,1187.2 1381.2,1187.5 1381.8,1186.3 1382.3,1186.6 1382.9,1186.7 1383.4,1187.0 1384.0,1187.1 1384.5,1186.9 1385.1,1187.0 1385.6,1187.3 1386.2,1187.4 1386.7,1186.7 1387.3,1186.9 1387.8,1187.1 1388.4,1187.9 1388.9,1186.8 1389.5,1187.1 1390.0,1187.0 1390.6,1186.9 1391.1,1187.3 1391.7,1186.9 1392.2,1186.7 1392.8,1186.9 1393.3,1186.9 1393.9,1186.5 1394.4,1186.5 1395.0,1187.0 1395.5,1186.4 1396.1,1186.9 1396.6,1186.4 1397.2,1186.1 1397.7,1186.0 1398.3,1185.7 1398.8,1186.5 1399.4,1186.5 1399.9,1186.1 1400.5,1185.8 1401.0,1186.0 1401.6,1186.2 1402.1,1186.6 1402.7,1186.0 1403.2,1185.7 1403.8,1186.4 1404.3,1186.3 1404.9,1186.2 1405.4,1186.0 1406.0,1186.9 1406.5,1187.3 1407.1,1186.6 1407.6,1186.5 1408.2,1187.0 1408.7,1187.1 1409.3,1187.5 1409.8,1187.4 1410.4,1186.8 1410.9,1187.6 1411.5,1187.6 1412.0,1187.3 1412.6,1187.5 1413.1,1186.9 1413.7,1187.2 1414.2,1186.7 1414.8,1187.0 1415.3,1187.2 1415.9,1186.0 1416.4,1186.6 1417.0,1186.7 1417.5,1186.3 1418.1,1186.7 1418.6,1185.9 1419.2,1186.6 1419.7,1185.7 1420.3,1185.1 1420.8,1185.4 1421.4,1185.0 1421.9,1185.6 1422.5,1185.6 1423.0,1185.5 1423.6,1185.0 1424.1,1184.5 1424.7,1184.2 1425.2,1183.9 1425.8,1184.4 1426.3,1183.6 1426.9,1183.8 1427.4,1183.9 1428.0,1183.9 1428.5,1183.2 1429.1,1183.2 1429.6,1183.2 1430.2,1184.0 1430.7,1183.3 1431.3,1183.4 1431.8,1184.0 1432.4,1184.2 1432.9,1184.6 1433.5,1184.1 1434.0,1184.5 1434.6,1183.7 1435.1,1184.7 1435.7,1184.9 1436.2,1185.1 1436.8,1184.7 1437.3,1185.5 1437.9,1185.7 1438.4,1185.3 1439.0,1185.4 1439.5,1185.4 1440.1,1185.6 1440.6,1185.8 1441.2,1185.5 1441.7,1185.6 1442.3,1186.1 1442.8,1186.2 1443.4,1186.9 1443.9,1186.6 1444.5,1186.5 1445.0,1186.3 1445.6,1187.0 1446.1,1186.9 1446.7,1186.8 1447.2,1188.2 1447.8,1187.0 1448.3,1188.4 1448.9,1189.0 1449.4,1188.0 1450.0,1187.9 1450.5,1188.4 1451.1,1187.9 1451.6,1188.4 1452.2,1188.8 1452.7,1188.2 1453.3,1189.3 1453.8,1188.9 1454.4,1189.1 1454.9,1189.5 1455.5,1188.6 1456.0,1188.8 1456.6,1189.4 1457.1,1189.5 1457.7,1189.3 1458.2,1189.4 1458.8,1189.4 1459.3,1189.2 1459.9,1189.2 1460.4,1189.4 1461.0,1189.8 1461.5,1189.9 1462.1,1189.4 1462.6,1190.5 1463.2,1190.7 1463.7,1190.0 1464.3,1189.7 1464.8,1189.9 1465.4,1190.2 1465.9,1189.9 1466.5,1190.6 1467.0,1189.8 1467.6,1190.3 1468.1,1190.1 1468.7,1190.7 1469.2,1190.0 1469.8,1190.0 1470.3,1189.5 1470.9,1189.7 1471.4,1189.3 1472.0,1190.9 1472.5,1189.8 1473.1,1189.7 1473.6,1189.8 1474.2,1189.9 1474.7,1189.9 1475.3,1189.1 1475.8,1190.2 1476.4,1189.7 1476.9,1189.7 1477.5,1190.3 1478.0,1189.7 1478.6,1189.3 1479.1,1189.1 1479.7,1189.5 1480.2,1188.9 1480.8,1188.6 1481.3,1187.8 1481.9,1188.0 1482.4,1187.4 1483.0,1187.1 1483.5,1187.7 1484.1,1187.1 1484.6,1186.8 1485.2,1187.1 1485.7,1187.3 1486.3,1186.0 1486.8,1186.7 1487.4,1186.4 1487.9,1186.2 1488.5,1186.7 1489.0,1186.5 1489.6,1186.2 1490.1,1187.4 1490.7,1187.5 1491.2,1188.0 1491.8,1187.5 1492.3,1187.7 1492.9,1187.4 1493.4,1186.6 1494.0,1186.3 1494.5,1186.4 1495.1,1185.9 1495.6,1186.0 1496.2,1187.3 1496.7,1187.0 1497.3,1186.9 1497.8,1187.7 1498.4,1188.2 1498.9,1187.9 1499.5,1188.0 1500.0,1188.2 1500.6,1188.4 1501.1,1188.4 1501.7,1188.5 1502.2,1188.9 1502.8,1189.7 1503.3,1189.0 1503.9,1188.8 1504.4,1188.4 1505.0,1188.9 1505.5,1188.7 1506.1,1189.4 1506.6,1189.3 1507.2,1190.4 1507.7,1191.0 1508.3,1190.8 1508.8,1191.5 1509.4,1190.1 1509.9,1190.5 1510.5,1189.7 1511.0,1189.3 1511.6,1188.3 1512.1,1188.1 1512.7,1187.6 1513.2,1187.0 1513.8,1187.3 1514.3,1186.9 1514.9,1186.8 1515.4,1185.9 1516.0,1185.4 1516.5,1184.5 1517.1,1184.3 1517.6,1183.2 1518.2,1181.9 1518.7,1180.8 1519.3,1180.8 1519.8,1181.0 1520.4,1181.0 1520.9,1180.8 1521.5,1181.3 1522.0,1181.1 1522.6,1179.5 1523.1,1179.0 1523.7,1178.3 1524.2,1177.7 1524.8,1178.5 1525.3,1179.7 1525.9,1181.0 1526.4,1181.0 1527.0,1181.7 1527.5,1182.2 1528.1,1182.6 1528.6,1182.6 1529.2,1183.9 1529.7,1183.9 1530.3,1184.5 1530.8,1185.0 1531.4,1185.0 1531.9,1185.2 1532.5,1185.8 1533.0,1186.3 1533.6,1186.6 1534.1,1187.3 1534.7,1187.3 1535.2,1188.0 1535.8,1188.3 1536.3,1188.9 1536.9,1189.2 1537.4,1189.9 1538.0,1189.8 1538.5,1189.7 1539.1,1189.5 1539.6,1189.7 1540.2,1189.9 1540.7,1189.8 1541.3,1190.1 1541.8,1190.0 1542.4,1190.8 1542.9,1190.6 1543.5,1191.1 1544.0,1191.3 1544.6,1192.8 1545.1,1192.1 1545.7,1192.6 1545.9,1192.3 1546.3,1143.3 1546.7,1192.7 1546.8,1192.8 1547.3,1192.6 1547.9,1193.3 1548.4,1192.9 1549.0,1192.7 1549.5,1193.6 1550.1,1193.5 1550.6,1193.0 1551.2,1193.6 1551.7,1193.3 1552.3,1194.0 1552.8,1193.8 1553.4,1194.0 1553.9,1193.4 1554.5,1194.5 1555.0,1193.6 1555.6,1194.1 1556.1,1193.8 1556.7,1194.0 1557.2,1193.4 1557.8,1194.0 1558.3,1194.2 1558.9,1193.4 1559.4,1194.5 1560.0,1193.6 1560.5,1193.8 1561.1,1193.7 1561.6,1194.6 1562.2,1193.7 1562.7,1193.8 1563.3,1194.1 1563.8,1194.0 1564.4,1194.5 1564.9,1193.7 1565.5,1193.7 1566.0,1193.6 1566.6,1193.7 1567.1,1194.6 1567.7,1194.7 1568.2,1194.4 1568.8,1194.8 1569.3,1193.9 1569.9,1195.7 1570.4,1195.8 1571.0,1194.7 1571.5,1195.7 1572.1,1196.1 1572.6,1197.1 1573.2,1196.6 1573.7,1197.2 1574.3,1197.5 1574.8,1197.1 1575.4,1196.3 1575.9,1196.1 1576.5,1196.8 1577.0,1197.5 1577.6,1197.4 1578.1,1196.5 1578.7,1197.7 1579.2,1196.9 1579.8,1197.2 1580.3,1198.1 1580.9,1197.7 1581.4,1197.4 1582.0,1197.3 1582.5,1197.9 1583.1,1198.1 1583.6,1197.9 1584.2,1197.6 1584.7,1198.5 1585.3,1198.8 1585.8,1197.6 1586.4,1198.8 1586.9,1198.1 1587.5,1198.4 1588.0,1199.2 1588.6,1197.9 1589.1,1198.7 1589.7,1199.9 1590.2,1199.8 1590.8,1198.6 1591.3,1198.3 1591.9,1199.9 1592.4,1199.3 1593.0,1199.4 1593.5,1198.2 1594.1,1199.4 1594.6,1198.3 1595.2,1199.3 1595.7,1200.8 1596.3,1200.5 1596.8,1200.8 1597.4,1199.7 1597.9,1200.1 1598.5,1199.6 1599.0,1201.4 1599.6,1199.6 1600.1,1199.0 1600.7,1199.7 1601.2,1200.9 1601.8,1199.7 1602.3,1200.3 1602.9,1199.0 1603.4,1199.5 1604.0,1199.0 1604.5,1199.0 1605.1,1199.6 1605.6,1200.2 1606.2,1201.2 1606.7,1200.1 1607.3,1198.8 1607.8,1198.7 1608.4,1198.4 1608.9,1199.6 1609.5,1199.0 1610.0,1199.6 1610.6,1198.9 1611.1,1201.2 1611.7,1199.7 1612.2,1200.7 1612.8,1199.9 1613.3,1202.2 1613.9,1199.1 1614.4,1200.9 1615.0,1201.7 1615.5,1200.6 1616.1,1201.5 1616.6,1200.8 1617.2,1201.9 1617.7,1201.0 1618.3,1202.6 1618.8,1199.8 1619.4,1202.0 1619.9,1200.9 1620.5,1201.1 1621.0,1202.1 1621.6,1201.1 1622.1,1201.2 1622.7,1202.5 1623.2,1201.1 1623.8,1202.0 1624.3,1203.3 1624.9,1201.7 1625.4,1203.8 1626.0,1201.7 1626.5,1203.1 1627.1,1203.1 1627.6,1201.8 1628.2,1204.0 1628.7,1202.0 1629.3,1204.9 1629.8,1205.2 1630.4,1203.2 1630.9,1204.0 1631.5,1203.9 1632.0,1202.7 1632.6,1203.4 1633.1,1204.3 1633.7,1204.4 1634.2,1205.8 1634.8,1204.1 1635.3,1204.1 1635.9,1205.4"/>
<polyline fill="none" stroke="#4682b4" stroke-width="2.6" stroke-linejoin="round"  points="211.6,1190.8 211.9,1190.7 212.2,1190.4 212.5,1190.3 212.8,1190.1 213.1,1189.1 213.4,1188.1 213.7,1190.3 214.0,1191.2 214.3,1189.9 214.6,1190.8 214.9,1193.1 215.2,1193.5 215.5,1192.5 215.8,1191.9 216.1,1193.0 216.4,1194.3 216.7,1193.3 217.0,1191.9 217.3,1191.9 217.6,1192.6 217.9,1192.5 218.2,1191.9 218.5,1191.7 218.8,1191.1 219.1,1191.4 219.4,1192.7 219.7,1192.1 220.0,1191.3 220.3,1193.0 220.6,1193.1 220.9,1192.8 221.2,1192.7 221.5,1191.1 221.8,1192.2 222.1,1194.1 222.4,1194.1 222.7,1193.7 223.0,1194.6 223.3,1194.5 223.6,1193.1 223.9,1193.6 224.2,1194.9 224.5,1195.1 224.8,1195.2 225.1,1196.1 225.4,1194.9 225.7,1193.9 226.0,1194.4 226.3,1194.9 226.6,1194.1 226.9,1194.5 227.2,1194.7 227.5,1194.4 227.8,1195.2 228.1,1194.7 228.4,1195.4 228.7,1195.0 229.0,1195.1 229.3,1195.8 229.6,1194.5 229.9,1195.5 230.2,1195.7 230.5,1195.5 230.8,1196.1 231.1,1195.5 231.4,1196.7 231.7,1197.2 232.0,1196.2 232.3,1196.7 232.6,1196.6 232.9,1197.1 233.2,1197.0 233.5,1196.4 233.8,1196.5 234.1,1196.7 234.4,1196.5 234.7,1196.0 235.0,1197.1 235.3,1196.4 235.6,1195.8 235.9,1197.0 236.2,1196.8 236.5,1196.4 236.8,1197.2 237.1,1198.0 237.4,1196.6 237.7,1195.5 238.0,1194.9 238.3,1195.5 238.6,1197.6 238.9,1197.1 239.2,1195.9 239.5,1196.8 239.8,1197.3 240.1,1198.4 240.4,1199.7 240.7,1197.2 241.0,1196.7 241.3,1198.4 241.6,1198.4 241.9,1198.0 242.2,1196.6 242.5,1196.8 242.8,1197.3 243.1,1198.4 243.4,1199.1 243.7,1198.7 244.0,1197.6 244.3,1196.7 244.5,1197.0 244.9,1173.1 245.3,1196.1 245.5,1195.7 245.8,1196.0 246.1,1196.3 246.4,1196.1 246.7,1196.8 247.0,1196.4 247.3,1195.5 247.6,1195.9 247.9,1196.6 248.2,1195.5 248.5,1195.3 248.8,1193.7 249.1,1192.8 249.4,1194.4 249.7,1194.0 250.0,1192.3 250.3,1191.9 250.6,1193.1 250.9,1192.9 251.2,1191.0 251.5,1190.4 251.8,1191.9 252.1,1192.1 252.4,1191.5 252.7,1190.2 253.0,1189.3 253.3,1188.9 253.6,1187.9 253.9,1186.9 254.2,1186.6 254.5,1187.6 254.8,1187.5 255.1,1185.5 255.4,1185.4 255.7,1185.5 256.0,1184.9 256.3,1183.9 256.6,1181.8 256.9,1178.5 257.2,1174.6 257.5,1171.0 257.8,1168.5 258.1,1167.6 258.4,1165.2 258.7,1163.3 259.0,1162.5 259.3,1161.9 259.6,1161.6 259.9,1160.3 260.2,1161.3 260.5,1163.6 260.8,1163.8 261.1,1165.4 261.4,1167.1 261.7,1167.6 262.0,1168.1 262.3,1168.1 262.6,1170.3 262.9,1173.8 263.2,1175.2 263.5,1176.1 263.8,1178.1 264.1,1177.9 264.4,1178.2 264.7,1181.1 265.0,1181.5 265.3,1182.2 265.6,1183.0 265.9,1182.3 266.2,1182.1 266.5,1183.5 266.8,1185.8 267.1,1186.4 267.4,1186.7 267.7,1187.4 268.0,1187.7 268.3,1186.8 268.6,1187.5 268.9,1189.2 269.2,1191.0 269.5,1190.8 269.8,1189.7 270.1,1189.3 270.4,1188.5 270.7,1189.2 271.0,1191.3 271.3,1192.3 271.6,1191.8 271.9,1191.6 272.2,1192.0 272.5,1193.0 272.8,1193.4 273.1,1193.1 273.4,1193.1 273.7,1193.6 274.0,1194.1 274.1,1194.1 274.5,1141.3 274.9,1193.2 275.2,1193.6 275.5,1194.5 275.8,1194.6 276.1,1194.5 276.4,1194.0 276.7,1194.9 277.0,1195.2 277.3,1194.6 277.6,1194.8 277.9,1194.1 278.2,1194.7 278.5,1194.5 278.8,1194.1 279.1,1194.7 279.4,1194.7 279.7,1194.3 280.0,1194.8 280.3,1196.0 280.6,1195.7 280.9,1194.7 281.2,1193.6 281.5,1194.9 281.8,1194.5 282.1,1192.7 282.4,1193.8 282.7,1194.7 283.0,1193.8 283.3,1193.7 283.6,1193.6 283.9,1193.6 284.2,1194.5 284.5,1194.1 284.8,1194.4 285.1,1194.6 285.4,1192.8 285.7,1193.0 286.0,1194.3 286.3,1194.3 286.6,1194.0 286.9,1193.9 287.2,1193.8 287.5,1193.6 287.8,1194.2 288.1,1193.6 288.4,1192.8 288.7,1193.1 289.0,1193.8 289.3,1193.9 289.6,1193.6 289.9,1193.7 290.2,1193.8 290.5,1193.0 290.8,1193.5 291.1,1194.6 291.4,1194.5 291.7,1193.1 292.0,1193.2 292.3,1193.5 292.6,1192.9 292.9,1193.3 293.2,1194.2 293.5,1194.7 293.8,1194.0 294.1,1193.7 294.4,1193.5 294.7,1192.7 295.0,1193.4 295.3,1194.3 295.6,1194.0 295.9,1194.4 296.2,1195.3 296.5,1194.3 296.8,1193.4 297.1,1193.6 297.4,1192.3 297.7,1192.2 298.0,1193.1 298.2,1192.6 298.6,1179.9 299.0,1190.6 299.2,1190.7 299.5,1190.2 299.8,1189.5 300.1,1189.5 300.4,1189.8 300.7,1190.5 301.0,1190.0 301.3,1189.3 301.6,1188.7 301.9,1188.2 302.2,1189.0 302.5,1189.7 302.8,1189.5 303.1,1188.8 303.4,1188.3 303.7,1187.6 304.0,1187.9 304.3,1188.1 304.6,1187.3 304.9,1188.0 305.2,1189.3 305.5,1189.2 305.8,1189.0 306.1,1190.4 306.4,1190.5 306.7,1189.9 307.0,1189.0 307.3,1188.6 307.6,1188.4 307.9,1188.9 308.2,1189.7 308.5,1189.7 308.8,1188.8 309.1,1187.5 309.4,1186.2 309.7,1185.2 310.0,1185.1 310.3,1184.1 310.6,1182.6 310.9,1180.9 311.2,1179.1 311.5,1177.5 311.8,1175.3 312.1,1173.8 312.4,1173.2 312.7,1172.1 313.0,1170.4 313.3,1168.5 313.6,1167.5 313.9,1166.4 314.2,1165.0 314.5,1164.5 314.8,1164.1 315.1,1163.0 315.4,1161.9 315.7,1162.1 316.0,1161.8 316.3,1161.9 316.6,1162.2 316.9,1161.3 317.2,1160.2 317.5,1160.3 317.8,1160.7 318.1,1159.5 318.4,1158.9 318.7,1159.3 319.0,1159.8 319.3,1158.9 319.6,1158.5 319.9,1159.2 320.2,1160.1 320.5,1160.1 320.8,1159.1 321.1,1158.9 321.4,1158.8 321.7,1159.0 322.0,1158.7 322.3,1158.5 322.6,1159.2 322.9,1158.8 323.2,1158.1 323.5,1158.8 323.8,1158.1 324.1,1157.1 324.4,1156.9 324.7,1157.1 325.0,1157.6 325.3,1157.3 325.6,1156.7 325.9,1156.3 326.2,1156.3 326.6,1156.9 327.0,1157.5 327.1,1157.7 327.4,1159.1 327.7,1159.3 328.0,1160.2 328.3,1162.0 328.6,1162.2 328.9,1161.6 329.2,1161.8 329.5,1163.5 329.8,1163.6 330.1,1164.2 330.4,1165.0 330.7,1164.9 331.0,1165.3 331.3,1165.3 331.6,1166.0 331.9,1166.0 332.2,1166.2 332.5,1166.8 332.8,1167.6 333.1,1167.8 333.4,1168.8 333.7,1170.5 334.0,1169.7 334.3,1169.1 334.6,1170.1 334.9,1171.4 335.2,1172.6 335.5,1173.4 335.8,1174.3 336.1,1174.7 336.4,1174.6 336.7,1174.9 337.0,1175.9 337.3,1176.6 337.6,1178.3 337.9,1179.0 338.2,1179.2 338.5,1180.3 338.8,1180.1 339.1,1179.9 339.4,1180.7 339.7,1181.9 340.0,1182.5 340.3,1183.2 340.6,1183.5 340.9,1183.0 341.2,1183.5 341.5,1184.6 341.8,1184.8 342.1,1184.7 342.4,1184.1 342.7,1183.6 343.0,1183.8 343.3,1184.2 343.6,1183.6 343.9,1182.5 344.2,1182.1 344.5,1181.3 344.8,1181.6 345.1,1182.0 345.4,1181.0 345.7,1180.9 346.0,1180.9 346.3,1180.2 346.6,1180.5 346.9,1180.2 347.2,1179.3 347.5,1178.9 347.8,1178.0 348.1,1176.6 348.4,1176.6 348.7,1177.0 349.0,1175.6 349.3,1174.6 349.6,1174.8 349.9,1174.9 350.2,1175.7 350.5,1176.0 350.8,1175.4 351.1,1175.7 351.4,1176.1 351.7,1176.0 352.0,1176.0 352.3,1175.5 352.6,1175.5 352.9,1175.8 353.2,1175.9 353.5,1177.0 353.8,1177.5 354.1,1177.4 354.3,1177.9 354.7,1149.2 355.1,1179.5 355.3,1179.3 355.6,1180.2 355.9,1181.0 356.2,1180.6 356.5,1181.3 356.8,1181.8 357.1,1181.8 357.4,1181.9 357.7,1182.0 358.0,1182.9 358.3,1182.5 358.6,1182.7 358.9,1184.1 359.2,1184.3 359.5,1184.0 359.8,1183.3 360.1,1183.3 360.4,1183.8 360.7,1184.1 361.0,1183.5 361.3,1181.9 361.5,1181.4 361.9,1181.0 362.3,1181.0 362.5,1181.1 362.8,1180.4 363.1,1179.5 363.4,1178.1 363.7,1177.2 364.0,1177.4 364.3,1176.2 364.6,1174.5 364.9,1173.4 365.2,1172.6 365.5,1172.2 365.8,1170.7 366.1,1169.8 366.4,1169.1 366.7,1168.7 367.0,1167.9 367.3,1166.1 367.6,1164.4 367.9,1163.5 368.2,1163.2 368.5,1161.7 368.8,1161.3 369.1,1160.7 369.4,1159.5 369.7,1159.5 370.0,1159.0 370.3,1158.2 370.6,1157.7 370.9,1156.7 371.2,1157.2 371.5,1157.5 371.8,1157.2 372.1,1157.5 372.4,1157.3 372.7,1157.3 373.0,1157.3 373.3,1157.3 373.6,1157.9 373.9,1157.6 374.2,1157.8 374.5,1158.4 374.8,1158.7 375.1,1158.8 375.4,1159.4 375.7,1160.1 376.0,1159.4 376.3,1159.4 376.6,1158.9 376.9,1158.1 377.2,1158.9 377.5,1159.9 377.8,1159.6 378.1,1159.2 378.4,1159.2 378.7,1159.4 379.0,1159.0 379.3,1157.5 379.6,1157.0 379.9,1157.0 380.2,1156.7 380.5,1155.7 380.8,1155.0 381.1,1153.7 381.4,1152.4 381.7,1151.5 382.0,1149.9 382.3,1148.5 382.6,1147.1 382.9,1145.6 383.3,1141.1 383.7,1137.2 383.8,1136.3 384.1,1132.2 384.4,1127.7 384.7,1123.2 385.0,1118.7 385.3,1113.8 385.6,1108.9 385.9,1103.8 386.2,1098.3 386.5,1092.5 386.8,1086.6 387.1,1080.7 387.4,1074.8 387.7,1068.3 388.0,1061.0 388.3,1053.6 388.6,1045.9 388.9,1038.2 389.2,1030.2 389.5,1021.7 389.8,1013.6 390.1,1004.8 390.4,995.6 390.7,986.7 391.0,977.0 391.3,966.7 391.6,956.4 391.9,944.8 392.2,932.4 392.5,920.6 392.8,910.3 393.1,902.3 393.4,895.6 393.7,889.9 394.0,884.6 394.3,879.6 394.6,874.6 394.9,869.7 395.2,864.8 395.5,860.2 395.8,856.3 396.1,853.2 396.4,851.2 396.7,849.2 397.0,847.2 397.3,846.5 397.6,846.9 397.9,848.7 398.2,851.7 398.5,855.1 398.8,858.8 399.1,862.0 399.4,865.7 399.7,869.9 400.0,874.7 400.6,884.5 401.1,897.3 401.7,910.1 402.2,919.4 402.8,926.9 403.3,934.6 403.9,943.8 404.4,953.3 405.0,962.9 405.5,972.4 406.1,980.9 406.6,988.6 407.2,996.2 407.7,1003.3 408.3,1009.9 408.8,1016.2 409.4,1022.4 409.9,1028.7 410.5,1035.2 411.0,1041.4 411.6,1047.0 412.1,1052.7 412.7,1057.9 413.2,1063.1 413.8,1068.2 414.3,1073.0 414.9,1077.7 415.4,1081.7 416.0,1085.0 416.5,1088.1 417.1,1090.8 417.6,1093.0 418.2,1094.9 418.7,1097.1 419.3,1099.7 419.8,1102.2 420.4,1104.1 420.9,1105.8 421.5,1107.7 422.0,1109.9 422.6,1112.6 423.1,1114.5 423.7,1116.5 424.2,1119.4 424.8,1121.6 425.3,1123.3 425.9,1125.5 426.4,1127.9 427.0,1130.1 427.5,1132.0 428.1,1134.3 428.6,1135.8 429.2,1137.4 429.7,1139.0 430.3,1140.3 430.8,1142.1 431.4,1143.1 431.9,1143.8 432.5,1144.6 433.0,1145.4 433.6,1146.9 434.1,1147.7 434.7,1148.1 435.2,1148.8 435.8,1149.4 436.3,1149.5 436.9,1149.8 437.4,1150.1 438.0,1150.6 438.5,1151.1 439.1,1151.3 439.6,1152.4 440.2,1154.3 440.7,1155.8 441.3,1156.8 441.8,1157.8 442.4,1158.0 442.9,1159.5 443.5,1161.0 444.0,1161.1 444.6,1161.3 445.1,1161.1 445.7,1161.2 446.2,1161.9 446.8,1161.8 447.3,1161.9 447.9,1161.8 448.4,1161.3 449.0,1160.2 449.5,1159.1 450.1,1158.1 450.6,1157.3 451.2,1156.5 451.7,1155.2 452.3,1154.3 452.8,1153.7 453.4,1153.7 453.9,1153.0 454.5,1152.3 455.0,1152.1 455.6,1152.1 456.1,1152.2 456.7,1151.9 457.1,1135.3 457.5,1151.9 457.8,1151.9 458.3,1152.4 458.9,1152.2 459.4,1151.9 460.0,1151.6 460.5,1150.2 461.1,1149.6 461.6,1150.3 462.2,1150.2 462.7,1149.4 463.3,1148.6 463.8,1148.5 464.4,1149.2 464.9,1148.8 465.5,1148.2 466.0,1147.7 466.6,1147.0 467.1,1146.8 467.7,1145.8 468.2,1145.1 468.8,1145.0 469.3,1145.7 469.9,1146.2 470.4,1147.0 471.0,1148.3 471.5,1149.8 472.1,1150.4 472.6,1150.5 473.2,1151.4 473.7,1152.1 474.3,1152.7 474.8,1152.3 475.4,1153.1 475.8,1154.0 476.2,1147.1 476.6,1154.8 477.0,1155.0 477.6,1156.0 478.1,1157.1 478.7,1156.7 479.2,1156.3 479.8,1156.3 480.3,1155.2 480.9,1154.3 481.4,1154.4 482.0,1154.0 482.5,1154.5 483.1,1154.0 483.6,1153.4 484.2,1153.1 484.7,1153.3 485.3,1153.4 485.8,1153.4 486.4,1153.9 486.9,1152.8 487.5,1151.6 488.0,1152.0 488.6,1152.6 489.1,1152.6 489.7,1152.9 490.2,1153.6 490.8,1153.6 491.3,1154.3 491.9,1155.1 492.4,1155.4 493.0,1156.1 493.5,1156.8 494.1,1157.5 494.6,1157.6 495.2,1157.4 495.5,1158.0 495.9,1134.0 496.3,1159.1 496.8,1159.1 497.4,1159.2 497.9,1158.8 498.5,1158.5 499.0,1159.0 499.6,1159.4 500.1,1159.2 500.7,1159.4 501.2,1159.8 501.8,1159.5 502.3,1159.2 502.9,1159.5 503.4,1159.2 504.0,1158.7 504.5,1158.3 505.1,1158.5 505.6,1158.8 506.2,1158.4 506.7,1157.9 507.3,1156.6 507.8,1152.9 508.4,1152.5 508.9,1153.1 509.5,1152.9 510.0,1152.2 510.6,1151.9 511.1,1152.4 511.7,1152.7 512.2,1152.6 512.8,1152.4 513.3,1151.9 513.9,1152.8 514.4,1152.9 515.0,1152.3 515.5,1152.8 516.1,1152.4 516.6,1152.0 517.2,1151.8 517.7,1151.9 518.3,1151.4 518.8,1150.7 519.4,1150.8 519.9,1150.0 520.5,1148.9 521.0,1148.9 521.6,1149.0 522.1,1149.1 522.7,1149.2 523.2,1148.8 523.8,1148.7 524.3,1148.5 524.9,1148.9 525.4,1149.2 526.0,1148.4 526.5,1148.6 527.1,1148.6 527.6,1148.1 528.2,1147.7 528.7,1147.1 529.3,1147.7 529.8,1147.8 530.4,1147.0 530.9,1146.8 531.5,1147.3 532.0,1147.3 532.6,1146.7 533.1,1146.0 533.7,1146.0 534.2,1146.6 534.8,1146.5 535.3,1146.1 535.9,1146.5 536.4,1146.2 537.0,1144.5 537.5,1143.2 538.1,1141.8 538.6,1140.4 539.2,1139.7 539.7,1138.2 540.3,1137.0 540.8,1135.9 541.4,1134.2 541.9,1133.2 542.5,1132.5 543.0,1131.8 543.6,1130.9 544.1,1129.5 544.7,1128.3 545.2,1127.5 545.8,1126.8 546.3,1125.5 546.9,1124.2 547.4,1123.4 548.0,1122.3 548.5,1121.5 549.1,1120.5 549.6,1118.7 550.2,1117.1 550.7,1116.4 551.3,1115.1 551.8,1113.1 552.4,1111.9 552.9,1110.9 553.5,1108.8 554.0,1107.1 554.6,1106.3 555.1,1105.1 555.7,1103.2 556.2,1101.0 556.8,1098.5 557.3,1096.3 557.9,1093.9 558.4,1090.8 559.0,1088.1 559.5,1085.2 560.1,1082.3 560.6,1080.3 561.2,1078.2 561.7,1075.3 562.3,1072.9 562.8,1070.8 563.4,1068.8 563.9,1066.7 564.5,1064.5 565.0,1062.5 565.6,1060.6 566.1,1058.7 566.7,1056.9 567.2,1055.2 567.8,1053.5 568.3,1052.2 568.9,1050.8 569.4,1048.9 570.0,1046.9 570.5,1044.8 571.1,1042.8 571.6,1041.0 572.2,1039.4 572.7,1038.5 572.9,1038.2 573.3,899.5 573.7,1036.7 573.8,1036.5 574.4,1034.5 574.9,1031.0 575.5,1026.6 576.0,1021.8 576.6,1016.2 577.1,1009.8 577.7,1003.8 578.2,999.3 578.8,995.5 579.0,993.9 579.4,966.8 579.8,987.9 579.9,987.5 580.4,981.9 581.0,975.7 581.5,970.0 582.1,964.5 582.6,958.5 583.2,953.3 583.7,949.2 584.3,945.7 584.8,942.7 585.4,940.0 585.9,937.2 586.5,934.3 587.0,931.5 587.6,928.8 588.1,926.1 588.7,924.1 589.2,922.3 589.8,920.7 590.3,919.5 590.9,918.1 591.4,916.5 592.0,914.1 592.5,910.3 593.1,905.7 593.6,900.9 594.2,897.4 594.7,894.3 595.3,892.2 595.8,891.3 596.4,890.3 596.9,890.2 597.5,891.0 598.0,892.7 598.6,894.7 599.1,898.2 599.7,903.1 600.2,908.3 600.8,914.5 601.3,921.7 601.9,927.9 602.4,934.0 603.0,940.1 603.5,946.1 604.1,952.9 604.6,960.0 605.2,965.9 605.7,970.2 606.3,973.2 606.8,975.3 607.4,976.9 607.9,977.4 608.5,976.0 609.0,973.4 609.6,970.7 610.1,969.1 610.7,967.6 611.2,965.5 611.8,964.5 612.3,963.9 612.9,963.3 613.4,963.5 614.0,963.8 614.5,963.9 615.1,964.4 615.6,964.9 616.2,965.5 616.7,966.0 617.3,966.4 617.8,966.9 618.4,967.7 618.9,968.8 619.5,969.6 620.0,970.6 620.6,972.2 621.1,974.2 621.7,976.1 622.2,977.6 622.8,978.8 623.3,980.1 623.9,981.3 624.4,982.1 625.0,982.9 625.5,983.4 626.1,984.0 626.6,984.5 627.2,984.5 627.7,984.7 628.3,984.8 628.8,985.2 629.4,985.6 629.9,986.1 630.5,987.8 631.0,991.0 631.6,994.6 632.1,998.3 632.7,1002.4 633.2,1006.2 633.8,1010.3 634.3,1014.8 634.9,1019.4 635.4,1024.5 636.0,1029.2 636.5,1033.4 637.1,1037.6 637.6,1041.2 638.2,1044.7 638.7,1048.2 639.3,1051.5 639.8,1054.6 640.4,1057.5 640.9,1060.4 641.5,1063.1 642.0,1065.6 642.6,1068.1 643.1,1070.5 643.7,1073.0 644.2,1075.2 644.8,1077.3 645.3,1079.4 645.9,1081.4 646.4,1083.5 647.0,1085.7 647.5,1087.7 648.1,1089.8 648.6,1091.8 649.2,1093.6 649.7,1095.5 650.3,1097.4 650.8,1099.4 651.4,1101.3 651.9,1102.8 652.2,1103.7 652.6,1095.7 653.0,1106.2 653.6,1107.8 654.1,1109.3 654.7,1110.6 655.2,1112.2 655.8,1113.9 656.3,1115.4 656.9,1116.8 657.4,1118.2 658.0,1119.5 658.5,1120.5 659.1,1121.4 659.6,1122.4 660.2,1123.4 660.7,1124.2 661.3,1124.9 661.8,1125.5 662.4,1126.2 662.9,1127.1 663.5,1128.0 664.0,1128.6 664.6,1129.4 665.1,1129.8 665.7,1129.8 666.2,1130.2 666.8,1130.2 667.3,1130.3 667.9,1130.5 668.4,1130.4 669.0,1130.7 669.5,1131.0 670.1,1131.4 670.6,1131.6 670.8,1131.5 671.2,1128.9 671.6,1131.5 671.7,1131.5 672.3,1131.7 672.8,1131.9 673.4,1132.1 673.9,1132.6 674.5,1133.2 675.0,1133.5 675.6,1133.6 676.1,1133.2 676.7,1133.0 677.2,1132.8 677.8,1132.2 678.3,1131.7 678.9,1131.4 679.4,1131.0 680.0,1130.5 680.5,1130.7 681.1,1130.8 681.6,1130.7 682.2,1130.9 682.7,1131.0 683.3,1130.8 683.8,1130.7 684.4,1130.4 684.9,1130.2 685.5,1129.9 686.0,1129.8 686.6,1129.5 687.1,1128.7 687.7,1127.6 688.2,1126.1 688.8,1124.8 689.3,1123.5 689.9,1122.2 690.4,1121.0 691.0,1119.8 691.5,1118.4 692.1,1117.4 692.6,1116.5 693.2,1115.9 693.7,1114.9 694.3,1113.7 694.8,1113.2 695.4,1113.1 695.9,1112.9 696.5,1113.5 697.0,1114.0 697.6,1114.7 698.1,1115.8 698.7,1116.6 699.2,1117.4 699.8,1118.2 700.3,1119.2 700.9,1119.9 701.4,1120.5 702.0,1121.4 702.5,1121.9 703.1,1121.8 703.6,1121.7 704.2,1121.7 704.7,1121.7 705.3,1121.8 705.8,1122.3 706.4,1122.2 706.9,1121.7 707.5,1121.7 708.0,1121.1 708.6,1120.2 709.1,1119.2 709.7,1118.0 710.2,1116.7 710.8,1115.4 711.3,1114.7 711.9,1114.0 712.4,1113.5 713.0,1113.1 713.5,1112.5 714.1,1112.3 714.6,1111.8 715.2,1111.0 715.7,1110.2 716.3,1109.0 716.8,1107.8 717.4,1106.3 717.9,1104.1 718.5,1102.2 719.0,1100.5 719.6,1098.8 720.1,1096.8 720.7,1094.7 721.2,1092.6 721.8,1091.3 722.3,1090.3 722.9,1089.2 723.4,1088.4 724.0,1087.9 724.5,1087.4 725.1,1086.8 725.6,1086.1 726.2,1085.3 726.7,1084.6 727.3,1083.9 727.8,1083.2 728.4,1082.3 728.9,1081.5 729.5,1080.4 730.0,1079.6 730.6,1079.4 731.1,1078.9 731.7,1078.2 732.2,1077.3 732.8,1076.7 733.3,1076.4 733.9,1076.1 734.4,1076.2 735.0,1076.7 735.5,1077.1 736.1,1077.5 736.6,1078.3 737.2,1079.0 737.7,1080.0 738.3,1080.5 738.8,1081.0 739.4,1081.5 739.9,1081.7 740.5,1082.2 741.0,1082.9 741.6,1083.5 742.1,1084.4 742.7,1086.4 743.2,1089.4 743.8,1092.1 744.3,1095.2 744.9,1098.3 745.4,1100.9 746.0,1104.0 746.5,1106.4 747.1,1108.8 747.6,1112.0 748.2,1114.4 748.7,1116.6 749.3,1118.9 749.8,1120.5 750.4,1122.5 750.9,1124.4 751.5,1125.6 752.0,1127.1 752.6,1128.5 753.1,1130.2 753.7,1131.5 754.2,1132.5 754.8,1133.8 755.3,1135.0 755.9,1136.1 756.3,1128.2 756.7,1137.4 757.0,1138.0 757.5,1139.6 758.1,1141.6 758.6,1144.2 759.2,1146.6 759.7,1148.2 760.3,1149.6 760.8,1151.4 761.4,1152.7 761.9,1154.0 762.5,1155.1 763.0,1156.1 763.6,1157.0 764.1,1157.7 764.7,1158.6 765.2,1159.8 765.8,1161.0 766.3,1162.0 766.9,1162.7 767.4,1163.4 768.0,1164.0 768.5,1164.8 769.1,1165.6 769.6,1166.1 770.2,1166.8 770.7,1167.2 771.3,1167.5 771.8,1168.2 772.4,1168.7 772.9,1169.3 773.5,1169.8 774.0,1170.1 774.6,1170.6 775.1,1171.2 775.7,1171.9 776.2,1172.5 776.8,1173.2 777.3,1174.2 777.9,1175.0 778.4,1175.4 779.0,1175.8 779.5,1176.6 780.1,1177.4 780.6,1177.8 781.2,1178.3 781.7,1178.9 782.3,1179.7 782.8,1180.3 783.4,1180.7 783.9,1181.4 784.5,1182.0 785.0,1182.3 785.6,1182.6 786.1,1183.0 786.7,1183.4 787.2,1183.8 787.8,1183.9 788.3,1183.9 788.9,1184.3 789.4,1184.6 790.0,1184.8 790.5,1184.7 791.1,1184.9 791.6,1185.5 792.2,1185.7 792.7,1185.8 793.3,1186.1 793.8,1186.3 794.4,1186.4 794.9,1186.6 795.5,1187.1 796.0,1187.4 796.6,1187.5 797.1,1187.7 797.7,1188.0 798.2,1188.4 798.8,1188.8 799.3,1189.0 799.9,1189.1 800.4,1189.5 801.0,1189.9 801.5,1189.9 802.1,1189.8 802.6,1189.6 803.2,1189.7 803.7,1190.1 804.3,1190.5 804.8,1190.6 805.4,1190.6 805.9,1190.9 806.5,1191.1 807.0,1191.0 807.6,1190.9 808.1,1191.2 808.7,1191.4 809.2,1191.4 809.8,1191.6 810.3,1191.7 810.9,1191.7 811.4,1191.7 812.0,1191.6 812.5,1191.7 813.1,1191.8 813.6,1191.7 814.2,1191.8 814.7,1191.8 815.3,1191.9 815.8,1191.9 816.4,1192.1 816.9,1192.0 817.5,1191.8 818.0,1191.9 818.6,1191.7 819.1,1191.9 819.7,1192.2 820.2,1192.2 820.8,1192.2 821.3,1192.1 821.9,1192.0 822.4,1192.1 823.0,1191.9 823.5,1192.0 824.1,1192.1 824.6,1192.3 825.2,1192.7 825.7,1192.8 826.3,1192.9 826.8,1192.9 827.4,1192.7 827.9,1193.0 828.5,1193.4 829.0,1193.2 829.6,1193.2 830.1,1193.5 830.7,1193.6 831.2,1193.5 831.8,1193.7 832.3,1193.8 832.9,1194.1 833.4,1194.5 834.0,1194.2 834.5,1194.4 835.1,1194.8 835.6,1195.0 836.2,1194.9 836.7,1194.7 837.3,1194.6 837.8,1195.1 838.4,1195.3 838.9,1195.0 839.5,1195.1 840.0,1195.1 840.6,1195.1 841.1,1195.5 841.7,1195.5 842.2,1195.8 842.8,1195.8 843.3,1195.8 843.9,1196.0 844.4,1196.1 844.8,1196.2 845.2,1192.4 845.6,1195.7 846.1,1195.6 846.6,1195.9 847.2,1196.0 847.7,1196.1 848.3,1196.1 848.8,1196.1 849.4,1196.2 849.9,1196.2 850.5,1196.4 851.0,1196.1 851.6,1196.0 852.1,1196.3 852.7,1196.4 853.2,1196.2 853.8,1196.1 854.3,1196.3 854.9,1196.3 855.4,1196.4 856.0,1196.7 856.5,1196.7 857.1,1196.3 857.6,1196.1 858.2,1196.3 858.7,1196.5 859.3,1196.3 859.8,1196.1 860.4,1195.8 860.9,1196.0 861.5,1196.3 862.0,1196.0 862.6,1196.0 863.1,1196.1 863.7,1196.1 864.2,1195.9 864.8,1195.7 865.3,1195.6 865.9,1195.5 866.4,1195.6 867.0,1195.3 867.5,1195.2 868.1,1195.4 868.6,1195.4 869.2,1195.3 869.7,1195.1 870.3,1195.1 870.8,1195.0 871.4,1194.9 871.9,1195.3 872.5,1195.7 873.0,1195.8 873.6,1195.5 874.1,1195.5 874.7,1195.7 875.2,1196.0 875.8,1196.0 876.3,1196.2 876.9,1196.5 877.4,1196.4 878.0,1196.4 878.5,1196.7 879.1,1196.6 879.6,1196.4 880.2,1196.6 880.7,1196.7 881.3,1196.8 881.8,1196.9 882.4,1196.8 882.9,1196.9 883.5,1196.9 883.9,1185.1 884.3,1197.1 884.6,1197.3 885.1,1197.1 885.7,1196.5 886.2,1196.7 886.8,1196.9 887.3,1196.7 887.9,1196.9 888.4,1196.9 889.0,1196.5 889.5,1196.7 890.1,1196.9 890.6,1196.7 891.2,1196.7 891.7,1196.8 892.3,1196.7 892.8,1196.8 893.4,1196.7 893.9,1196.6 894.5,1196.7 895.0,1196.8 895.6,1196.9 896.1,1196.7 896.7,1196.6 897.2,1196.9 897.8,1197.1 898.3,1197.0 898.9,1197.0 899.4,1196.9 900.0,1196.6 900.5,1196.5 901.1,1196.7 901.6,1196.8 902.2,1196.6 902.7,1196.8 903.3,1197.0 903.8,1196.9 904.4,1196.7 904.9,1196.7 905.5,1196.9 906.0,1197.0 906.6,1197.0 907.1,1197.1 907.7,1197.3 908.2,1197.1 908.8,1196.8 909.3,1196.9 909.9,1197.0 910.4,1197.2 911.0,1197.1 911.5,1197.0 912.1,1197.2 912.6,1197.3 913.2,1197.3 913.7,1197.3 914.3,1197.5 914.8,1197.6 915.4,1197.5 915.9,1197.5 916.5,1197.8 917.0,1197.7 917.6,1197.6 918.1,1197.7 918.7,1197.6 919.2,1197.6 919.8,1197.8 920.3,1197.8 920.9,1197.7 921.4,1197.7 922.0,1197.8 922.5,1198.0 923.1,1198.1 923.6,1197.9 924.2,1197.8 924.7,1198.0 925.3,1198.1 925.8,1198.3 926.4,1198.1 926.9,1198.0 927.5,1197.8 928.0,1198.0 928.6,1198.3 929.1,1198.2 929.7,1198.0 930.2,1198.1 930.8,1198.2 931.3,1198.1 931.9,1198.2 932.4,1198.1 933.0,1198.0 933.5,1197.9 934.1,1198.1 934.6,1198.6 935.2,1198.4 935.7,1198.2 936.3,1198.5 936.8,1198.4 937.4,1198.5 937.9,1198.4 938.5,1198.3 939.0,1198.5 939.6,1198.4 940.1,1198.3 940.7,1198.3 941.2,1198.5 941.8,1198.6 942.3,1198.3 942.9,1198.4 943.4,1198.7 944.0,1198.6 944.5,1198.6 945.1,1198.5 945.6,1198.5 946.2,1198.7 946.7,1198.5 947.3,1198.4 947.8,1198.6 948.4,1198.9 948.9,1198.7 949.5,1198.1 950.0,1198.2 950.6,1198.4 951.1,1198.3 951.7,1198.4 952.2,1198.5 952.8,1198.5 953.3,1198.4 953.9,1198.3 954.4,1198.3 955.0,1198.3 955.5,1198.4 956.1,1198.5 956.6,1198.4 957.2,1198.4 957.7,1198.4 958.3,1198.4 958.8,1198.8 959.4,1198.7 959.9,1198.6 960.5,1198.6 961.0,1198.4 961.6,1198.5 962.1,1198.4 962.7,1198.3 963.2,1198.5 963.8,1198.5 964.3,1198.6 964.9,1198.6 965.4,1198.4 966.0,1198.5 966.5,1198.4 967.1,1198.3 967.6,1198.6 968.2,1198.4 968.7,1198.3 969.3,1198.4 969.8,1198.6 970.4,1198.5 970.9,1198.3 971.5,1198.3 972.0,1198.2 972.6,1198.0 973.1,1198.3 973.7,1198.6 974.2,1198.6 974.8,1198.4 975.3,1198.4 975.9,1198.6 976.4,1198.4 977.0,1198.3 977.5,1198.2 978.1,1198.1 978.6,1198.5 979.2,1198.6 979.7,1198.5 980.3,1198.4 980.8,1198.2 981.4,1198.0 981.9,1198.0 982.5,1198.1 983.0,1198.1 983.6,1198.2 984.1,1198.1 984.7,1198.1 985.2,1198.0 985.8,1197.9 986.3,1198.1 986.9,1198.2 987.4,1198.1 988.0,1198.0 988.5,1198.0 989.1,1197.9 989.6,1198.0 990.2,1198.0 990.7,1197.8 991.3,1198.0 991.8,1198.0 992.4,1197.8 992.9,1197.8 993.5,1197.9 994.0,1197.7 994.6,1197.7 995.1,1197.6 995.7,1197.6 996.2,1197.7 996.8,1197.5 997.3,1197.3 997.9,1197.3 998.4,1197.0 999.0,1196.7 999.5,1197.0 1000.1,1197.0 1000.6,1196.9 1001.2,1197.0 1001.7,1196.7 1002.3,1196.7 1002.4,1196.6 1002.8,921.6 1003.1,1196.4 1003.4,1196.3 1003.9,1196.3 1004.5,1195.9 1005.0,1196.0 1005.6,1195.9 1006.1,1195.5 1006.7,1195.6 1007.2,1195.4 1007.8,1195.2 1008.3,1195.1 1008.9,1194.9 1009.4,1194.7 1010.0,1194.5 1010.5,1194.4 1011.1,1194.3 1011.6,1194.0 1012.2,1193.8 1012.7,1193.7 1013.3,1193.5 1013.8,1193.2 1014.4,1192.9 1014.9,1193.1 1015.5,1193.2 1016.0,1193.0 1016.6,1193.2 1017.1,1193.0 1017.7,1192.9 1018.2,1192.9 1018.8,1193.1 1019.3,1193.1 1019.9,1193.1 1020.4,1193.2 1021.0,1193.1 1021.5,1193.2 1022.1,1193.1 1022.6,1193.3 1023.2,1193.6 1023.7,1193.6 1024.3,1193.4 1024.8,1193.3 1025.4,1193.3 1025.9,1193.5 1026.5,1193.5 1027.0,1193.3 1027.6,1193.2 1028.1,1193.2 1028.7,1193.1 1029.2,1193.0 1029.8,1192.7 1030.3,1192.6 1030.9,1192.5 1031.4,1192.0 1032.0,1192.0 1032.5,1191.8 1033.1,1191.4 1033.6,1191.2 1034.2,1191.2 1034.7,1191.2 1035.3,1191.1 1035.8,1190.9 1036.4,1190.5 1036.9,1190.6 1037.5,1190.9 1038.0,1190.7 1038.6,1190.5 1039.1,1190.5 1039.7,1190.4 1040.2,1190.4 1040.8,1190.5 1041.3,1190.7 1041.9,1190.9 1042.4,1191.1 1043.0,1191.4 1043.5,1191.5 1044.1,1191.4 1044.6,1191.3 1045.2,1191.5 1045.7,1191.3 1046.3,1191.0 1046.8,1191.1 1047.4,1191.5 1047.9,1191.4 1048.5,1191.1 1049.0,1191.4 1049.6,1191.3 1050.1,1190.7 1050.7,1190.6 1051.2,1190.6 1051.8,1190.4 1052.3,1190.0 1052.9,1189.7 1053.4,1189.6 1054.0,1189.4 1054.5,1188.9 1055.1,1188.7 1055.6,1188.6 1056.2,1188.4 1056.7,1188.2 1057.3,1187.5 1057.8,1187.0 1058.4,1186.6 1058.9,1186.2 1059.5,1186.3 1060.0,1185.8 1060.6,1185.1 1061.1,1184.5 1061.7,1184.0 1062.2,1183.7 1062.8,1183.4 1063.3,1183.0 1063.9,1182.8 1064.4,1182.1 1065.0,1181.4 1065.5,1180.8 1066.1,1180.1 1066.6,1179.0 1067.2,1176.3 1067.7,1173.1 1068.3,1169.8 1068.8,1166.3 1069.4,1162.1 1069.9,1159.9 1070.5,1159.3 1071.0,1158.5 1071.6,1157.9 1072.1,1157.7 1072.7,1157.8 1073.2,1158.0 1073.8,1158.6 1074.3,1159.4 1074.9,1160.4 1075.4,1161.8 1076.0,1162.9 1076.5,1163.8 1077.1,1165.1 1077.6,1166.6 1078.2,1168.0 1078.7,1168.7 1079.3,1169.4 1079.8,1170.1 1080.4,1170.5 1080.9,1170.8 1081.5,1171.0 1082.0,1171.2 1082.6,1171.3 1083.1,1171.2 1083.7,1171.2 1084.2,1171.4 1084.8,1171.5 1085.3,1171.2 1085.9,1171.0 1086.4,1170.7 1087.0,1170.2 1087.5,1169.5 1088.1,1168.9 1088.6,1168.4 1089.2,1167.1 1089.7,1165.7 1090.3,1163.5 1090.8,1160.6 1091.4,1157.6 1091.9,1154.0 1092.5,1148.5 1093.0,1141.3 1093.6,1133.0 1094.1,1123.5 1094.7,1110.7 1095.2,1096.6 1095.8,1082.8 1096.3,1068.2 1096.9,1053.4 1097.4,1037.7 1098.0,1021.8 1098.5,1010.7 1099.1,1003.5 1099.6,999.1 1100.2,997.6 1100.7,996.9 1101.3,997.7 1101.8,999.6 1102.4,1002.2 1102.9,1008.2 1103.5,1015.7 1104.0,1020.5 1104.6,1022.9 1105.1,1025.2 1105.7,1026.5 1106.2,1027.6 1106.8,1028.7 1107.3,1029.6 1107.9,1031.5 1108.4,1035.4 1109.0,1039.9 1109.5,1044.5 1110.1,1048.6 1110.6,1052.5 1111.2,1056.4 1111.7,1060.7 1112.3,1064.7 1112.8,1068.3 1113.4,1071.9 1113.9,1075.6 1114.5,1079.1 1114.9,1082.1 1115.3,1076.9 1115.7,1087.0 1116.1,1089.1 1116.7,1092.6 1117.2,1096.4 1117.8,1100.0 1118.3,1103.4 1118.9,1106.5 1119.4,1109.7 1120.0,1112.7 1120.5,1115.3 1121.1,1118.1 1121.6,1120.6 1122.2,1123.0 1122.7,1125.2 1123.3,1127.4 1123.8,1129.9 1124.4,1131.8 1124.9,1133.4 1125.5,1135.2 1126.0,1137.0 1126.6,1138.5 1127.1,1139.9 1127.7,1141.5 1128.2,1143.0 1128.8,1144.4 1129.3,1146.0 1129.9,1147.6 1130.4,1149.2 1131.0,1150.6 1131.5,1151.7 1132.1,1153.0 1132.6,1154.3 1133.2,1155.6 1133.7,1156.7 1134.3,1158.0 1134.8,1159.0 1135.4,1159.9 1135.9,1160.7 1136.5,1161.8 1137.0,1162.7 1137.6,1163.4 1138.1,1164.4 1138.7,1164.9 1139.2,1165.2 1139.8,1165.9 1140.3,1166.2 1140.9,1166.5 1141.4,1166.9 1142.0,1167.2 1142.5,1167.8 1143.1,1168.2 1143.6,1168.1 1144.2,1168.7 1144.7,1169.3 1145.3,1169.3 1145.8,1169.6 1146.4,1170.1 1146.9,1170.4 1147.5,1170.7 1148.0,1171.2 1148.6,1171.6 1149.1,1171.8 1149.7,1172.2 1150.2,1172.5 1150.8,1172.7 1151.3,1173.1 1151.9,1173.4 1152.4,1173.6 1153.0,1173.8 1153.5,1174.0 1154.1,1174.5 1154.6,1174.8 1155.2,1174.9 1155.7,1175.5 1156.3,1176.0 1156.8,1176.0 1157.4,1176.3 1157.9,1176.6 1158.5,1176.8 1159.0,1177.0 1159.6,1177.2 1160.1,1177.5 1160.7,1177.6 1161.2,1177.6 1161.8,1177.9 1162.3,1178.0 1162.9,1178.0 1163.4,1178.1 1164.0,1177.9 1164.5,1178.1 1165.1,1178.0 1165.6,1178.0 1166.2,1178.3 1166.7,1178.2 1167.3,1178.1 1167.8,1178.3 1168.4,1178.5 1168.9,1178.7 1169.5,1178.8 1170.0,1178.7 1170.6,1178.4 1171.1,1178.4 1171.7,1178.7 1172.2,1178.7 1172.8,1178.7 1173.3,1178.7 1173.9,1178.8 1174.4,1178.9 1175.0,1178.7 1175.5,1178.7 1176.1,1179.0 1176.6,1179.0 1177.2,1179.0 1177.7,1179.1 1178.3,1179.2 1178.8,1179.1 1179.4,1179.1 1179.9,1179.1 1180.5,1179.0 1181.0,1179.0 1181.6,1179.2 1182.1,1179.3 1182.7,1179.2 1183.2,1179.0 1183.8,1178.9 1184.3,1179.1 1184.9,1179.2 1185.4,1179.0 1186.0,1178.9 1186.5,1179.1 1187.1,1179.0 1187.6,1179.1 1188.2,1178.7 1188.7,1178.4 1189.3,1178.6 1189.8,1178.8 1190.4,1178.9 1190.9,1178.8 1191.5,1178.7 1192.0,1178.5 1192.6,1178.3 1193.1,1178.2 1193.7,1178.0 1194.2,1177.7 1194.8,1177.6 1195.3,1177.3 1195.9,1176.8 1196.4,1176.3 1197.0,1176.2 1197.5,1176.3 1198.1,1176.0 1198.6,1175.6 1199.2,1175.6 1199.7,1175.3 1200.3,1175.0 1200.8,1174.8 1201.4,1174.6 1201.9,1174.6 1202.5,1174.1 1203.0,1173.9 1203.6,1173.7 1204.1,1173.6 1204.7,1173.6 1205.2,1173.4 1205.8,1173.0 1206.3,1172.8 1206.9,1172.9 1207.4,1173.0 1208.0,1172.9 1208.5,1172.8 1209.1,1172.7 1209.6,1172.8 1210.2,1173.0 1210.7,1173.1 1211.3,1173.2 1211.8,1173.0 1212.4,1173.1 1212.9,1172.9 1213.5,1172.7 1214.0,1173.1 1214.6,1173.1 1215.1,1173.0 1215.7,1173.1 1216.2,1173.4 1216.8,1173.4 1217.3,1173.4 1217.9,1173.5 1218.4,1173.2 1219.0,1173.2 1219.5,1173.4 1220.1,1173.4 1220.6,1173.6 1221.2,1173.9 1221.7,1174.0 1222.3,1173.9 1222.8,1174.0 1223.4,1174.2 1223.9,1174.2 1224.5,1174.3 1225.0,1174.8 1225.6,1174.8 1226.1,1174.6 1226.7,1174.6 1227.2,1174.9 1227.8,1175.0 1228.3,1174.9 1228.9,1175.2 1229.4,1175.2 1230.0,1175.0 1230.5,1175.2 1231.1,1175.1 1231.6,1174.9 1232.2,1175.2 1232.7,1175.5 1233.3,1175.3 1233.8,1175.5 1234.4,1175.5 1234.9,1175.3 1235.5,1175.3 1236.0,1175.6 1236.6,1176.1 1237.1,1176.3 1237.7,1176.3 1238.2,1176.3 1238.8,1176.3 1239.3,1176.3 1239.9,1176.6 1240.4,1176.8 1241.0,1176.7 1241.5,1176.9 1242.1,1177.0 1242.6,1176.9 1243.2,1176.8 1243.7,1176.7 1244.3,1176.5 1244.8,1176.7 1245.4,1176.8 1245.9,1176.6 1246.5,1176.5 1247.0,1176.3 1247.6,1176.1 1248.1,1175.9 1248.7,1175.6 1249.2,1175.3 1249.8,1175.3 1250.3,1175.2 1250.9,1175.0 1251.4,1175.0 1251.5,1174.9 1251.9,1164.1 1252.3,1174.4 1252.5,1174.2 1253.1,1174.0 1253.6,1173.9 1254.2,1173.7 1254.7,1173.3 1255.3,1173.3 1255.8,1173.3 1256.4,1173.1 1256.9,1172.8 1257.5,1172.8 1258.0,1172.7 1258.6,1172.5 1259.1,1172.6 1259.7,1172.5 1260.2,1172.4 1260.8,1172.5 1261.3,1172.3 1261.9,1172.1 1262.4,1172.0 1263.0,1171.9 1263.5,1171.9 1264.1,1171.7 1264.6,1171.5 1264.8,1171.5 1265.2,1149.6 1265.6,1171.4 1265.7,1171.4 1266.3,1171.5 1266.8,1171.4 1267.4,1171.3 1267.9,1171.0 1268.5,1170.8 1269.0,1170.8 1269.6,1170.9 1270.1,1170.8 1270.7,1170.7 1271.2,1170.7 1271.8,1170.5 1272.3,1170.1 1272.9,1169.9 1273.4,1169.9 1274.0,1169.8 1274.5,1169.7 1275.1,1169.4 1275.6,1168.9 1276.2,1168.5 1276.7,1168.0 1277.3,1167.8 1277.8,1167.6 1278.4,1166.9 1278.9,1166.4 1279.5,1166.2 1280.0,1165.8 1280.6,1165.2 1281.1,1164.3 1281.7,1163.6 1282.2,1163.2 1282.8,1162.5 1283.3,1162.0 1283.9,1161.7 1284.4,1161.2 1285.0,1160.6 1285.5,1160.3 1286.1,1160.1 1286.6,1159.8 1287.2,1159.4 1287.7,1158.7 1288.3,1158.1 1288.8,1157.7 1289.4,1157.1 1289.9,1156.5 1290.5,1155.9 1291.0,1155.0 1291.6,1154.0 1292.1,1152.9 1292.7,1152.3 1293.2,1151.7 1293.8,1150.7 1294.3,1150.1 1294.9,1149.7 1295.4,1148.9 1296.0,1148.1 1296.5,1147.4 1297.1,1146.9 1297.6,1146.5 1298.2,1146.2 1298.7,1146.0 1299.3,1145.8 1299.8,1145.6 1300.4,1145.6 1300.9,1145.6 1301.5,1145.7 1302.0,1145.7 1302.6,1145.8 1303.1,1146.1 1303.7,1146.4 1304.2,1146.6 1304.8,1146.8 1305.3,1146.8 1305.9,1146.6 1306.4,1146.1 1307.0,1145.7 1307.5,1145.1 1308.1,1144.6 1308.6,1143.8 1309.2,1142.4 1309.7,1140.8 1310.3,1139.5 1310.8,1138.4 1311.4,1137.5 1311.9,1136.7 1312.5,1135.8 1313.0,1135.2 1313.6,1135.1 1314.1,1134.6 1314.7,1134.1 1315.2,1134.2 1315.8,1134.7 1316.3,1134.8 1316.9,1135.1 1317.4,1135.5 1318.0,1135.6 1318.5,1135.8 1319.1,1136.1 1319.6,1136.2 1320.2,1136.2 1320.7,1136.2 1321.3,1136.3 1321.8,1136.5 1322.4,1137.0 1322.9,1137.3 1323.5,1137.2 1324.0,1137.2 1324.6,1137.3 1325.1,1137.3 1325.7,1137.5 1326.2,1137.8 1326.8,1147.8 1327.3,1150.1 1327.9,1150.1 1328.4,1150.3 1329.0,1150.2 1329.5,1150.2 1330.1,1150.5 1330.6,1152.2 1331.2,1154.6 1331.7,1156.9 1332.3,1159.1 1332.8,1160.8 1333.4,1162.3 1333.9,1163.7 1334.5,1164.9 1335.0,1166.3 1335.6,1167.6 1336.1,1168.6 1336.7,1169.7 1337.2,1170.8 1337.8,1172.1 1338.3,1173.0 1338.9,1173.7 1339.4,1174.7 1340.0,1175.4 1340.5,1175.8 1341.1,1176.0 1341.6,1176.5 1342.2,1177.2 1342.7,1177.5 1343.3,1177.6 1343.8,1177.9 1344.4,1178.3 1344.9,1178.8 1345.5,1179.2 1346.0,1179.3 1346.6,1179.4 1347.1,1179.5 1347.7,1179.9 1348.2,1180.3 1348.8,1180.5 1349.3,1180.7 1349.9,1180.7 1350.4,1180.9 1351.0,1181.0 1351.5,1181.1 1352.1,1181.3 1352.6,1181.6 1353.2,1181.6 1353.7,1181.6 1354.3,1181.9 1354.8,1182.2 1355.4,1182.3 1355.9,1182.4 1356.5,1182.6 1357.0,1182.6 1357.6,1182.7 1358.1,1183.1 1358.7,1183.3 1359.2,1183.3 1359.8,1183.4 1360.3,1183.6 1360.9,1183.7 1361.4,1183.6 1362.0,1183.8 1362.5,1184.3 1363.1,1184.2 1363.6,1184.1 1364.2,1184.3 1364.7,1184.4 1365.3,1184.2 1365.8,1184.5 1366.4,1184.7 1366.9,1184.7 1367.5,1184.8 1368.0,1184.7 1368.6,1184.7 1369.1,1184.8 1369.7,1185.0 1370.2,1185.3 1370.8,1185.3 1371.3,1185.2 1371.9,1185.3 1372.4,1185.3 1373.0,1185.4 1373.5,1185.7 1374.1,1185.6 1374.6,1185.6 1375.2,1185.7 1375.7,1185.6 1376.3,1185.8 1376.8,1185.8 1377.4,1185.8 1377.9,1186.0 1378.5,1185.8 1379.0,1185.9 1379.6,1185.8 1380.1,1185.9 1380.7,1185.9 1381.2,1185.9 1381.8,1186.1 1382.3,1185.8 1382.9,1185.7 1383.4,1185.8 1384.0,1185.8 1384.5,1185.8 1385.1,1185.9 1385.6,1185.9 1386.2,1185.9 1386.7,1185.8 1387.3,1185.9 1387.8,1186.3 1388.4,1186.3 1388.9,1185.9 1389.5,1185.9 1390.0,1186.1 1390.6,1186.2 1391.1,1186.0 1391.7,1186.0 1392.2,1185.9 1392.8,1185.8 1393.3,1186.1 1393.9,1186.0 1394.4,1186.1 1395.0,1186.1 1395.5,1186.0 1396.1,1185.9 1396.6,1185.9 1397.2,1186.0 1397.7,1186.1 1398.3,1186.0 1398.8,1185.9 1399.4,1186.0 1399.9,1186.1 1400.5,1186.1 1401.0,1186.0 1401.6,1186.4 1402.1,1186.6 1402.7,1186.2 1403.2,1186.2 1403.8,1186.3 1404.3,1186.2 1404.9,1186.4 1405.4,1186.4 1406.0,1186.4 1406.5,1186.4 1407.1,1186.5 1407.6,1186.7 1408.2,1186.9 1408.7,1186.5 1409.3,1186.6 1409.8,1186.8 1410.4,1186.5 1410.9,1186.6 1411.5,1187.0 1412.0,1187.2 1412.6,1187.1 1413.1,1186.9 1413.7,1186.9 1414.2,1187.1 1414.8,1187.0 1415.3,1186.8 1415.9,1186.5 1416.4,1186.2 1417.0,1186.1 1417.5,1186.0 1418.1,1186.0 1418.6,1185.8 1419.2,1185.6 1419.7,1185.3 1420.3,1185.2 1420.8,1185.2 1421.4,1185.1 1421.9,1185.2 1422.5,1185.1 1423.0,1184.9 1423.6,1184.7 1424.1,1184.4 1424.7,1184.1 1425.2,1183.8 1425.8,1183.7 1426.3,1183.4 1426.9,1183.4 1427.4,1183.3 1428.0,1183.1 1428.5,1183.0 1429.1,1182.9 1429.6,1182.8 1430.2,1183.0 1430.7,1183.2 1431.3,1183.2 1431.8,1183.2 1432.4,1183.3 1432.9,1183.4 1433.5,1183.5 1434.0,1183.6 1434.6,1183.7 1435.1,1184.1 1435.7,1184.4 1436.2,1184.3 1436.8,1184.4 1437.3,1184.7 1437.9,1184.8 1438.4,1184.9 1439.0,1185.4 1439.5,1185.6 1440.1,1185.8 1440.6,1185.9 1441.2,1186.2 1441.7,1186.3 1442.3,1186.4 1442.8,1186.7 1443.4,1186.8 1443.9,1186.8 1444.5,1186.9 1445.0,1187.0 1445.6,1187.0 1446.1,1187.2 1446.7,1187.1 1447.2,1186.9 1447.8,1186.9 1448.3,1186.8 1448.9,1187.0 1449.4,1186.9 1450.0,1186.5 1450.5,1186.7 1451.1,1187.1 1451.6,1187.2 1452.2,1187.1 1452.7,1187.2 1453.3,1187.4 1453.8,1187.6 1454.4,1187.6 1454.9,1187.7 1455.5,1188.1 1456.0,1188.3 1456.6,1188.5 1457.1,1188.8 1457.7,1189.1 1458.2,1189.0 1458.8,1189.0 1459.3,1189.3 1459.9,1189.3 1460.4,1189.3 1461.0,1189.5 1461.5,1189.6 1462.1,1189.6 1462.6,1190.1 1463.2,1190.2 1463.7,1190.2 1464.3,1190.2 1464.8,1190.1 1465.4,1190.3 1465.9,1190.6 1466.5,1190.5 1467.0,1190.4 1467.6,1190.4 1468.1,1190.5 1468.7,1190.5 1469.2,1190.7 1469.8,1190.7 1470.3,1190.6 1470.9,1190.6 1471.4,1190.6 1472.0,1190.7 1472.5,1190.8 1473.1,1190.8 1473.6,1190.9 1474.2,1191.1 1474.7,1191.2 1475.3,1191.1 1475.8,1190.8 1476.4,1190.6 1476.9,1190.8 1477.5,1190.6 1478.0,1190.5 1478.6,1190.5 1479.1,1190.5 1479.7,1190.5 1480.2,1190.2 1480.8,1190.4 1481.3,1190.3 1481.9,1189.8 1482.4,1189.8 1483.0,1189.7 1483.5,1189.3 1484.1,1189.3 1484.6,1189.3 1485.2,1189.0 1485.7,1188.9 1486.3,1188.8 1486.8,1188.6 1487.4,1188.7 1487.9,1188.6 1488.5,1188.3 1489.0,1188.2 1489.6,1188.2 1490.1,1188.2 1490.7,1188.6 1491.2,1189.2 1491.8,1189.3 1492.3,1189.1 1492.9,1189.3 1493.4,1189.7 1494.0,1190.0 1494.5,1190.0 1495.1,1190.2 1495.6,1190.4 1496.2,1190.4 1496.7,1190.9 1497.3,1191.0 1497.8,1190.9 1498.4,1191.0 1498.9,1191.1 1499.5,1191.2 1500.0,1191.2 1500.6,1191.1 1501.1,1191.1 1501.7,1191.3 1502.2,1191.4 1502.8,1191.4 1503.3,1191.8 1503.9,1191.9 1504.4,1191.6 1505.0,1191.6 1505.5,1191.8 1506.1,1191.7 1506.6,1191.7 1507.2,1191.6 1507.7,1191.4 1508.3,1191.6 1508.8,1191.6 1509.4,1191.6 1509.9,1191.6 1510.5,1191.4 1511.0,1191.3 1511.6,1191.0 1512.1,1190.9 1512.7,1190.8 1513.2,1190.6 1513.8,1190.3 1514.3,1189.8 1514.9,1189.7 1515.4,1189.7 1516.0,1189.3 1516.5,1189.0 1517.1,1188.8 1517.6,1188.2 1518.2,1187.7 1518.7,1187.5 1519.3,1187.4 1519.8,1187.2 1520.4,1187.1 1520.9,1186.8 1521.5,1186.7 1522.0,1186.9 1522.6,1186.7 1523.1,1186.8 1523.7,1186.9 1524.2,1186.7 1524.8,1186.8 1525.3,1187.2 1525.9,1187.5 1526.4,1187.7 1527.0,1188.1 1527.5,1188.5 1528.1,1189.1 1528.6,1189.2 1529.2,1189.2 1529.7,1189.5 1530.3,1189.7 1530.8,1190.2 1531.4,1190.8 1531.9,1190.7 1532.5,1190.7 1533.0,1191.2 1533.6,1191.6 1534.1,1191.8 1534.7,1192.0 1535.2,1192.3 1535.8,1192.4 1536.3,1192.5 1536.9,1192.8 1537.4,1193.0 1538.0,1193.3 1538.5,1193.5 1539.1,1193.6 1539.6,1193.8 1540.2,1194.1 1540.7,1194.2 1541.3,1194.1 1541.8,1194.5 1542.4,1194.5 1542.9,1194.4 1543.5,1194.7 1544.0,1194.7 1544.6,1194.6 1545.1,1194.9 1545.7,1195.3 1545.9,1195.4 1546.3,1153.8 1546.7,1195.6 1546.8,1195.6 1547.3,1195.7 1547.9,1195.8 1548.4,1195.7 1549.0,1195.9 1549.5,1196.2 1550.1,1196.1 1550.6,1196.0 1551.2,1196.1 1551.7,1196.2 1552.3,1196.3 1552.8,1196.2 1553.4,1196.4 1553.9,1196.5 1554.5,1196.3 1555.0,1196.2 1555.6,1196.3 1556.1,1196.5 1556.7,1196.7 1557.2,1196.5 1557.8,1196.6 1558.3,1196.8 1558.9,1196.8 1559.4,1196.8 1560.0,1196.7 1560.5,1196.6 1561.1,1196.8 1561.6,1196.9 1562.2,1196.9 1562.7,1197.1 1563.3,1197.1 1563.8,1197.1 1564.4,1197.3 1564.9,1197.4 1565.5,1197.4 1566.0,1197.3 1566.6,1197.3 1567.1,1197.3 1567.7,1197.4 1568.2,1197.4 1568.8,1197.5 1569.3,1197.6 1569.9,1197.7 1570.4,1197.6 1571.0,1197.7 1571.5,1197.9 1572.1,1197.8 1572.6,1197.8 1573.2,1198.1 1573.7,1198.2 1574.3,1198.1 1574.8,1198.2 1575.4,1198.3 1575.9,1198.3 1576.5,1198.2 1577.0,1198.2 1577.6,1198.3 1578.1,1198.5 1578.7,1198.7 1579.2,1198.6 1579.8,1198.4 1580.3,1198.4 1580.9,1198.8 1581.4,1198.9 1582.0,1198.9 1582.5,1198.6 1583.1,1198.6 1583.6,1198.9 1584.2,1199.1 1584.7,1199.2 1585.3,1199.2 1585.8,1199.4 1586.4,1199.3 1586.9,1199.2 1587.5,1199.2 1588.0,1199.4 1588.6,1199.7 1589.1,1199.8 1589.7,1199.6 1590.2,1199.8 1590.8,1199.9 1591.3,1199.8 1591.9,1199.9 1592.4,1200.0 1593.0,1200.0 1593.5,1199.9 1594.1,1200.1 1594.6,1200.2 1595.2,1200.2 1595.7,1200.3 1596.3,1200.2 1596.8,1200.2 1597.4,1200.3 1597.9,1200.3 1598.5,1200.4 1599.0,1200.5 1599.6,1200.6 1600.1,1200.7 1600.7,1200.7 1601.2,1200.8 1601.8,1200.8 1602.3,1200.8 1602.9,1200.9 1603.4,1201.0 1604.0,1201.0 1604.5,1201.0 1605.1,1201.1 1605.6,1201.1 1606.2,1201.2 1606.7,1201.2 1607.3,1201.2 1607.8,1201.4 1608.4,1201.6 1608.9,1201.5 1609.5,1201.4 1610.0,1201.5 1610.6,1201.7 1611.1,1201.6 1611.7,1201.7 1612.2,1201.8 1612.8,1201.7 1613.3,1201.7 1613.9,1201.8 1614.4,1202.1 1615.0,1202.1 1615.5,1202.0 1616.1,1201.8 1616.6,1201.9 1617.2,1202.2 1617.7,1202.1 1618.3,1202.2 1618.8,1202.2 1619.4,1202.2 1619.9,1202.2 1620.5,1202.5 1621.0,1202.6 1621.6,1202.4 1622.1,1202.4 1622.7,1202.4 1623.2,1202.4 1623.8,1202.5 1624.3,1202.7 1624.9,1203.0 1625.4,1203.0 1626.0,1203.1 1626.5,1203.1 1627.1,1203.2 1627.6,1203.4 1628.2,1203.4 1628.7,1203.3 1629.3,1203.1 1629.8,1203.2 1630.4,1203.4 1630.9,1203.5 1631.5,1203.7 1632.0,1203.8 1632.6,1203.7 1633.1,1203.8 1633.7,1203.9 1634.2,1203.8 1634.8,1204.0 1635.3,1204.1 1635.9,1204.0"/>
<polyline fill="none" stroke="#46a037" stroke-width="2.6" stroke-linejoin="round"  points="211.6,1207.3 211.9,1197.5 212.2,1196.9 212.5,1186.7 212.8,1199.7 213.1,1199.2 213.4,1199.3 213.7,1201.2 214.0,1200.9 214.3,1195.1 214.6,1195.1 214.9,1194.8 215.2,1200.0 215.5,1200.5 215.8,1192.2 216.1,1192.1 216.4,1199.7 216.7,1204.7 217.0,1198.5 217.3,1195.4 217.6,1203.2 217.9,1196.7 218.2,1202.3 218.5,1206.5 218.8,1202.7 219.1,1199.8 219.4,1201.7 219.7,1195.9 220.0,1198.8 220.3,1195.3 220.6,1197.0 220.9,1196.1 221.2,1197.6 221.5,1198.3 221.8,1199.5 222.1,1197.5 222.4,1198.7 222.7,1204.3 223.0,1189.5 223.3,1203.1 223.6,1197.3 223.9,1192.2 224.2,1195.9 224.5,1197.0 224.8,1201.6 225.1,1190.7 225.4,1197.9 225.7,1198.5 226.0,1189.6 226.3,1191.4 226.6,1200.7 226.9,1200.8 227.2,1202.4 227.5,1200.2 227.8,1198.7 228.1,1198.0 228.4,1202.4 228.7,1193.3 229.0,1196.5 229.3,1198.3 229.6,1190.4 229.9,1202.9 230.2,1192.9 230.5,1196.5 230.8,1206.2 231.1,1192.9 231.4,1193.1 231.7,1202.3 232.0,1191.0 232.3,1193.6 232.6,1198.1 232.9,1197.3 233.2,1197.9 233.5,1197.5 233.8,1201.9 234.1,1200.2 234.4,1198.4 234.7,1193.0 235.0,1191.8 235.3,1187.0 235.6,1199.5 235.9,1186.8 236.2,1199.3 236.5,1204.2 236.8,1190.0 237.1,1190.9 237.4,1193.3 237.7,1200.3 238.0,1193.2 238.3,1196.0 238.6,1192.0 238.9,1193.8 239.2,1201.9 239.5,1190.7 239.8,1195.0 240.1,1194.8 240.4,1196.2 240.7,1188.9 241.0,1200.2 241.3,1195.5 241.6,1197.4 241.9,1194.1 242.2,1187.7 242.5,1192.1 242.8,1198.1 243.1,1193.4 243.4,1192.3 243.7,1200.9 244.0,1203.7 244.3,1194.3 244.5,1199.9 244.9,1155.5 245.3,1189.8 245.5,1198.8 245.8,1193.3 246.1,1196.7 246.4,1196.4 246.7,1192.8 247.0,1196.4 247.3,1194.7 247.6,1186.4 247.9,1193.3 248.2,1193.9 248.5,1201.1 248.8,1189.0 249.1,1194.7 249.4,1190.7 249.7,1192.0 250.0,1201.3 250.3,1195.5 250.6,1190.0 250.9,1192.5 251.2,1196.6 251.5,1188.8 251.8,1190.1 252.1,1197.3 252.4,1194.3 252.7,1191.0 253.0,1189.4 253.3,1190.7 253.6,1185.0 253.9,1196.1 254.2,1193.3 254.5,1191.1 254.8,1186.5 255.1,1190.1 255.4,1192.7 255.7,1191.3 256.0,1189.9 256.3,1190.9 256.6,1190.6 256.9,1188.0 257.2,1188.3 257.5,1188.4 257.8,1188.6 258.1,1189.9 258.4,1190.2 258.7,1190.2 259.0,1187.7 259.3,1187.3 259.6,1188.1 259.9,1188.6 260.2,1188.5 260.5,1186.1 260.8,1188.9 261.1,1190.1 261.4,1189.6 261.7,1190.7 262.0,1189.6 262.3,1192.0 262.6,1189.6 262.9,1189.2 263.2,1187.6 263.5,1187.9 263.8,1187.1 264.1,1190.2 264.4,1190.6 264.7,1188.7 265.0,1187.7 265.3,1189.4 265.6,1187.7 265.9,1192.9 266.2,1192.0 266.5,1191.9 266.8,1190.1 267.1,1188.5 267.4,1189.2 267.7,1191.0 268.0,1193.2 268.3,1191.6 268.6,1192.0 268.9,1191.7 269.2,1188.4 269.5,1189.1 269.8,1192.3 270.1,1193.7 270.4,1194.4 270.7,1196.6 271.0,1192.8 271.3,1192.8 271.6,1195.2 271.9,1195.8 272.2,1191.7 272.5,1192.5 272.8,1194.3 273.1,1191.8 273.4,1192.6 273.7,1191.8 274.0,1191.4 274.1,1191.5 274.5,1159.8 274.9,1197.3 275.2,1197.7 275.5,1194.2 275.8,1190.5 276.1,1194.6 276.4,1194.6 276.7,1195.4 277.0,1194.1 277.3,1190.7 277.6,1196.0 277.9,1190.6 278.2,1193.4 278.5,1196.0 278.8,1196.6 279.1,1199.0 279.4,1189.4 279.7,1196.3 280.0,1196.7 280.3,1193.0 280.6,1195.6 280.9,1192.3 281.2,1197.7 281.5,1196.1 281.8,1192.8 282.1,1195.3 282.4,1195.2 282.7,1193.2 283.0,1198.1 283.3,1196.1 283.6,1198.9 283.9,1198.5 284.2,1194.9 284.5,1194.7 284.8,1192.6 285.1,1192.8 285.4,1194.6 285.7,1197.0 286.0,1192.8 286.3,1195.0 286.6,1195.6 286.9,1194.1 287.2,1194.9 287.5,1198.8 287.8,1198.6 288.1,1193.6 288.4,1195.7 288.7,1195.1 289.0,1194.6 289.3,1198.6 289.6,1197.0 289.9,1198.2 290.2,1199.3 290.5,1195.1 290.8,1195.2 291.1,1194.6 291.4,1197.1 291.7,1196.0 292.0,1197.6 292.3,1198.5 292.6,1199.2 292.9,1197.1 293.2,1193.6 293.5,1191.4 293.8,1198.2 294.1,1197.0 294.4,1194.2 294.7,1195.9 295.0,1195.4 295.3,1191.9 295.6,1196.4 295.9,1193.8 296.2,1194.0 296.5,1197.2 296.8,1196.2 297.1,1197.1 297.4,1197.8 297.7,1196.3 298.0,1194.5 298.2,1197.0 298.6,1167.7 299.0,1195.1 299.2,1190.6 299.5,1193.7 299.8,1192.5 300.1,1190.0 300.4,1185.4 300.7,1193.6 301.0,1188.1 301.3,1189.1 301.6,1192.0 301.9,1192.3 302.2,1191.9 302.5,1190.1 302.8,1187.5 303.1,1193.2 303.4,1189.9 303.7,1193.0 304.0,1193.3 304.3,1194.4 304.6,1192.3 304.9,1191.3 305.2,1190.1 305.5,1186.8 305.8,1189.2 306.1,1187.2 306.4,1186.8 306.7,1190.0 307.0,1189.8 307.3,1194.0 307.6,1193.9 307.9,1186.6 308.2,1189.5 308.5,1186.8 308.8,1190.1 309.1,1189.6 309.4,1191.5 309.7,1190.1 310.0,1189.9 310.3,1187.7 310.6,1183.3 310.9,1186.0 311.2,1186.7 311.5,1187.2 311.8,1186.7 312.1,1191.8 312.4,1187.4 312.7,1189.8 313.0,1186.8 313.3,1190.9 313.6,1184.8 313.9,1187.8 314.2,1184.1 314.5,1186.6 314.8,1187.9 315.1,1182.0 315.4,1183.8 315.7,1185.0 316.0,1184.0 316.3,1181.2 316.6,1185.2 316.9,1183.9 317.2,1187.0 317.5,1185.1 317.8,1182.1 318.1,1184.6 318.4,1188.7 318.7,1183.6 319.0,1184.9 319.3,1187.9 319.6,1189.4 319.9,1188.5 320.2,1183.8 320.5,1190.2 320.8,1187.4 321.1,1187.9 321.4,1187.9 321.7,1187.2 322.0,1186.1 322.3,1187.1 322.6,1188.8 322.9,1184.4 323.2,1182.9 323.5,1186.6 323.8,1186.5 324.1,1187.7 324.4,1188.9 324.7,1184.2 325.0,1184.7 325.3,1185.1 325.6,1186.5 325.9,1186.2 326.2,1183.0 326.6,1176.8 327.0,1181.7 327.1,1180.9 327.4,1184.8 327.7,1183.4 328.0,1183.9 328.3,1182.7 328.6,1187.7 328.9,1187.6 329.2,1187.3 329.5,1188.1 329.8,1187.7 330.1,1188.8 330.4,1189.8 330.7,1187.9 331.0,1189.2 331.3,1189.6 331.6,1190.4 331.9,1190.0 332.2,1189.4 332.5,1188.2 332.8,1189.4 333.1,1187.5 333.4,1189.7 333.7,1187.8 334.0,1190.0 334.3,1189.6 334.6,1189.0 334.9,1188.2 335.2,1191.0 335.5,1189.0 335.8,1189.0 336.1,1187.0 336.4,1190.6 336.7,1185.8 337.0,1193.2 337.3,1190.9 337.6,1190.5 337.9,1188.5 338.2,1189.8 338.5,1192.3 338.8,1192.3 339.1,1194.5 339.4,1196.0 339.7,1194.8 340.0,1191.3 340.3,1192.8 340.6,1193.0 340.9,1194.4 341.2,1192.6 341.5,1191.8 341.8,1193.8 342.1,1194.3 342.4,1196.6 342.7,1195.6 343.0,1197.9 343.3,1192.3 343.6,1193.3 343.9,1196.6 344.2,1195.9 344.5,1195.2 344.8,1197.2 345.1,1196.9 345.4,1197.7 345.7,1194.8 346.0,1195.0 346.3,1195.5 346.6,1194.3 346.9,1195.3 347.2,1193.2 347.5,1194.0 347.8,1190.3 348.1,1195.3 348.4,1196.1 348.7,1192.6 349.0,1195.2 349.3,1192.0 349.6,1193.6 349.9,1191.6 350.2,1193.3 350.5,1193.2 350.8,1190.8 351.1,1191.2 351.4,1191.1 351.7,1195.5 352.0,1191.7 352.3,1192.4 352.6,1192.7 352.9,1192.4 353.2,1191.6 353.5,1189.2 353.8,1190.1 354.1,1194.4 354.3,1193.0 354.7,1146.5 355.1,1191.8 355.3,1194.1 355.6,1194.6 355.9,1194.0 356.2,1198.0 356.5,1196.4 356.8,1197.8 357.1,1200.5 357.4,1200.6 357.7,1202.9 358.0,1201.1 358.3,1202.4 358.6,1204.8 358.9,1203.7 359.2,1205.0 359.5,1204.0 359.8,1203.7 360.1,1203.9 360.4,1202.9 360.7,1199.2 361.0,1200.1 361.3,1200.4 361.5,1201.6 361.9,1191.6 362.3,1198.5 362.5,1195.6 362.8,1197.1 363.1,1198.5 363.4,1196.8 363.7,1198.5 364.0,1192.4 364.3,1195.2 364.6,1195.7 364.9,1195.0 365.2,1192.4 365.5,1194.5 365.8,1190.4 366.1,1194.7 366.4,1193.1 366.7,1193.1 367.0,1190.8 367.3,1190.0 367.6,1191.1 367.9,1190.6 368.2,1191.2 368.5,1190.1 368.8,1190.3 369.1,1190.0 369.4,1191.7 369.7,1186.1 370.0,1188.1 370.3,1189.7 370.6,1189.6 370.9,1188.3 371.2,1187.8 371.5,1187.4 371.8,1187.8 372.1,1186.6 372.4,1186.8 372.7,1186.4 373.0,1187.8 373.3,1190.9 373.6,1187.7 373.9,1191.3 374.2,1193.3 374.5,1191.0 374.8,1194.5 375.1,1191.7 375.4,1194.3 375.7,1191.9 376.0,1191.6 376.3,1194.4 376.6,1197.8 376.9,1196.2 377.2,1197.9 377.5,1195.9 377.8,1197.3 378.1,1200.3 378.4,1200.0 378.7,1201.1 379.0,1202.2 379.3,1199.5 379.6,1199.5 379.9,1198.8 380.2,1200.3 380.5,1195.7 380.8,1194.2 381.1,1194.8 381.4,1196.7 381.7,1192.4 382.0,1192.6 382.3,1192.6 382.6,1192.7 382.9,1193.4 383.3,1189.3 383.7,1190.6 383.8,1190.8 384.1,1190.9 384.4,1187.8 384.7,1188.3 385.0,1188.3 385.3,1185.7 385.6,1184.8 385.9,1182.4 386.2,1180.8 386.5,1178.6 386.8,1176.3 387.1,1174.3 387.4,1170.1 387.7,1167.4 388.0,1165.1 388.3,1161.2 388.6,1158.1 388.9,1154.5 389.2,1150.9 389.5,1148.5 389.8,1143.7 390.1,1140.2 390.4,1135.8 390.7,1130.9 391.0,1126.7 391.3,1123.2 391.6,1119.1 391.9,1115.2 392.2,1110.0 392.5,1105.9 392.8,1102.0 393.1,1098.1 393.4,1094.6 393.7,1091.3 394.0,1087.7 394.3,1083.9 394.6,1080.7 394.9,1077.3 395.2,1074.8 395.5,1072.3 395.8,1070.1 396.1,1069.4 396.4,1068.1 396.7,1066.7 397.0,1065.9 397.3,1066.1 397.6,1066.4 397.9,1067.2 398.2,1068.4 398.5,1068.9 398.8,1070.2 399.1,1071.5 399.4,1074.1 399.7,1076.5 400.0,1078.7 400.6,1083.7 401.1,1087.8 401.7,1092.8 402.2,1096.9 402.8,1102.8 403.3,1106.8 403.9,1109.4 404.4,1112.4 405.0,1118.1 405.5,1120.2 406.1,1124.5 406.6,1126.3 407.2,1129.9 407.7,1132.0 408.3,1136.0 408.8,1138.5 409.4,1143.3 409.9,1144.0 410.5,1148.3 411.0,1149.3 411.6,1152.4 412.1,1152.3 412.7,1154.2 413.2,1158.8 413.8,1158.2 414.3,1160.8 414.9,1162.2 415.4,1163.1 416.0,1165.8 416.5,1165.4 417.1,1166.8 417.6,1170.5 418.2,1170.2 418.7,1172.8 419.3,1173.3 419.8,1174.6 420.4,1174.2 420.9,1172.6 421.5,1174.6 422.0,1175.5 422.6,1177.5 423.1,1177.6 423.7,1177.8 424.2,1179.3 424.8,1179.5 425.3,1182.2 425.9,1182.6 426.4,1184.4 427.0,1184.5 427.5,1186.0 428.1,1185.0 428.6,1186.5 429.2,1185.9 429.7,1187.1 430.3,1186.9 430.8,1186.4 431.4,1186.6 431.9,1187.5 432.5,1189.1 433.0,1186.5 433.6,1190.7 434.1,1186.9 434.7,1190.2 435.2,1190.1 435.8,1191.6 436.3,1191.5 436.9,1191.6 437.4,1192.2 438.0,1193.7 438.5,1196.2 439.1,1195.1 439.6,1192.6 440.2,1194.3 440.7,1194.9 441.3,1198.2 441.8,1192.7 442.4,1193.3 442.9,1193.4 443.5,1191.9 444.0,1190.1 444.6,1192.8 445.1,1190.9 445.7,1193.5 446.2,1196.6 446.8,1195.4 447.3,1198.2 447.9,1201.8 448.4,1199.8 449.0,1198.5 449.5,1197.8 450.1,1197.5 450.6,1192.3 451.2,1191.6 451.7,1189.5 452.3,1189.0 452.8,1191.2 453.4,1188.2 453.9,1187.5 454.5,1188.5 455.0,1186.6 455.6,1185.5 456.1,1188.0 456.7,1187.6 457.1,1181.3 457.5,1187.6 457.8,1188.8 458.3,1190.8 458.9,1191.5 459.4,1193.3 460.0,1192.5 460.5,1195.5 461.1,1193.7 461.6,1195.9 462.2,1193.6 462.7,1195.3 463.3,1192.5 463.8,1193.6 464.4,1189.0 464.9,1189.9 465.5,1190.9 466.0,1190.6 466.6,1190.2 467.1,1188.0 467.7,1192.2 468.2,1191.8 468.8,1192.4 469.3,1192.2 469.9,1190.8 470.4,1192.0 471.0,1194.6 471.5,1190.2 472.1,1192.1 472.6,1191.6 473.2,1194.3 473.7,1192.6 474.3,1191.4 474.8,1193.3 475.4,1192.7 475.8,1192.3 476.2,1189.0 476.6,1195.3 477.0,1199.1 477.6,1200.1 478.1,1201.4 478.7,1200.2 479.2,1200.9 479.8,1201.5 480.3,1197.6 480.9,1196.9 481.4,1198.0 482.0,1199.0 482.5,1194.2 483.1,1193.6 483.6,1196.0 484.2,1196.3 484.7,1197.7 485.3,1195.7 485.8,1196.9 486.4,1196.5 486.9,1196.2 487.5,1197.2 488.0,1199.0 488.6,1198.4 489.1,1196.7 489.7,1199.1 490.2,1197.9 490.8,1197.7 491.3,1197.7 491.9,1197.1 492.4,1197.9 493.0,1198.0 493.5,1197.2 494.1,1195.0 494.6,1198.3 495.2,1199.0 495.5,1199.0 495.9,1160.8 496.3,1202.6 496.8,1202.3 497.4,1207.0 497.9,1206.0 498.5,1205.4 499.0,1204.8 499.6,1207.6 500.1,1206.1 500.7,1203.3 501.2,1203.8 501.8,1204.4 502.3,1201.3 502.9,1201.4 503.4,1202.8 504.0,1202.4 504.5,1201.7 505.1,1203.5 505.6,1201.7 506.2,1202.1 506.7,1204.2 507.3,1201.6 507.8,1204.2 508.4,1201.5 508.9,1200.0 509.5,1200.4 510.0,1201.7 510.6,1201.5 511.1,1200.5 511.7,1198.0 512.2,1198.3 512.8,1199.3 513.3,1200.8 513.9,1200.6 514.4,1196.1 515.0,1199.3 515.5,1198.5 516.1,1199.2 516.6,1200.0 517.2,1198.8 517.7,1198.1 518.3,1201.1 518.8,1201.3 519.4,1199.6 519.9,1200.5 520.5,1200.6 521.0,1199.5 521.6,1201.6 522.1,1199.8 522.7,1199.0 523.2,1199.9 523.8,1202.4 524.3,1201.1 524.9,1200.4 525.4,1199.8 526.0,1201.4 526.5,1200.8 527.1,1198.7 527.6,1200.2 528.2,1200.1 528.7,1201.3 529.3,1199.9 529.8,1197.3 530.4,1200.3 530.9,1198.8 531.5,1195.8 532.0,1197.7 532.6,1196.7 533.1,1197.1 533.7,1196.2 534.2,1195.2 534.8,1194.3 535.3,1194.0 535.9,1195.5 536.4,1197.6 537.0,1199.9 537.5,1201.7 538.1,1201.6 538.6,1199.7 539.2,1201.1 539.7,1199.7 540.3,1198.9 540.8,1199.1 541.4,1198.4 541.9,1199.0 542.5,1197.2 543.0,1198.3 543.6,1196.3 544.1,1196.0 544.7,1195.6 545.2,1194.0 545.8,1194.0 546.3,1193.9 546.9,1194.0 547.4,1192.2 548.0,1193.1 548.5,1193.0 549.1,1191.4 549.6,1191.7 550.2,1191.8 550.7,1190.2 551.3,1189.9 551.8,1190.8 552.4,1189.8 552.9,1188.2 553.5,1188.1 554.0,1190.1 554.6,1188.1 555.1,1186.4 555.7,1187.2 556.2,1187.7 556.8,1187.7 557.3,1186.4 557.9,1188.2 558.4,1187.6 559.0,1186.7 559.5,1187.1 560.1,1186.4 560.6,1185.4 561.2,1185.0 561.7,1182.9 562.3,1183.7 562.8,1182.0 563.4,1180.9 563.9,1179.9 564.5,1179.2 565.0,1177.8 565.6,1176.1 566.1,1174.2 566.7,1173.8 567.2,1172.2 567.8,1171.3 568.3,1171.4 568.9,1170.7 569.4,1171.0 570.0,1168.6 570.5,1169.8 571.1,1169.2 571.6,1168.5 572.2,1169.4 572.7,1167.8 572.9,1167.9 573.3,1000.2 573.7,1167.4 573.8,1167.2 574.4,1165.8 574.9,1163.1 575.5,1161.5 576.0,1159.9 576.6,1157.1 577.1,1154.3 577.7,1149.9 578.2,1145.8 578.8,1139.3 579.0,1138.4 579.4,1111.3 579.8,1136.3 579.9,1136.2 580.4,1134.1 581.0,1132.2 581.5,1128.5 582.1,1126.0 582.6,1122.6 583.2,1120.5 583.7,1117.9 584.3,1117.1 584.8,1116.1 585.4,1114.7 585.9,1113.1 586.5,1113.0 587.0,1112.8 587.6,1112.7 588.1,1111.6 588.7,1113.2 589.2,1111.4 589.8,1111.3 590.3,1110.6 590.9,1110.6 591.4,1111.6 592.0,1109.3 592.5,1109.0 593.1,1107.5 593.6,1106.5 594.2,1105.8 594.7,1096.3 595.3,1091.3 595.8,1089.1 596.4,1089.5 596.9,1089.5 597.5,1088.8 598.0,1088.4 598.6,1089.2 599.1,1089.0 599.7,1090.0 600.2,1093.0 600.8,1096.0 601.3,1100.7 601.9,1101.0 602.4,1104.8 603.0,1106.9 603.5,1110.6 604.1,1117.5 604.6,1121.0 605.2,1124.7 605.7,1124.6 606.3,1126.8 606.8,1128.3 607.4,1126.7 607.9,1127.9 608.5,1125.9 609.0,1122.8 609.6,1124.3 610.1,1123.6 610.7,1121.3 611.2,1121.0 611.8,1120.2 612.3,1117.6 612.9,1118.8 613.4,1119.2 614.0,1118.3 614.5,1119.9 615.1,1120.9 615.6,1118.4 616.2,1118.5 616.7,1119.0 617.3,1119.6 617.8,1118.9 618.4,1117.4 618.9,1116.6 619.5,1117.0 620.0,1119.6 620.6,1118.9 621.1,1120.2 621.7,1122.4 622.2,1122.8 622.8,1123.6 623.3,1126.3 623.9,1126.8 624.4,1127.6 625.0,1128.9 625.5,1130.8 626.1,1130.5 626.6,1131.5 627.2,1132.7 627.7,1133.3 628.3,1132.2 628.8,1133.7 629.4,1134.6 629.9,1135.9 630.5,1137.2 631.0,1138.4 631.6,1138.8 632.1,1139.7 632.7,1141.5 633.2,1142.8 633.8,1146.1 634.3,1146.8 634.9,1148.6 635.4,1151.3 636.0,1153.0 636.5,1156.2 637.1,1158.7 637.6,1161.4 638.2,1163.7 638.7,1165.0 639.3,1166.4 639.8,1167.1 640.4,1168.6 640.9,1169.0 641.5,1170.7 642.0,1170.3 642.6,1171.4 643.1,1172.2 643.7,1173.2 644.2,1173.0 644.8,1174.5 645.3,1175.3 645.9,1176.3 646.4,1179.0 647.0,1179.5 647.5,1179.2 648.1,1179.9 648.6,1181.3 649.2,1181.1 649.7,1181.1 650.3,1182.9 650.8,1181.9 651.4,1182.0 651.9,1183.1 652.2,1182.8 652.6,1170.3 653.0,1183.1 653.6,1183.3 654.1,1184.0 654.7,1183.6 655.2,1185.0 655.8,1184.8 656.3,1186.2 656.9,1185.7 657.4,1185.7 658.0,1186.2 658.5,1186.4 659.1,1187.7 659.6,1188.2 660.2,1189.3 660.7,1189.4 661.3,1189.4 661.8,1191.3 662.4,1191.0 662.9,1191.7 663.5,1192.6 664.0,1192.8 664.6,1191.3 665.1,1191.6 665.7,1192.7 666.2,1192.2 666.8,1192.0 667.3,1192.1 667.9,1190.0 668.4,1191.3 669.0,1190.3 669.5,1190.5 670.1,1190.3 670.6,1190.8 670.8,1191.2 671.2,1187.8 671.6,1191.6 671.7,1191.6 672.3,1191.3 672.8,1191.2 673.4,1192.4 673.9,1191.7 674.5,1190.2 675.0,1191.2 675.6,1191.5 676.1,1191.0 676.7,1191.9 677.2,1192.6 677.8,1191.9 678.3,1192.3 678.9,1192.4 679.4,1192.1 680.0,1192.8 680.5,1192.1 681.1,1192.1 681.6,1191.5 682.2,1191.9 682.7,1190.7 683.3,1190.9 683.8,1189.1 684.4,1189.6 684.9,1189.6 685.5,1189.5 686.0,1188.2 686.6,1188.0 687.1,1187.6 687.7,1186.9 688.2,1186.5 688.8,1186.5 689.3,1184.9 689.9,1184.0 690.4,1183.8 691.0,1183.4 691.5,1181.0 692.1,1182.4 692.6,1180.8 693.2,1180.1 693.7,1178.5 694.3,1178.7 694.8,1179.1 695.4,1178.5 695.9,1177.7 696.5,1177.1 697.0,1177.8 697.6,1179.3 698.1,1178.5 698.7,1178.9 699.2,1179.8 699.8,1180.9 700.3,1179.8 700.9,1181.1 701.4,1181.5 702.0,1181.4 702.5,1181.3 703.1,1182.3 703.6,1182.4 704.2,1181.1 704.7,1183.0 705.3,1182.1 705.8,1181.5 706.4,1181.2 706.9,1181.7 707.5,1180.1 708.0,1181.7 708.6,1182.2 709.1,1181.6 709.7,1179.9 710.2,1177.9 710.8,1178.0 711.3,1177.6 711.9,1178.2 712.4,1175.2 713.0,1176.0 713.5,1176.2 714.1,1175.4 714.6,1174.3 715.2,1171.6 715.7,1174.1 716.3,1173.2 716.8,1172.7 717.4,1170.6 717.9,1170.7 718.5,1172.0 719.0,1169.6 719.6,1168.6 720.1,1166.7 720.7,1167.5 721.2,1163.4 721.8,1162.9 722.3,1162.7 722.9,1161.6 723.4,1161.7 724.0,1160.4 724.5,1160.7 725.1,1158.5 725.6,1158.1 726.2,1158.1 726.7,1155.3 727.3,1157.8 727.8,1154.7 728.4,1156.1 728.9,1155.8 729.5,1155.3 730.0,1154.3 730.6,1153.0 731.1,1151.2 731.7,1153.9 732.2,1153.3 732.8,1155.3 733.3,1153.1 733.9,1154.0 734.4,1152.9 735.0,1153.4 735.5,1152.7 736.1,1153.1 736.6,1151.3 737.2,1152.6 737.7,1152.9 738.3,1154.3 738.8,1153.4 739.4,1151.7 739.9,1154.4 740.5,1152.3 741.0,1152.1 741.6,1149.5 742.1,1147.2 742.7,1151.5 743.2,1153.5 743.8,1157.5 744.3,1157.8 744.9,1160.2 745.4,1162.0 746.0,1165.3 746.5,1166.4 747.1,1170.5 747.6,1170.7 748.2,1172.1 748.7,1171.9 749.3,1173.0 749.8,1174.5 750.4,1173.4 750.9,1175.7 751.5,1175.5 752.0,1177.2 752.6,1178.5 753.1,1177.8 753.7,1175.9 754.2,1178.1 754.8,1177.0 755.3,1177.0 755.9,1177.7 756.3,1171.8 756.7,1178.9 757.0,1179.7 757.5,1180.0 758.1,1182.0 758.6,1182.1 759.2,1181.2 759.7,1183.5 760.3,1184.5 760.8,1184.8 761.4,1185.2 761.9,1186.0 762.5,1186.3 763.0,1186.2 763.6,1187.5 764.1,1188.3 764.7,1188.2 765.2,1188.8 765.8,1188.4 766.3,1188.0 766.9,1188.3 767.4,1188.9 768.0,1189.5 768.5,1189.4 769.1,1189.9 769.6,1190.3 770.2,1189.1 770.7,1189.4 771.3,1190.4 771.8,1190.8 772.4,1191.3 772.9,1191.4 773.5,1191.6 774.0,1191.2 774.6,1192.3 775.1,1191.8 775.7,1192.7 776.2,1193.2 776.8,1192.2 777.3,1192.3 777.9,1193.9 778.4,1192.0 779.0,1192.5 779.5,1191.9 780.1,1191.4 780.6,1193.2 781.2,1192.2 781.7,1192.0 782.3,1191.6 782.8,1190.1 783.4,1192.6 783.9,1191.6 784.5,1191.9 785.0,1193.3 785.6,1192.6 786.1,1193.1 786.7,1193.4 787.2,1194.5 787.8,1193.1 788.3,1194.2 788.9,1193.1 789.4,1194.9 790.0,1195.6 790.5,1195.2 791.1,1197.2 791.6,1196.2 792.2,1197.1 792.7,1196.1 793.3,1197.3 793.8,1195.7 794.4,1196.6 794.9,1196.5 795.5,1195.8 796.0,1197.4 796.6,1197.3 797.1,1195.8 797.7,1196.8 798.2,1196.1 798.8,1196.0 799.3,1196.5 799.9,1195.7 800.4,1196.0 801.0,1196.0 801.5,1195.3 802.1,1195.7 802.6,1197.2 803.2,1196.6 803.7,1198.3 804.3,1197.9 804.8,1195.6 805.4,1196.6 805.9,1194.5 806.5,1195.6 807.0,1195.7 807.6,1195.9 808.1,1194.6 808.7,1196.6 809.2,1196.5 809.8,1195.5 810.3,1196.1 810.9,1196.9 811.4,1197.4 812.0,1194.8 812.5,1197.2 813.1,1194.0 813.6,1194.8 814.2,1195.0 814.7,1196.6 815.3,1195.6 815.8,1195.5 816.4,1196.1 816.9,1194.9 817.5,1194.5 818.0,1196.1 818.6,1194.8 819.1,1193.6 819.7,1192.8 820.2,1194.7 820.8,1196.2 821.3,1195.3 821.9,1194.8 822.4,1195.8 823.0,1193.4 823.5,1195.2 824.1,1194.2 824.6,1195.9 825.2,1193.5 825.7,1195.0 826.3,1194.5 826.8,1194.4 827.4,1195.4 827.9,1194.4 828.5,1195.7 829.0,1194.4 829.6,1192.7 830.1,1196.1 830.7,1196.0 831.2,1195.4 831.8,1196.3 832.3,1195.7 832.9,1194.0 833.4,1192.6 834.0,1194.1 834.5,1194.8 835.1,1195.4 835.6,1193.5 836.2,1194.2 836.7,1197.0 837.3,1195.0 837.8,1194.7 838.4,1194.4 838.9,1197.3 839.5,1196.5 840.0,1196.7 840.6,1197.4 841.1,1196.4 841.7,1196.7 842.2,1195.4 842.8,1195.9 843.3,1195.6 843.9,1195.4 844.4,1193.4 844.8,1194.1 845.2,1190.1 845.6,1194.6 846.1,1194.6 846.6,1195.0 847.2,1196.8 847.7,1195.8 848.3,1195.1 848.8,1195.5 849.4,1196.4 849.9,1193.9 850.5,1195.3 851.0,1196.9 851.6,1197.2 852.1,1196.0 852.7,1195.6 853.2,1193.5 853.8,1194.6 854.3,1195.1 854.9,1195.5 855.4,1195.4 856.0,1192.4 856.5,1194.1 857.1,1195.3 857.6,1194.4 858.2,1194.6 858.7,1195.1 859.3,1195.0 859.8,1195.0 860.4,1195.7 860.9,1195.9 861.5,1194.1 862.0,1193.5 862.6,1193.8 863.1,1193.8 863.7,1194.1 864.2,1192.7 864.8,1193.5 865.3,1193.9 865.9,1195.5 866.4,1194.5 867.0,1193.9 867.5,1194.9 868.1,1193.9 868.6,1193.9 869.2,1194.8 869.7,1194.2 870.3,1194.0 870.8,1194.7 871.4,1193.6 871.9,1194.0 872.5,1191.6 873.0,1193.4 873.6,1195.9 874.1,1194.2 874.7,1194.6 875.2,1194.2 875.8,1193.8 876.3,1195.4 876.9,1194.9 877.4,1196.2 878.0,1194.4 878.5,1195.2 879.1,1195.1 879.6,1195.1 880.2,1196.6 880.7,1194.8 881.3,1194.7 881.8,1197.9 882.4,1195.5 882.9,1195.3 883.5,1195.8 883.9,1176.3 884.3,1195.0 884.6,1195.5 885.1,1194.2 885.7,1195.4 886.2,1195.1 886.8,1196.9 887.3,1196.4 887.9,1197.4 888.4,1197.2 889.0,1195.3 889.5,1196.2 890.1,1195.0 890.6,1195.1 891.2,1196.9 891.7,1197.0 892.3,1195.8 892.8,1195.9 893.4,1195.9 893.9,1196.0 894.5,1196.0 895.0,1194.6 895.6,1196.1 896.1,1195.0 896.7,1194.6 897.2,1195.3 897.8,1195.5 898.3,1196.2 898.9,1195.7 899.4,1195.7 900.0,1195.1 900.5,1196.2 901.1,1195.9 901.6,1195.9 902.2,1195.1 902.7,1197.4 903.3,1196.2 903.8,1196.3 904.4,1195.9 904.9,1195.5 905.5,1196.6 906.0,1194.2 906.6,1195.1 907.1,1195.2 907.7,1195.8 908.2,1195.3 908.8,1197.3 909.3,1194.1 909.9,1197.3 910.4,1195.9 911.0,1196.6 911.5,1195.3 912.1,1196.8 912.6,1195.3 913.2,1196.0 913.7,1194.3 914.3,1196.2 914.8,1195.7 915.4,1193.9 915.9,1195.7 916.5,1195.2 917.0,1196.5 917.6,1195.3 918.1,1196.1 918.7,1197.3 919.2,1195.4 919.8,1198.1 920.3,1196.5 920.9,1196.2 921.4,1195.1 922.0,1194.7 922.5,1197.3 923.1,1195.9 923.6,1196.0 924.2,1197.8 924.7,1197.3 925.3,1196.7 925.8,1195.0 926.4,1194.7 926.9,1197.8 927.5,1197.0 928.0,1196.7 928.6,1198.6 929.1,1196.4 929.7,1197.4 930.2,1199.2 930.8,1197.6 931.3,1196.5 931.9,1196.2 932.4,1198.4 933.0,1196.1 933.5,1198.3 934.1,1199.0 934.6,1196.7 935.2,1197.9 935.7,1197.4 936.3,1198.5 936.8,1197.6 937.4,1196.5 937.9,1197.7 938.5,1197.6 939.0,1196.8 939.6,1197.2 940.1,1196.5 940.7,1196.9 941.2,1198.1 941.8,1195.6 942.3,1198.1 942.9,1197.7 943.4,1196.9 944.0,1199.0 944.5,1198.3 945.1,1197.1 945.6,1197.9 946.2,1198.5 946.7,1196.2 947.3,1198.1 947.8,1197.5 948.4,1197.9 948.9,1199.8 949.5,1197.6 950.0,1197.8 950.6,1196.8 951.1,1198.2 951.7,1198.6 952.2,1195.4 952.8,1199.2 953.3,1199.5 953.9,1195.3 954.4,1196.4 955.0,1198.3 955.5,1197.8 956.1,1198.7 956.6,1197.4 957.2,1198.9 957.7,1196.2 958.3,1198.0 958.8,1196.7 959.4,1196.7 959.9,1195.5 960.5,1196.7 961.0,1198.7 961.6,1196.5 962.1,1197.0 962.7,1197.4 963.2,1196.2 963.8,1197.4 964.3,1197.5 964.9,1196.7 965.4,1195.2 966.0,1198.5 966.5,1197.2 967.1,1197.2 967.6,1196.7 968.2,1196.5 968.7,1195.5 969.3,1197.0 969.8,1197.1 970.4,1197.9 970.9,1198.8 971.5,1196.5 972.0,1198.9 972.6,1197.6 973.1,1197.8 973.7,1195.8 974.2,1197.2 974.8,1196.1 975.3,1197.7 975.9,1195.6 976.4,1197.0 977.0,1196.7 977.5,1197.6 978.1,1197.5 978.6,1197.1 979.2,1196.3 979.7,1197.7 980.3,1197.5 980.8,1196.4 981.4,1198.1 981.9,1196.7 982.5,1197.3 983.0,1197.1 983.6,1197.0 984.1,1198.0 984.7,1195.4 985.2,1198.4 985.8,1195.5 986.3,1198.3 986.9,1197.4 987.4,1195.4 988.0,1197.3 988.5,1196.6 989.1,1195.7 989.6,1198.0 990.2,1197.8 990.7,1197.2 991.3,1198.3 991.8,1196.7 992.4,1196.4 992.9,1197.8 993.5,1195.6 994.0,1197.3 994.6,1197.5 995.1,1196.6 995.7,1196.5 996.2,1196.6 996.8,1196.5 997.3,1195.7 997.9,1192.7 998.4,1196.0 999.0,1195.2 999.5,1197.3 1000.1,1195.7 1000.6,1196.5 1001.2,1196.8 1001.7,1197.2 1002.3,1195.2 1002.4,1195.8 1002.8,1062.9 1003.1,1197.6 1003.4,1197.2 1003.9,1196.7 1004.5,1195.4 1005.0,1198.1 1005.6,1196.7 1006.1,1197.4 1006.7,1195.7 1007.2,1197.9 1007.8,1197.5 1008.3,1195.8 1008.9,1198.0 1009.4,1195.0 1010.0,1196.8 1010.5,1196.5 1011.1,1196.4 1011.6,1195.0 1012.2,1195.2 1012.7,1196.4 1013.3,1196.5 1013.8,1195.3 1014.4,1195.3 1014.9,1194.6 1015.5,1196.3 1016.0,1194.8 1016.6,1194.2 1017.1,1193.1 1017.7,1193.3 1018.2,1193.9 1018.8,1192.9 1019.3,1194.5 1019.9,1194.7 1020.4,1194.1 1021.0,1194.9 1021.5,1195.3 1022.1,1194.1 1022.6,1196.3 1023.2,1193.2 1023.7,1197.4 1024.3,1194.9 1024.8,1196.4 1025.4,1196.2 1025.9,1196.6 1026.5,1195.7 1027.0,1196.9 1027.6,1195.2 1028.1,1196.8 1028.7,1196.1 1029.2,1196.5 1029.8,1197.0 1030.3,1195.3 1030.9,1195.7 1031.4,1195.8 1032.0,1196.1 1032.5,1196.2 1033.1,1196.7 1033.6,1196.3 1034.2,1195.9 1034.7,1196.1 1035.3,1196.3 1035.8,1196.1 1036.4,1197.0 1036.9,1194.9 1037.5,1195.0 1038.0,1194.1 1038.6,1194.5 1039.1,1195.2 1039.7,1195.8 1040.2,1194.8 1040.8,1195.3 1041.3,1195.1 1041.9,1195.2 1042.4,1195.1 1043.0,1194.6 1043.5,1193.8 1044.1,1194.5 1044.6,1195.6 1045.2,1195.3 1045.7,1196.6 1046.3,1196.1 1046.8,1196.5 1047.4,1195.1 1047.9,1195.0 1048.5,1195.9 1049.0,1196.2 1049.6,1195.6 1050.1,1195.7 1050.7,1195.9 1051.2,1195.8 1051.8,1195.7 1052.3,1195.5 1052.9,1195.1 1053.4,1194.8 1054.0,1195.0 1054.5,1195.4 1055.1,1194.8 1055.6,1195.8 1056.2,1195.2 1056.7,1194.6 1057.3,1195.4 1057.8,1196.1 1058.4,1195.1 1058.9,1194.9 1059.5,1194.6 1060.0,1193.4 1060.6,1193.8 1061.1,1193.7 1061.7,1194.1 1062.2,1192.9 1062.8,1193.3 1063.3,1192.8 1063.9,1192.6 1064.4,1192.5 1065.0,1193.2 1065.5,1192.2 1066.1,1191.7 1066.6,1191.6 1067.2,1190.6 1067.7,1189.4 1068.3,1187.4 1068.8,1185.7 1069.4,1183.8 1069.9,1181.4 1070.5,1180.3 1071.0,1181.4 1071.6,1180.3 1072.1,1180.6 1072.7,1179.7 1073.2,1179.8 1073.8,1179.6 1074.3,1180.1 1074.9,1179.6 1075.4,1179.3 1076.0,1179.9 1076.5,1181.4 1077.1,1182.3 1077.6,1183.0 1078.2,1183.6 1078.7,1183.7 1079.3,1184.9 1079.8,1185.1 1080.4,1186.0 1080.9,1186.6 1081.5,1186.3 1082.0,1187.4 1082.6,1187.8 1083.1,1188.1 1083.7,1188.6 1084.2,1189.6 1084.8,1189.4 1085.3,1189.7 1085.9,1190.2 1086.4,1190.5 1087.0,1190.0 1087.5,1188.7 1088.1,1188.1 1088.6,1187.5 1089.2,1187.1 1089.7,1186.0 1090.3,1184.6 1090.8,1184.3 1091.4,1182.5 1091.9,1179.5 1092.5,1176.8 1093.0,1173.8 1093.6,1168.9 1094.1,1163.4 1094.7,1157.3 1095.2,1150.2 1095.8,1143.0 1096.3,1136.3 1096.9,1128.1 1097.4,1122.0 1098.0,1117.8 1098.5,1115.9 1099.1,1114.2 1099.6,1112.7 1100.2,1112.5 1100.7,1114.3 1101.3,1116.7 1101.8,1121.6 1102.4,1126.0 1102.9,1129.4 1103.5,1132.8 1104.0,1135.2 1104.6,1138.0 1105.1,1140.2 1105.7,1142.9 1106.2,1145.4 1106.8,1146.4 1107.3,1148.9 1107.9,1150.7 1108.4,1152.3 1109.0,1154.1 1109.5,1155.0 1110.1,1157.3 1110.6,1158.5 1111.2,1160.6 1111.7,1160.9 1112.3,1161.9 1112.8,1163.2 1113.4,1163.6 1113.9,1164.8 1114.5,1165.1 1114.9,1165.9 1115.3,1155.7 1115.7,1166.1 1116.1,1166.7 1116.7,1168.3 1117.2,1168.8 1117.8,1170.1 1118.3,1172.0 1118.9,1173.4 1119.4,1174.5 1120.0,1175.1 1120.5,1176.8 1121.1,1177.5 1121.6,1178.8 1122.2,1179.2 1122.7,1179.5 1123.3,1180.8 1123.8,1180.6 1124.4,1181.3 1124.9,1181.4 1125.5,1182.2 1126.0,1183.4 1126.6,1184.0 1127.1,1183.8 1127.7,1184.9 1128.2,1185.5 1128.8,1186.4 1129.3,1186.1 1129.9,1186.2 1130.4,1187.3 1131.0,1187.5 1131.5,1188.4 1132.1,1188.9 1132.6,1190.0 1133.2,1189.9 1133.7,1190.9 1134.3,1191.0 1134.8,1191.0 1135.4,1192.0 1135.9,1192.6 1136.5,1192.6 1137.0,1192.7 1137.6,1193.6 1138.1,1193.2 1138.7,1194.1 1139.2,1194.9 1139.8,1194.1 1140.3,1194.3 1140.9,1195.2 1141.4,1194.8 1142.0,1195.1 1142.5,1195.1 1143.1,1194.9 1143.6,1195.5 1144.2,1195.0 1144.7,1194.9 1145.3,1195.3 1145.8,1195.7 1146.4,1195.3 1146.9,1195.6 1147.5,1195.8 1148.0,1195.6 1148.6,1195.6 1149.1,1196.3 1149.7,1195.8 1150.2,1196.7 1150.8,1197.1 1151.3,1197.2 1151.9,1197.0 1152.4,1197.8 1153.0,1197.9 1153.5,1197.6 1154.1,1197.8 1154.6,1197.7 1155.2,1198.5 1155.7,1198.6 1156.3,1198.3 1156.8,1198.1 1157.4,1198.2 1157.9,1198.5 1158.5,1198.7 1159.0,1199.2 1159.6,1199.2 1160.1,1199.6 1160.7,1199.3 1161.2,1200.0 1161.8,1199.1 1162.3,1199.5 1162.9,1199.9 1163.4,1200.2 1164.0,1200.4 1164.5,1200.0 1165.1,1200.0 1165.6,1200.6 1166.2,1200.4 1166.7,1200.5 1167.3,1200.8 1167.8,1200.2 1168.4,1200.7 1168.9,1200.7 1169.5,1200.1 1170.0,1200.3 1170.6,1201.3 1171.1,1201.2 1171.7,1200.4 1172.2,1200.5 1172.8,1200.2 1173.3,1201.0 1173.9,1200.9 1174.4,1200.7 1175.0,1201.6 1175.5,1200.9 1176.1,1200.7 1176.6,1200.8 1177.2,1200.8 1177.7,1201.1 1178.3,1200.7 1178.8,1200.9 1179.4,1201.6 1179.9,1200.7 1180.5,1200.6 1181.0,1201.1 1181.6,1200.7 1182.1,1200.6 1182.7,1200.9 1183.2,1201.3 1183.8,1200.6 1184.3,1200.7 1184.9,1200.1 1185.4,1201.2 1186.0,1200.6 1186.5,1200.9 1187.1,1201.2 1187.6,1200.9 1188.2,1201.0 1188.7,1200.5 1189.3,1201.4 1189.8,1200.4 1190.4,1200.7 1190.9,1200.3 1191.5,1200.3 1192.0,1201.0 1192.6,1200.0 1193.1,1200.0 1193.7,1200.3 1194.2,1200.7 1194.8,1199.5 1195.3,1200.6 1195.9,1200.3 1196.4,1200.8 1197.0,1201.3 1197.5,1200.2 1198.1,1200.4 1198.6,1200.6 1199.2,1199.8 1199.7,1200.0 1200.3,1200.0 1200.8,1200.1 1201.4,1199.8 1201.9,1199.6 1202.5,1199.7 1203.0,1200.1 1203.6,1199.4 1204.1,1199.7 1204.7,1199.9 1205.2,1199.1 1205.8,1199.2 1206.3,1200.0 1206.9,1199.3 1207.4,1199.1 1208.0,1199.5 1208.5,1199.5 1209.1,1199.3 1209.6,1199.3 1210.2,1198.8 1210.7,1198.9 1211.3,1199.0 1211.8,1199.4 1212.4,1199.3 1212.9,1199.9 1213.5,1199.7 1214.0,1199.7 1214.6,1199.5 1215.1,1199.3 1215.7,1199.7 1216.2,1199.6 1216.8,1199.8 1217.3,1199.8 1217.9,1199.8 1218.4,1199.9 1219.0,1200.2 1219.5,1200.5 1220.1,1200.7 1220.6,1200.8 1221.2,1200.5 1221.7,1200.7 1222.3,1201.2 1222.8,1200.9 1223.4,1200.7 1223.9,1200.6 1224.5,1201.1 1225.0,1201.0 1225.6,1200.7 1226.1,1201.6 1226.7,1201.0 1227.2,1201.0 1227.8,1201.1 1228.3,1200.8 1228.9,1201.3 1229.4,1200.8 1230.0,1200.8 1230.5,1200.5 1231.1,1201.5 1231.6,1201.7 1232.2,1200.7 1232.7,1200.4 1233.3,1200.9 1233.8,1200.9 1234.4,1200.8 1234.9,1201.4 1235.5,1201.0 1236.0,1201.9 1236.6,1201.2 1237.1,1201.5 1237.7,1201.1 1238.2,1201.6 1238.8,1201.9 1239.3,1201.2 1239.9,1201.2 1240.4,1201.4 1241.0,1201.3 1241.5,1200.7 1242.1,1200.8 1242.6,1201.2 1243.2,1201.1 1243.7,1200.9 1244.3,1201.4 1244.8,1200.3 1245.4,1200.7 1245.9,1201.1 1246.5,1201.0 1247.0,1200.6 1247.6,1200.9 1248.1,1200.8 1248.7,1200.9 1249.2,1200.7 1249.8,1200.3 1250.3,1200.5 1250.9,1200.4 1251.4,1199.8 1251.5,1199.9 1251.9,1195.0 1252.3,1200.4 1252.5,1200.1 1253.1,1200.3 1253.6,1200.2 1254.2,1200.0 1254.7,1200.8 1255.3,1200.0 1255.8,1201.0 1256.4,1200.1 1256.9,1200.5 1257.5,1200.6 1258.0,1200.6 1258.6,1200.7 1259.1,1200.9 1259.7,1200.9 1260.2,1201.2 1260.8,1199.9 1261.3,1200.7 1261.9,1200.6 1262.4,1200.2 1263.0,1199.9 1263.5,1201.0 1264.1,1200.6 1264.6,1199.7 1264.8,1200.1 1265.2,1175.0 1265.6,1200.5 1265.7,1200.4 1266.3,1200.2 1266.8,1200.3 1267.4,1199.9 1267.9,1200.2 1268.5,1200.7 1269.0,1199.9 1269.6,1199.6 1270.1,1199.5 1270.7,1200.4 1271.2,1199.6 1271.8,1199.9 1272.3,1200.1 1272.9,1200.5 1273.4,1200.2 1274.0,1199.6 1274.5,1199.9 1275.1,1199.4 1275.6,1199.4 1276.2,1198.9 1276.7,1198.8 1277.3,1198.4 1277.8,1198.0 1278.4,1198.1 1278.9,1197.9 1279.5,1197.1 1280.0,1196.8 1280.6,1196.9 1281.1,1197.0 1281.7,1196.8 1282.2,1196.0 1282.8,1195.4 1283.3,1195.6 1283.9,1195.2 1284.4,1195.0 1285.0,1195.0 1285.5,1194.3 1286.1,1194.0 1286.6,1192.9 1287.2,1193.9 1287.7,1193.3 1288.3,1193.0 1288.8,1192.9 1289.4,1192.3 1289.9,1191.8 1290.5,1192.0 1291.0,1191.6 1291.6,1191.2 1292.1,1191.6 1292.7,1191.0 1293.2,1190.5 1293.8,1190.3 1294.3,1190.1 1294.9,1188.6 1295.4,1188.8 1296.0,1188.6 1296.5,1187.7 1297.1,1188.1 1297.6,1187.4 1298.2,1188.2 1298.7,1187.8 1299.3,1188.2 1299.8,1189.1 1300.4,1189.5 1300.9,1189.4 1301.5,1189.3 1302.0,1189.3 1302.6,1189.9 1303.1,1190.9 1303.7,1190.8 1304.2,1190.1 1304.8,1190.4 1305.3,1190.2 1305.9,1191.0 1306.4,1190.9 1307.0,1190.5 1307.5,1191.0 1308.1,1190.8 1308.6,1190.3 1309.2,1190.6 1309.7,1190.9 1310.3,1189.9 1310.8,1189.7 1311.4,1189.3 1311.9,1189.5 1312.5,1190.2 1313.0,1189.9 1313.6,1189.0 1314.1,1189.3 1314.7,1190.5 1315.2,1190.1 1315.8,1189.8 1316.3,1190.7 1316.9,1190.4 1317.4,1190.4 1318.0,1191.1 1318.5,1190.8 1319.1,1191.1 1319.6,1191.3 1320.2,1192.1 1320.7,1192.4 1321.3,1193.4 1321.8,1193.2 1322.4,1192.9 1322.9,1193.1 1323.5,1193.4 1324.0,1193.8 1324.6,1194.1 1325.1,1194.5 1325.7,1194.9 1326.2,1195.1 1326.8,1195.0 1327.3,1195.7 1327.9,1195.5 1328.4,1196.8 1329.0,1195.9 1329.5,1196.8 1330.1,1197.4 1330.6,1197.1 1331.2,1197.7 1331.7,1198.8 1332.3,1198.4 1332.8,1199.3 1333.4,1199.3 1333.9,1199.6 1334.5,1200.8 1335.0,1200.6 1335.6,1200.7 1336.1,1201.0 1336.7,1201.4 1337.2,1201.5 1337.8,1202.2 1338.3,1201.9 1338.9,1201.9 1339.4,1201.9 1340.0,1202.3 1340.5,1202.2 1341.1,1202.7 1341.6,1202.6 1342.2,1202.2 1342.7,1204.0 1343.3,1203.6 1343.8,1204.4 1344.4,1204.0 1344.9,1203.9 1345.5,1203.3 1346.0,1203.8 1346.6,1204.1 1347.1,1203.8 1347.7,1204.2 1348.2,1204.1 1348.8,1203.7 1349.3,1203.6 1349.9,1203.0 1350.4,1204.4 1351.0,1203.7 1351.5,1203.0 1352.1,1202.9 1352.6,1202.8 1353.2,1202.7 1353.7,1203.1 1354.3,1202.5 1354.8,1202.7 1355.4,1202.4 1355.9,1202.4 1356.5,1202.1 1357.0,1202.7 1357.6,1202.7 1358.1,1202.0 1358.7,1201.8 1359.2,1202.5 1359.8,1201.9 1360.3,1202.2 1360.9,1202.7 1361.4,1203.2 1362.0,1202.6 1362.5,1202.5 1363.1,1203.0 1363.6,1202.5 1364.2,1202.6 1364.7,1202.9 1365.3,1203.5 1365.8,1202.5 1366.4,1202.4 1366.9,1203.2 1367.5,1203.3 1368.0,1202.9 1368.6,1203.3 1369.1,1203.6 1369.7,1203.0 1370.2,1202.3 1370.8,1203.1 1371.3,1203.5 1371.9,1202.8 1372.4,1203.7 1373.0,1203.1 1373.5,1202.4 1374.1,1203.1 1374.6,1202.6 1375.2,1203.5 1375.7,1203.3 1376.3,1203.6 1376.8,1202.4 1377.4,1203.1 1377.9,1203.4 1378.5,1203.4 1379.0,1203.2 1379.6,1203.1 1380.1,1203.2 1380.7,1203.3 1381.2,1203.5 1381.8,1202.0 1382.3,1202.6 1382.9,1202.8 1383.4,1203.0 1384.0,1202.9 1384.5,1202.6 1385.1,1202.7 1385.6,1202.9 1386.2,1203.0 1386.7,1202.4 1387.3,1202.4 1387.8,1202.2 1388.4,1202.9 1388.9,1202.2 1389.5,1202.5 1390.0,1202.1 1390.6,1201.9 1391.1,1202.5 1391.7,1202.1 1392.2,1202.1 1392.8,1202.3 1393.3,1202.1 1393.9,1201.8 1394.4,1201.7 1395.0,1202.3 1395.5,1201.8 1396.1,1202.4 1396.6,1202.0 1397.2,1201.6 1397.7,1201.4 1398.3,1201.3 1398.8,1202.1 1399.4,1201.9 1399.9,1201.5 1400.5,1201.2 1401.0,1201.5 1401.6,1201.4 1402.1,1201.5 1402.7,1201.2 1403.2,1200.9 1403.8,1201.5 1404.3,1201.4 1404.9,1201.1 1405.4,1200.8 1406.0,1201.6 1406.5,1201.9 1407.1,1201.0 1407.6,1200.6 1408.2,1200.9 1408.7,1201.3 1409.3,1201.6 1409.8,1201.2 1410.4,1200.9 1410.9,1201.5 1411.5,1201.1 1412.0,1200.7 1412.6,1201.0 1413.1,1200.7 1413.7,1201.0 1414.2,1200.3 1414.8,1200.8 1415.3,1201.1 1415.9,1200.3 1416.4,1201.2 1417.0,1201.5 1417.5,1201.2 1418.1,1201.6 1418.6,1201.0 1419.2,1201.8 1419.7,1201.3 1420.3,1200.8 1420.8,1201.0 1421.4,1200.7 1421.9,1201.1 1422.5,1201.3 1423.0,1201.4 1423.6,1201.0 1424.1,1200.7 1424.7,1200.7 1425.2,1200.6 1425.8,1201.1 1426.3,1200.4 1426.9,1200.7 1427.4,1200.7 1428.0,1200.8 1428.5,1200.2 1429.1,1200.3 1429.6,1200.3 1430.2,1200.9 1430.7,1200.0 1431.3,1200.1 1431.8,1200.8 1432.4,1200.8 1432.9,1201.2 1433.5,1200.5 1434.0,1200.9 1434.6,1199.9 1435.1,1200.5 1435.7,1200.5 1436.2,1200.7 1436.8,1200.2 1437.3,1200.7 1437.9,1200.8 1438.4,1200.2 1439.0,1199.9 1439.5,1199.8 1440.1,1199.8 1440.6,1199.9 1441.2,1199.3 1441.7,1199.3 1442.3,1199.8 1442.8,1199.5 1443.4,1200.1 1443.9,1199.8 1444.5,1199.5 1445.0,1199.1 1445.6,1199.6 1446.1,1199.1 1446.7,1198.9 1447.2,1200.4 1447.8,1198.9 1448.3,1200.2 1448.9,1200.5 1449.4,1199.5 1450.0,1199.6 1450.5,1199.9 1451.1,1199.0 1451.6,1199.4 1452.2,1199.8 1452.7,1199.1 1453.3,1200.0 1453.8,1199.4 1454.4,1199.7 1454.9,1200.0 1455.5,1198.9 1456.0,1198.9 1456.6,1199.4 1457.1,1199.3 1457.7,1198.9 1458.2,1199.1 1458.8,1199.1 1459.3,1198.8 1459.9,1198.7 1460.4,1199.0 1461.0,1199.2 1461.5,1199.3 1462.1,1198.8 1462.6,1199.5 1463.2,1199.6 1463.7,1199.0 1464.3,1198.6 1464.8,1199.0 1465.4,1199.1 1465.9,1198.6 1466.5,1199.4 1467.0,1198.8 1467.6,1199.2 1468.1,1198.9 1468.7,1199.5 1469.2,1198.7 1469.8,1198.7 1470.3,1198.3 1470.9,1198.5 1471.4,1198.2 1472.0,1199.7 1472.5,1198.4 1473.1,1198.3 1473.6,1198.3 1474.2,1198.2 1474.7,1198.1 1475.3,1197.3 1475.8,1198.6 1476.4,1198.4 1476.9,1198.0 1477.5,1198.8 1478.0,1198.2 1478.6,1197.8 1479.1,1197.6 1479.7,1198.1 1480.2,1198.0 1480.8,1197.7 1481.3,1197.2 1481.9,1198.0 1482.4,1197.6 1483.0,1197.5 1483.5,1198.4 1484.1,1197.9 1484.6,1197.5 1485.2,1198.1 1485.7,1198.3 1486.3,1197.1 1486.8,1198.1 1487.4,1197.6 1487.9,1197.4 1488.5,1198.2 1489.0,1198.3 1489.6,1198.1 1490.1,1199.1 1490.7,1198.6 1491.2,1198.3 1491.8,1197.9 1492.3,1198.5 1492.9,1198.3 1493.4,1197.4 1494.0,1197.0 1494.5,1197.2 1495.1,1196.3 1495.6,1196.1 1496.2,1197.1 1496.7,1196.0 1497.3,1195.5 1497.8,1196.4 1498.4,1197.0 1498.9,1196.8 1499.5,1197.1 1500.0,1197.5 1500.6,1197.7 1501.1,1197.7 1501.7,1197.6 1502.2,1198.0 1502.8,1198.9 1503.3,1197.7 1503.9,1197.5 1504.4,1197.3 1505.0,1197.6 1505.5,1197.0 1506.1,1197.5 1506.6,1197.1 1507.2,1198.0 1507.7,1198.6 1508.3,1197.9 1508.8,1198.6 1509.4,1197.1 1509.9,1197.8 1510.5,1197.4 1511.0,1197.4 1511.6,1196.9 1512.1,1197.0 1512.7,1196.6 1513.2,1196.2 1513.8,1196.8 1514.3,1196.7 1514.9,1196.5 1515.4,1195.4 1516.0,1195.1 1516.5,1194.6 1517.1,1195.0 1517.6,1195.0 1518.2,1194.5 1518.7,1193.9 1519.3,1193.8 1519.8,1193.6 1520.4,1193.3 1520.9,1192.9 1521.5,1193.1 1522.0,1192.7 1522.6,1191.7 1523.1,1191.8 1523.7,1191.7 1524.2,1191.4 1524.8,1192.0 1525.3,1192.5 1525.9,1193.2 1526.4,1193.0 1527.0,1193.6 1527.5,1193.8 1528.1,1193.7 1528.6,1193.8 1529.2,1195.1 1529.7,1194.9 1530.3,1195.4 1530.8,1195.4 1531.4,1194.9 1531.9,1195.3 1532.5,1195.8 1533.0,1195.7 1533.6,1195.6 1534.1,1195.9 1534.7,1195.7 1535.2,1196.1 1535.8,1196.2 1536.3,1196.8 1536.9,1196.9 1537.4,1197.5 1538.0,1197.2 1538.5,1197.2 1539.1,1197.1 1539.6,1197.2 1540.2,1197.1 1540.7,1197.0 1541.3,1197.3 1541.8,1196.7 1542.4,1197.2 1542.9,1196.9 1543.5,1196.8 1544.0,1196.8 1544.6,1198.2 1545.1,1197.0 1545.7,1197.1 1545.9,1196.6 1546.3,1189.2 1546.7,1196.8 1546.8,1196.9 1547.3,1196.4 1547.9,1196.9 1548.4,1196.5 1549.0,1196.0 1549.5,1196.5 1550.1,1196.4 1550.6,1195.9 1551.2,1196.4 1551.7,1195.9 1552.3,1196.7 1552.8,1196.5 1553.4,1196.5 1553.9,1195.8 1554.5,1197.1 1555.0,1196.4 1555.6,1196.7 1556.1,1196.3 1556.7,1196.3 1557.2,1195.9 1557.8,1196.5 1558.3,1196.6 1558.9,1195.9 1559.4,1197.0 1560.0,1196.2 1560.5,1196.6 1561.1,1196.4 1561.6,1197.3 1562.2,1196.6 1562.7,1196.5 1563.3,1197.0 1563.8,1196.9 1564.4,1197.3 1564.9,1196.5 1565.5,1196.5 1566.0,1196.6 1566.6,1196.7 1567.1,1197.6 1567.7,1197.5 1568.2,1197.1 1568.8,1197.3 1569.3,1196.1 1569.9,1197.7 1570.4,1197.8 1571.0,1196.4 1571.5,1197.1 1572.1,1197.6 1572.6,1198.5 1573.2,1197.7 1573.7,1198.3 1574.3,1198.7 1574.8,1198.2 1575.4,1197.3 1575.9,1197.2 1576.5,1198.0 1577.0,1198.7 1577.6,1198.6 1578.1,1197.5 1578.7,1198.5 1579.2,1197.8 1579.8,1198.4 1580.3,1199.3 1580.9,1198.6 1581.4,1198.1 1582.0,1198.2 1582.5,1199.1 1583.1,1199.2 1583.6,1198.8 1584.2,1198.3 1584.7,1199.1 1585.3,1199.4 1585.8,1198.1 1586.4,1199.4 1586.9,1198.8 1587.5,1199.1 1588.0,1199.8 1588.6,1198.2 1589.1,1198.9 1589.7,1200.4 1590.2,1200.1 1590.8,1198.8 1591.3,1198.7 1591.9,1200.3 1592.4,1199.6 1593.0,1199.7 1593.5,1198.5 1594.1,1199.6 1594.6,1198.5 1595.2,1199.4 1595.7,1200.9 1596.3,1200.7 1596.8,1201.0 1597.4,1199.8 1597.9,1200.2 1598.5,1199.6 1599.0,1201.4 1599.6,1199.4 1600.1,1198.8 1600.7,1199.5 1601.2,1200.6 1601.8,1199.6 1602.3,1200.2 1602.9,1198.9 1603.4,1199.4 1604.0,1199.0 1604.5,1199.1 1605.1,1199.8 1605.6,1200.5 1606.2,1201.5 1606.7,1200.5 1607.3,1199.3 1607.8,1199.1 1608.4,1198.6 1608.9,1199.9 1609.5,1199.4 1610.0,1200.0 1610.6,1199.1 1611.1,1201.4 1611.7,1199.9 1612.2,1200.7 1612.8,1200.0 1613.3,1202.3 1613.9,1199.1 1614.4,1200.5 1615.0,1201.3 1615.5,1200.3 1616.1,1201.4 1616.6,1200.6 1617.2,1201.4 1617.7,1200.5 1618.3,1202.2 1618.8,1199.2 1619.4,1201.5 1619.9,1200.4 1620.5,1200.3 1621.0,1201.1 1621.6,1200.3 1622.1,1200.3 1622.7,1201.6 1623.2,1200.1 1623.8,1200.9 1624.3,1201.9 1624.9,1200.0 1625.4,1202.0 1626.0,1199.9 1626.5,1201.2 1627.1,1201.0 1627.6,1199.5 1628.2,1201.7 1628.7,1199.7 1629.3,1202.7 1629.8,1202.9 1630.4,1200.6 1630.9,1201.3 1631.5,1200.9 1632.0,1199.7 1632.6,1200.4 1633.1,1201.2 1633.7,1201.3 1634.2,1202.7 1634.8,1200.9 1635.3,1200.8 1635.9,1202.2"/></g>
<path d="M367.5 594.7v8.8 M367.5 1233.8v8.8 M648.9 594.7v8.8 M648.9 1233.8v8.8 M930.3 594.7v8.8 M930.3 1233.8v8.8 M1211.7 594.7v8.8 M1211.7 1233.8v8.8 M1493.1 594.7v8.8 M1493.1 1233.8v8.8 M141.8 588.1h-8.6 M141.8 515.9h-8.6 M141.8 443.7h-8.6 M141.8 371.5h-8.6 M141.8 299.3h-8.6 M141.8 227.1h-8.6 M141.8 154.9h-8.6 M141.8 82.7h-8.6 M141.8 1199.3h-8.6 M141.8 1128.0h-8.6 M141.8 1056.7h-8.6 M141.8 985.4h-8.6 M141.8 914.1h-8.6 M141.8 842.8h-8.6 M141.8 771.5h-8.6 M141.8 700.2h-8.6" stroke="#000" stroke-width="2.4" fill="none"/>
<rect x="141.8" y="33.6" width="1564.5" height="561.1" fill="none" stroke="#000" stroke-width="4.7"/>
<rect x="141.8" y="672.9" width="1564.5" height="560.9" fill="none" stroke="#000" stroke-width="4.7"/>
<g font-size="34.1">
<text x="367.5" y="635.4" text-anchor="middle">6</text>
<text x="367.5" y="1274.9" text-anchor="middle">6</text>
<text x="648.9" y="635.4" text-anchor="middle">8</text>
<text x="648.9" y="1274.9" text-anchor="middle">8</text>
<text x="930.3" y="635.4" text-anchor="middle">10</text>
<text x="930.3" y="1274.9" text-anchor="middle">10</text>
<text x="1211.7" y="635.4" text-anchor="middle">12</text>
<text x="1211.7" y="1274.9" text-anchor="middle">12</text>
<text x="1493.1" y="635.4" text-anchor="middle">14</text>
<text x="1493.1" y="1274.9" text-anchor="middle">14</text>
<text x="127.2" y="600.6" text-anchor="end">0.00</text>
<text x="127.2" y="528.4" text-anchor="end">0.25</text>
<text x="127.2" y="456.2" text-anchor="end">0.50</text>
<text x="127.2" y="384.0" text-anchor="end">0.75</text>
<text x="127.2" y="311.8" text-anchor="end">1.00</text>
<text x="127.2" y="239.6" text-anchor="end">1.25</text>
<text x="127.2" y="167.4" text-anchor="end">1.50</text>
<text x="127.2" y="95.2" text-anchor="end">1.75</text>
<text x="127.2" y="1211.8" text-anchor="end">0.0</text>
<text x="127.2" y="1140.5" text-anchor="end">0.2</text>
<text x="127.2" y="1069.2" text-anchor="end">0.4</text>
<text x="127.2" y="997.9" text-anchor="end">0.6</text>
<text x="127.2" y="926.6" text-anchor="end">0.8</text>
<text x="127.2" y="855.3" text-anchor="end">1.0</text>
<text x="127.2" y="784.0" text-anchor="end">1.2</text>
<text x="127.2" y="712.7" text-anchor="end">1.4</text>
<text x="142" y="29.3">1e−14</text>
<text x="142" y="668.0">1e−14</text>
<text x="922.8" y="1313.5" text-anchor="middle" letter-spacing="0.2">Wavelength (<tspan font-style="italic">μ</tspan>m)</text>
<text transform="translate(33.2 315) rotate(-90)" text-anchor="middle">Flux (W/m<tspan font-size="23.3" dy="-12.6">2</tspan><tspan dy="12.6">/</tspan><tspan font-style="italic">μ</tspan>m)</text>
<text transform="translate(55 954.2) rotate(-90)" text-anchor="middle">Flux (W/m<tspan font-size="23.3" dy="-12.6">2</tspan><tspan dy="12.6">/</tspan><tspan font-style="italic">μ</tspan>m)</text>
</g>
<rect x="1378.1" y="50.6" width="311.6" height="161.8" rx="5.5" fill="#fff" fill-opacity="0.8" stroke="#ccc" stroke-width="1.8"/>
<path d="M1390.5 78.6H1461.6" stroke="#000" stroke-width="2.5"/>
<path d="M1390.5 128.9H1461.6" stroke="#4682b4" stroke-width="2.5"/>
<path d="M1390.5 179.1H1461.6" stroke="#000" stroke-width="2.6" stroke-dasharray="2.6 4.25" stroke-dashoffset="-1.2"/>
<g font-size="34.2"><text x="1488.1" y="91">ON</text><text x="1488.1" y="141.3">OFF</text><text x="1488.1" y="191.7">Continuum</text></g>
<rect x="1080.2" y="689.7" width="608.8" height="61" rx="5.5" fill="#fff" fill-opacity="0.8" stroke="#ccc" stroke-width="1.8"/>
<path d="M1093.2 717.6H1164" stroke="#46a037" stroke-width="2.5"/>
<text font-size="34.2" x="1189.7" y="730.1">d203-504 disk PAH emission</text>
</svg></body></html>
